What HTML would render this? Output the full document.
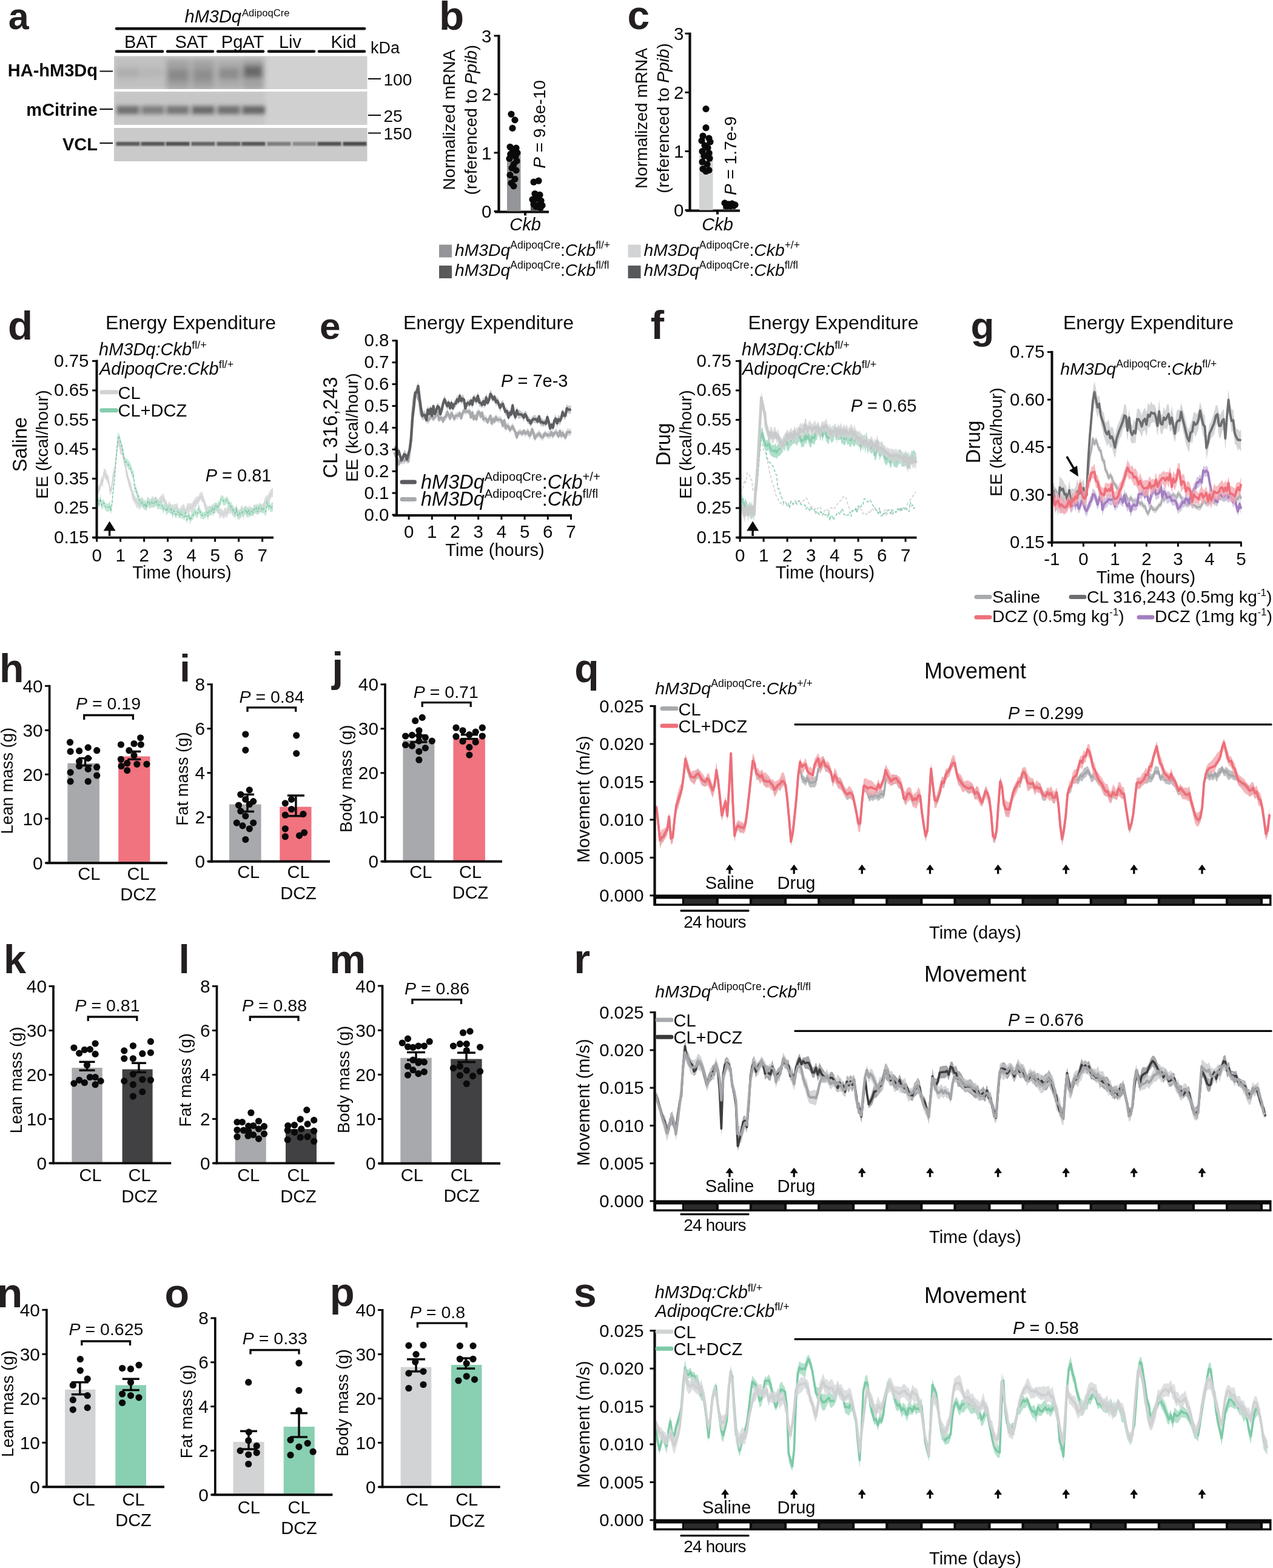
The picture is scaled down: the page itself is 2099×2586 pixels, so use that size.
<!DOCTYPE html>
<html><head><meta charset="utf-8"><title>Figure</title>
<style>html,body{margin:0;padding:0;background:#fff;overflow:hidden;}svg{display:block;}</style>
</head><body>
<svg width="2099" height="2586" viewBox="0 0 2099 2586" font-family="'Liberation Sans', Arial, Helvetica, sans-serif" fill="#0a0a0a"><text x="13.7" y="47.5" font-size="61" font-weight="bold" fill="#231f20">a</text>
<text x="304.5" y="37" font-size="29"><tspan font-style="italic">hM3Dq</tspan><tspan font-size="16.6" dx="1" dy="-10">AdipoqCre</tspan></text>
<line x1="192" y1="47.3" x2="601" y2="47.3" stroke="#0a0a0a" stroke-width="4.5" stroke-linecap="round" />
<text x="232" y="79" font-size="29" text-anchor="middle">BAT</text>
<text x="315.5" y="79" font-size="29" text-anchor="middle">SAT</text>
<text x="400" y="79" font-size="29" text-anchor="middle">PgAT</text>
<text x="478.5" y="79" font-size="29" text-anchor="middle">Liv</text>
<text x="566.5" y="79" font-size="29" text-anchor="middle">Kid</text>
<line x1="192" y1="84.8" x2="268" y2="84.8" stroke="#0a0a0a" stroke-width="4.5" stroke-linecap="round" />
<line x1="276" y1="84.8" x2="351" y2="84.8" stroke="#0a0a0a" stroke-width="4.5" stroke-linecap="round" />
<line x1="359" y1="84.8" x2="434" y2="84.8" stroke="#0a0a0a" stroke-width="4.5" stroke-linecap="round" />
<line x1="443" y1="84.8" x2="518" y2="84.8" stroke="#0a0a0a" stroke-width="4.5" stroke-linecap="round" />
<line x1="526" y1="84.8" x2="601" y2="84.8" stroke="#0a0a0a" stroke-width="4.5" stroke-linecap="round" />
<text x="611" y="88" font-size="27">kDa</text>
<defs><filter id="bl" x="-20%" y="-50%" width="140%" height="200%"><feGaussianBlur stdDeviation="3.2"/></filter><filter id="bl2" x="-20%" y="-50%" width="140%" height="200%"><feGaussianBlur stdDeviation="2.2"/></filter><filter id="bl3" x="-20%" y="-50%" width="140%" height="200%"><feGaussianBlur stdDeviation="1.2"/></filter><filter id="bl4" x="-20%" y="-50%" width="140%" height="200%"><feGaussianBlur stdDeviation="4.5"/></filter><filter id="bl5" x="-20%" y="-50%" width="140%" height="200%"><feGaussianBlur stdDeviation="3"/></filter><clipPath id="cb1"><rect x="188" y="92.5" width="417.5" height="54.5"/></clipPath><clipPath id="cb2"><rect x="188" y="151" width="417.5" height="55"/></clipPath><clipPath id="cb3"><rect x="188" y="211" width="417.5" height="55"/></clipPath></defs>
<rect x="188" y="92.5" width="417.5" height="54.5" fill="#d1d1d1" />
<rect x="188" y="151" width="417.5" height="55" fill="#d0d0d0" />
<rect x="188" y="211" width="417.5" height="55" fill="#cacaca" />
<g clip-path="url(#cb1)"><g filter="url(#bl4)">
<rect x="188" y="92.5" width="249" height="54.5" fill="#c0c0c0" />
<rect x="192" y="112" width="38" height="16" fill="#303030" fill-opacity="0.13"/>
<rect x="233" y="113" width="35" height="14" fill="#303030" fill-opacity="0.08"/>
<rect x="274" y="98" width="39" height="52" fill="#303030" fill-opacity="0.2"/>
<rect x="316" y="98" width="38" height="52" fill="#303030" fill-opacity="0.2"/>
<rect x="276" y="114" width="36" height="20" fill="#303030" fill-opacity="0.22"/>
<rect x="318" y="114" width="34" height="20" fill="#303030" fill-opacity="0.18"/>
<rect x="358" y="98" width="39" height="52" fill="#303030" fill-opacity="0.14"/>
<rect x="360" y="112" width="35" height="19" fill="#303030" fill-opacity="0.25"/>
<rect x="399" y="98" width="36" height="52" fill="#303030" fill-opacity="0.2"/>
<rect x="401" y="108" width="32" height="20" fill="#303030" fill-opacity="0.5"/>
</g></g>
<g clip-path="url(#cb2)"><g filter="url(#bl5)">
<rect x="188" y="151" width="249" height="55" fill="#c6c6c6" />
<rect x="192" y="174" width="38" height="15" fill="#303030" fill-opacity="0.56"/>
<rect x="233" y="174" width="38" height="15" fill="#303030" fill-opacity="0.47"/>
<rect x="274" y="174" width="38" height="15" fill="#303030" fill-opacity="0.52"/>
<rect x="316" y="174" width="38" height="15" fill="#303030" fill-opacity="0.6"/>
<rect x="358" y="174" width="38" height="15" fill="#303030" fill-opacity="0.56"/>
<rect x="399" y="174" width="38" height="15" fill="#303030" fill-opacity="0.62"/>
</g></g>
<g clip-path="url(#cb3)"><g filter="url(#bl3)">
<rect x="191.5" y="234" width="39" height="6.5" fill="#303030" fill-opacity="0.72"/>
<rect x="232.5" y="234" width="39" height="6.5" fill="#303030" fill-opacity="0.75"/>
<rect x="273.5" y="234" width="39" height="6.5" fill="#303030" fill-opacity="0.78"/>
<rect x="315.5" y="234" width="39" height="6.5" fill="#303030" fill-opacity="0.66"/>
<rect x="357.5" y="234" width="39" height="6.5" fill="#303030" fill-opacity="0.68"/>
<rect x="398.5" y="234" width="39" height="6.5" fill="#303030" fill-opacity="0.75"/>
<rect x="440.5" y="234" width="39" height="6.5" fill="#303030" fill-opacity="0.5"/>
<rect x="482.5" y="234" width="39" height="6.5" fill="#303030" fill-opacity="0.42"/>
<rect x="523.5" y="234" width="39" height="6.5" fill="#303030" fill-opacity="0.78"/>
<rect x="565.5" y="234" width="39" height="6.5" fill="#303030" fill-opacity="0.82"/>
</g></g>
<text x="161" y="126" font-size="29" text-anchor="end" font-weight="bold">HA-hM3Dq</text>
<line x1="164.5" y1="117.5" x2="186" y2="117.5" stroke="#0a0a0a" stroke-width="2" stroke-linecap="butt" />
<text x="161" y="191" font-size="29" text-anchor="end" font-weight="bold">mCitrine</text>
<line x1="164.5" y1="180" x2="186" y2="180" stroke="#0a0a0a" stroke-width="2" stroke-linecap="butt" />
<text x="161" y="247.5" font-size="29" text-anchor="end" font-weight="bold">VCL</text>
<line x1="164.5" y1="236" x2="186" y2="236" stroke="#0a0a0a" stroke-width="2" stroke-linecap="butt" />
<text x="632.5" y="141" font-size="28">100</text>
<line x1="607" y1="130" x2="628" y2="130" stroke="#0a0a0a" stroke-width="2" stroke-linecap="butt" />
<text x="632.5" y="201" font-size="28">25</text>
<line x1="607" y1="190" x2="628" y2="190" stroke="#0a0a0a" stroke-width="2" stroke-linecap="butt" />
<text x="632.5" y="230" font-size="28">150</text>
<line x1="607" y1="219.5" x2="628" y2="219.5" stroke="#0a0a0a" stroke-width="2" stroke-linecap="butt" />
<text x="723.9" y="49.1" font-size="67.4" font-weight="bold" fill="#231f20">b</text>
<line x1="822.5" y1="57.5" x2="822.5" y2="350.1" stroke="#0a0a0a" stroke-width="4.2" stroke-linecap="butt" />
<line x1="814.5" y1="348.4" x2="822.5" y2="348.4" stroke="#0a0a0a" stroke-width="3" stroke-linecap="butt" />
<text x="810.5" y="359.2" font-size="29.5" text-anchor="end">0</text>
<line x1="814.5" y1="251.9" x2="822.5" y2="251.9" stroke="#0a0a0a" stroke-width="3" stroke-linecap="butt" />
<text x="810.5" y="262.7" font-size="29.5" text-anchor="end">1</text>
<line x1="814.5" y1="155.5" x2="822.5" y2="155.5" stroke="#0a0a0a" stroke-width="3" stroke-linecap="butt" />
<text x="810.5" y="166.3" font-size="29.5" text-anchor="end">2</text>
<line x1="814.5" y1="59" x2="822.5" y2="59" stroke="#0a0a0a" stroke-width="3" stroke-linecap="butt" />
<text x="810.5" y="69.8" font-size="29.5" text-anchor="end">3</text>
<line x1="816" y1="349.4" x2="905" y2="349.4" stroke="#0a0a0a" stroke-width="4" stroke-linecap="butt" />
<line x1="866" y1="348.4" x2="866" y2="355.4" stroke="#0a0a0a" stroke-width="4" stroke-linecap="butt" />
<rect x="836" y="252.9" width="22.5" height="95.5" fill="#939598" />
<rect x="875" y="330.1" width="21" height="18.3" fill="#58595b" />
<circle cx="843" cy="188.3" r="5.6" fill="#0a0a0a"/>
<circle cx="849" cy="197.9" r="5.6" fill="#0a0a0a"/>
<circle cx="845" cy="211.4" r="5.6" fill="#0a0a0a"/>
<circle cx="841" cy="242.3" r="5.6" fill="#0a0a0a"/>
<circle cx="851" cy="244.2" r="5.6" fill="#0a0a0a"/>
<circle cx="846" cy="248.1" r="5.6" fill="#0a0a0a"/>
<circle cx="853" cy="251.9" r="5.6" fill="#0a0a0a"/>
<circle cx="842" cy="253.9" r="5.6" fill="#0a0a0a"/>
<circle cx="850" cy="257.7" r="5.6" fill="#0a0a0a"/>
<circle cx="840" cy="261.6" r="5.6" fill="#0a0a0a"/>
<circle cx="852" cy="265.4" r="5.6" fill="#0a0a0a"/>
<circle cx="847" cy="271.2" r="5.6" fill="#0a0a0a"/>
<circle cx="844" cy="277" r="5.6" fill="#0a0a0a"/>
<circle cx="851" cy="280.9" r="5.6" fill="#0a0a0a"/>
<circle cx="841" cy="288.6" r="5.6" fill="#0a0a0a"/>
<circle cx="849" cy="295.3" r="5.6" fill="#0a0a0a"/>
<circle cx="843" cy="302.1" r="5.6" fill="#0a0a0a"/>
<circle cx="847" cy="306.9" r="5.6" fill="#0a0a0a"/>
<circle cx="880" cy="300.2" r="5.6" fill="#0a0a0a"/>
<circle cx="888" cy="298.2" r="5.6" fill="#0a0a0a"/>
<circle cx="882" cy="319.5" r="5.6" fill="#0a0a0a"/>
<circle cx="890" cy="321.4" r="5.6" fill="#0a0a0a"/>
<circle cx="878" cy="329.1" r="5.6" fill="#0a0a0a"/>
<circle cx="886" cy="327.2" r="5.6" fill="#0a0a0a"/>
<circle cx="892" cy="331" r="5.6" fill="#0a0a0a"/>
<circle cx="880" cy="336.8" r="5.6" fill="#0a0a0a"/>
<circle cx="888" cy="338.8" r="5.6" fill="#0a0a0a"/>
<circle cx="894" cy="338.8" r="5.6" fill="#0a0a0a"/>
<circle cx="884" cy="340.7" r="5.6" fill="#0a0a0a"/>
<circle cx="891" cy="342.6" r="5.6" fill="#0a0a0a"/>
<text x="750" y="197.7" font-size="28" text-anchor="middle" transform="rotate(-90 750 197.7)">Normalized mRNA</text>
<text x="786" y="197.7" font-size="28" text-anchor="middle" transform="rotate(-90 786 197.7)">(referenced to <tspan font-style="italic">Ppib</tspan>)</text>
<text x="899" y="205" font-size="28" text-anchor="middle" transform="rotate(-90 899 205)"><tspan font-style="italic">P</tspan> = 9.8e-10</text>
<text x="866" y="380" font-size="29" text-anchor="middle" font-style="italic">Ckb</text>
<rect x="724" y="403.5" width="21" height="21" fill="#939598" />
<rect x="724" y="438" width="21" height="21" fill="#58595b" />
<text x="750" y="421.5" font-size="28.3"><tspan font-style="italic">hM3Dq</tspan><tspan font-size="17.5" dy="-11.3">AdipoqCre</tspan><tspan dy="11.3">:</tspan><tspan font-style="italic">Ckb</tspan><tspan font-size="17.5" dy="-11.3">fl/+</tspan></text>
<text x="750" y="454.5" font-size="28.3"><tspan font-style="italic">hM3Dq</tspan><tspan font-size="17.5" dy="-11.3">AdipoqCre</tspan><tspan dy="11.3">:</tspan><tspan font-style="italic">Ckb</tspan><tspan font-size="17.5" dy="-11.3">fl/fl</tspan></text>
<text x="1034.4" y="48" font-size="65.9" font-weight="bold" fill="#231f20">c</text>
<line x1="1137.5" y1="53.8" x2="1137.5" y2="348.4" stroke="#0a0a0a" stroke-width="4.2" stroke-linecap="butt" />
<line x1="1129.5" y1="346.6" x2="1137.5" y2="346.6" stroke="#0a0a0a" stroke-width="3" stroke-linecap="butt" />
<text x="1127.5" y="357.4" font-size="29.5" text-anchor="end">0</text>
<line x1="1129.5" y1="249.5" x2="1137.5" y2="249.5" stroke="#0a0a0a" stroke-width="3" stroke-linecap="butt" />
<text x="1127.5" y="260.3" font-size="29.5" text-anchor="end">1</text>
<line x1="1129.5" y1="152.4" x2="1137.5" y2="152.4" stroke="#0a0a0a" stroke-width="3" stroke-linecap="butt" />
<text x="1127.5" y="163.2" font-size="29.5" text-anchor="end">2</text>
<line x1="1129.5" y1="55.3" x2="1137.5" y2="55.3" stroke="#0a0a0a" stroke-width="3" stroke-linecap="butt" />
<text x="1127.5" y="66.1" font-size="29.5" text-anchor="end">3</text>
<line x1="1131" y1="347.6" x2="1220" y2="347.6" stroke="#0a0a0a" stroke-width="4" stroke-linecap="butt" />
<line x1="1183" y1="346.6" x2="1183" y2="353.6" stroke="#0a0a0a" stroke-width="4" stroke-linecap="butt" />
<rect x="1153" y="249.5" width="22.5" height="97.1" fill="#d1d3d4" />
<rect x="1192" y="336.9" width="21" height="9.7" fill="#58595b" />
<circle cx="1164" cy="179.6" r="5.6" fill="#0a0a0a"/>
<circle cx="1164" cy="210.7" r="5.6" fill="#0a0a0a"/>
<circle cx="1159" cy="224.3" r="5.6" fill="#0a0a0a"/>
<circle cx="1169" cy="228.1" r="5.6" fill="#0a0a0a"/>
<circle cx="1157" cy="232" r="5.6" fill="#0a0a0a"/>
<circle cx="1171" cy="234" r="5.6" fill="#0a0a0a"/>
<circle cx="1162" cy="239.8" r="5.6" fill="#0a0a0a"/>
<circle cx="1167" cy="243.7" r="5.6" fill="#0a0a0a"/>
<circle cx="1158" cy="249.5" r="5.6" fill="#0a0a0a"/>
<circle cx="1169" cy="252.4" r="5.6" fill="#0a0a0a"/>
<circle cx="1161" cy="257.3" r="5.6" fill="#0a0a0a"/>
<circle cx="1170" cy="261.2" r="5.6" fill="#0a0a0a"/>
<circle cx="1158" cy="267" r="5.6" fill="#0a0a0a"/>
<circle cx="1166" cy="270.9" r="5.6" fill="#0a0a0a"/>
<circle cx="1159" cy="278.6" r="5.6" fill="#0a0a0a"/>
<circle cx="1169" cy="280.6" r="5.6" fill="#0a0a0a"/>
<circle cx="1164" cy="282.5" r="5.6" fill="#0a0a0a"/>
<circle cx="1195" cy="334.9" r="5.6" fill="#0a0a0a"/>
<circle cx="1201" cy="336.9" r="5.6" fill="#0a0a0a"/>
<circle cx="1207" cy="335.9" r="5.6" fill="#0a0a0a"/>
<circle cx="1212" cy="337.9" r="5.6" fill="#0a0a0a"/>
<circle cx="1198" cy="339.8" r="5.6" fill="#0a0a0a"/>
<circle cx="1204" cy="339.8" r="5.6" fill="#0a0a0a"/>
<circle cx="1210" cy="338.8" r="5.6" fill="#0a0a0a"/>
<text x="1067" y="195" font-size="28" text-anchor="middle" transform="rotate(-90 1067 195)">Normalized mRNA</text>
<text x="1103" y="195" font-size="28" text-anchor="middle" transform="rotate(-90 1103 195)">(referenced to <tspan font-style="italic">Ppib</tspan>)</text>
<text x="1213.5" y="257" font-size="28" text-anchor="middle" transform="rotate(-90 1213.5 257)"><tspan font-style="italic">P</tspan> = 1.7e-9</text>
<text x="1183" y="380" font-size="29" text-anchor="middle" font-style="italic">Ckb</text>
<rect x="1035.5" y="403.5" width="21" height="21" fill="#d1d3d4" />
<rect x="1035.5" y="438" width="21" height="21" fill="#58595b" />
<text x="1061.5" y="421.5" font-size="28.3"><tspan font-style="italic">hM3Dq</tspan><tspan font-size="17.5" dy="-11.3">AdipoqCre</tspan><tspan dy="11.3">:</tspan><tspan font-style="italic">Ckb</tspan><tspan font-size="17.5" dy="-11.3">+/+</tspan></text>
<text x="1061.5" y="454.5" font-size="28.3"><tspan font-style="italic">hM3Dq</tspan><tspan font-size="17.5" dy="-11.3">AdipoqCre</tspan><tspan dy="11.3">:</tspan><tspan font-style="italic">Ckb</tspan><tspan font-size="17.5" dy="-11.3">fl/fl</tspan></text>
<text x="13" y="560.2" font-size="67.3" font-weight="bold" fill="#231f20">d</text>
<text x="314.5" y="543" font-size="32" text-anchor="middle">Energy Expenditure</text>
<polygon points="159.6,801.6 161.5,803.1 163.5,799.6 165.4,795.9 167.4,783.9 169.3,787.9 171.3,772.8 173.2,773.5 175.2,775.7 177.2,783.8 179.1,784.2 181.1,801.5 183,803.4 184.9,790.5 186.9,774.2 188.8,771.6 190.8,753.1 192.8,737.5 194.7,718.3 196.7,724.5 198.6,734.7 200.6,735.1 202.5,744.9 204.4,753.6 206.4,760 208.3,770.1 210.3,777.6 212.2,787 214.2,791.9 216.2,797.4 218.1,807.2 220.1,810.3 222,815.9 223.9,820.2 225.9,821.6 227.8,822.2 229.8,824.7 231.8,821.7 233.7,819.2 235.7,821.6 237.6,827.5 239.6,829 241.5,826.4 243.4,818.3 245.4,824.7 247.3,825.9 249.3,821.8 251.2,817.2 253.2,821 255.2,819.6 257.1,819.5 259.1,821.1 261,824 262.9,820.3 264.9,818.1 266.9,816.3 268.8,813.6 270.8,818.1 272.7,823.8 274.6,825.3 276.6,833 278.6,826.4 280.5,828.8 282.4,833 284.4,831.3 286.4,832.9 288.3,830.8 290.2,830.7 292.2,829.5 294.1,838.7 296.1,838.8 298.1,836 300,833.6 302,831.7 303.9,832.2 305.9,839.8 307.8,833 309.8,829.6 311.7,830.2 313.6,830.1 315.6,830.4 317.5,828.2 319.5,824.7 321.5,822.2 323.4,819 325.4,819 327.3,818.6 329.2,813.3 331.2,812.2 333.1,810.8 335.1,817 337,822.5 339,828.1 341,833.6 342.9,835.7 344.9,833.4 346.8,835.2 348.8,832.8 350.7,833.4 352.6,828.9 354.6,831.4 356.6,829.1 358.5,832.9 360.5,834.5 362.4,838.9 364.4,838.8 366.3,839.2 368.2,843 370.2,837.4 372.1,837 374.1,838.8 376.1,832.1 378,830 380,834.7 381.9,828.3 383.9,835.4 385.8,834.7 387.8,839.2 389.7,833.1 391.6,837.8 393.6,841.3 395.6,841.5 397.5,834.6 399.5,833.5 401.4,844 403.4,834.7 405.3,833.4 407.2,835.5 409.2,840.3 411.1,833 413.1,836.4 415.1,837.2 417,839 419,831 420.9,832.6 422.9,834.7 424.8,830.9 426.8,836.6 428.7,828.1 430.6,832.1 432.6,830.8 434.6,829.1 436.5,821.4 438.5,818.2 440.4,816.4 442.4,815.7 444.3,811 446.2,807.4 448.2,806.1 450.1,803.4 450.1,820 448.2,819.8 446.2,822.4 444.3,828 442.4,828.9 440.4,832.1 438.5,835 436.5,837.2 434.6,841.3 432.6,846.1 430.6,844.4 428.7,845 426.8,848.7 424.8,845.8 422.9,849.6 420.9,844.4 419,848.4 417,851.7 415.1,850.9 413.1,850.2 411.1,848.5 409.2,854.2 407.2,850.9 405.3,846.5 403.4,848.4 401.4,858.2 399.5,847.3 397.5,851.2 395.6,857.3 393.6,854.1 391.6,851.8 389.7,849.1 387.8,855.7 385.8,847.8 383.9,851.3 381.9,845.4 380,848.6 378,845.7 376.1,849.1 374.1,854.7 372.1,850.7 370.2,854.5 368.2,855.4 366.3,851.7 364.4,852.2 362.4,856.2 360.5,847.5 358.5,847 356.6,842.8 354.6,847 352.6,844.5 350.7,849.2 348.8,847.6 346.8,849.1 344.9,850 342.9,847.4 341,847.5 339,843.4 337,837.7 335.1,829.1 333.1,827.7 331.2,824.1 329.2,826.3 327.3,832 325.4,831.8 323.4,836.3 321.5,836.7 319.5,840.3 317.5,843.9 315.6,846.6 313.6,842.3 311.7,846.2 309.8,844.3 307.8,848.5 305.9,852.6 303.9,847.6 302,845.8 300,849 298.1,851.5 296.1,855.1 294.1,854 292.2,841.4 290.2,843 288.3,844.3 286.4,848.2 284.4,845.6 282.4,847.4 280.5,846 278.6,843.1 276.6,847.2 274.6,838 272.7,835.8 270.8,830.5 268.8,828.2 266.9,828.6 264.9,833.1 262.9,833.3 261,835.9 259.1,835.8 257.1,835.1 255.2,834.1 253.2,836.7 251.2,829.8 249.3,837.4 247.3,839.1 245.4,837.2 243.4,835.1 241.5,842.1 239.6,841.3 237.6,839.7 235.7,838.6 233.7,834 231.8,838.2 229.8,841.4 227.8,835.9 225.9,838.7 223.9,833.9 222,829.9 220.1,826.6 218.1,824.1 216.2,812.2 214.2,807.8 212.2,802.1 210.3,792.2 208.3,787.5 206.4,772.8 204.4,766 202.5,756.8 200.6,749.7 198.6,750.3 196.7,737.7 194.7,734.2 192.8,752.6 190.8,765.2 188.8,784.5 186.9,791.5 184.9,806.7 183,816.1 181.1,815.2 179.1,799 177.2,796.5 175.2,791.5 173.2,790.3 171.3,786.2 169.3,804.3 167.4,799.5 165.4,808.5 163.5,811.4 161.5,818.1 159.6,816.2" fill="#dcdddf" fill-opacity="1"/>
<polyline points="159.6,808.9 161.5,810.6 163.5,805.5 165.4,802.2 167.4,791.7 169.3,796.1 171.3,779.5 173.2,781.9 175.2,783.6 177.2,790.1 179.1,791.6 181.1,808.3 183,809.7 184.9,798.6 186.9,782.9 188.8,778.1 190.8,759.2 192.8,745.1 194.7,726.2 196.7,731.1 198.6,742.5 200.6,742.4 202.5,750.9 204.4,759.8 206.4,766.4 208.3,778.8 210.3,784.9 212.2,794.5 214.2,799.9 216.2,804.8 218.1,815.7 220.1,818.4 222,822.9 223.9,827 225.9,830.2 227.8,829 229.8,833.1 231.8,829.9 233.7,826.6 235.7,830.1 237.6,833.6 239.6,835.1 241.5,834.3 243.4,826.7 245.4,831 247.3,832.5 249.3,829.6 251.2,823.5 253.2,828.8 255.2,826.9 257.1,827.3 259.1,828.4 261,829.9 262.9,826.8 264.9,825.6 266.9,822.5 268.8,820.9 270.8,824.3 272.7,829.8 274.6,831.7 276.6,840.1 278.6,834.7 280.5,837.4 282.4,840.2 284.4,838.4 286.4,840.5 288.3,837.5 290.2,836.9 292.2,835.4 294.1,846.3 296.1,847 298.1,843.7 300,841.3 302,838.7 303.9,839.9 305.9,846.2 307.8,840.7 309.8,836.9 311.7,838.2 313.6,836.2 315.6,838.5 317.5,836.1 319.5,832.5 321.5,829.4 323.4,827.6 325.4,825.4 327.3,825.3 329.2,819.8 331.2,818.1 333.1,819.3 335.1,823.1 337,830.1 339,835.8 341,840.6 342.9,841.5 344.9,841.7 346.8,842.1 348.8,840.2 350.7,841.3 352.6,836.7 354.6,839.2 356.6,836 358.5,840 360.5,841 362.4,847.6 364.4,845.5 366.3,845.4 368.2,849.2 370.2,845.9 372.1,843.9 374.1,846.7 376.1,840.6 378,837.9 380,841.6 381.9,836.9 383.9,843.3 385.8,841.2 387.8,847.5 389.7,841.1 391.6,844.8 393.6,847.7 395.6,849.4 397.5,842.9 399.5,840.4 401.4,851.1 403.4,841.6 405.3,840 407.2,843.2 409.2,847.2 411.1,840.7 413.1,843.3 415.1,844 417,845.4 419,839.7 420.9,838.5 422.9,842.1 424.8,838.3 426.8,842.7 428.7,836.5 430.6,838.2 432.6,838.4 434.6,835.2 436.5,829.3 438.5,826.6 440.4,824.2 442.4,822.3 444.3,819.5 446.2,814.9 448.2,813 450.1,811.7" fill="none" stroke="#d0d1d3" stroke-width="1.5" stroke-linejoin="round" />
<polygon points="159.6,817.6 161.5,817.6 163.5,825.9 165.4,814.9 167.4,826.5 169.3,824.4 171.3,823.4 173.2,829.3 175.2,829.8 177.2,831.5 179.1,829.7 181.1,825.9 183,836.8 184.9,821.9 186.9,798.1 188.8,784.9 190.8,758.5 192.8,731.4 194.7,713.1 196.7,715.8 198.6,722.1 200.6,729.9 202.5,735.6 204.4,747.4 206.4,755.3 208.3,756.3 210.3,757.7 212.2,759.7 214.2,762.6 216.2,767.3 218.1,775.4 220.1,775.1 222,797.4 223.9,800.2 225.9,807.1 227.8,812.7 229.8,817.6 231.8,824.2 233.7,822.3 235.7,823.1 237.6,826.2 239.6,822.8 241.5,831.8 243.4,819.3 245.4,820.6 247.3,824.6 249.3,822.3 251.2,821.6 253.2,825.5 255.2,820.9 257.1,818.4 259.1,823.7 261,824.6 262.9,827.7 264.9,826.9 266.9,824.9 268.8,832.6 270.8,830.2 272.7,831 274.6,836 276.6,832.1 278.6,833.3 280.5,832 282.4,833.5 284.4,840.5 286.4,836.5 288.3,838.6 290.2,842.5 292.2,837.8 294.1,839.1 296.1,843.2 298.1,839 300,843.3 302,842.6 303.9,846.1 305.9,840 307.8,852.3 309.8,845.6 311.7,842 313.6,850.7 315.6,847.3 317.5,844.3 319.5,839.4 321.5,837.8 323.4,840.7 325.4,842 327.3,830.8 329.2,834.9 331.2,841.2 333.1,843.2 335.1,845.3 337,843.8 339,843.3 341,837.1 342.9,844.5 344.9,836 346.8,835.3 348.8,835.4 350.7,830.9 352.6,840.4 354.6,828.9 356.6,828.1 358.5,830.8 360.5,825 362.4,826 364.4,816.7 366.3,817 368.2,817.8 370.2,822.5 372.1,819.6 374.1,818.8 376.1,821.1 378,826.5 380,826.8 381.9,830.7 383.9,833.1 385.8,837.7 387.8,839.4 389.7,830.7 391.6,845.3 393.6,843.2 395.6,838.6 397.5,840.9 399.5,838.5 401.4,836.5 403.4,836 405.3,835 407.2,839.2 409.2,834.7 411.1,842.1 413.1,835.4 415.1,838.2 417,838 419,833.4 420.9,835 422.9,829.6 424.8,838.7 426.8,829.9 428.7,829.9 430.6,831.9 432.6,836.4 434.6,831.6 436.5,835.1 438.5,836.9 440.4,820.7 442.4,827.7 444.3,825.1 446.2,833.6 448.2,828 450.1,828.5 450.1,843.2 448.2,843.8 446.2,844.7 444.3,840.3 442.4,842.4 440.4,836 438.5,851 436.5,849.7 434.6,845.7 432.6,847.7 430.6,844.1 428.7,844.9 426.8,843.9 424.8,849.7 422.9,845.1 420.9,847.7 419,845.7 417,851.7 415.1,849.2 413.1,850.7 411.1,854.6 409.2,846.3 407.2,855 405.3,850.1 403.4,847 401.4,850.2 399.5,851.4 397.5,854.2 395.6,853.1 393.6,857.9 391.6,856.1 389.7,844.8 387.8,853.9 385.8,851.9 383.9,849 381.9,843.5 380,842.7 378,838.4 376.1,835.3 374.1,829.8 372.1,832.9 370.2,833.3 368.2,833.7 366.3,828.7 364.4,827.9 362.4,838.6 360.5,838.6 358.5,845.1 356.6,842.2 354.6,840.1 352.6,852 350.7,843.9 348.8,850.4 346.8,849.9 344.9,848.3 342.9,858.9 341,850.9 339,854.6 337,854.9 335.1,857.4 333.1,854.8 331.2,856.7 329.2,848.4 327.3,846.7 325.4,854.8 323.4,853.6 321.5,850.1 319.5,854.2 317.5,857.8 315.6,858.7 313.6,865 311.7,856.9 309.8,857 307.8,864.2 305.9,850.8 303.9,859.4 302,855.2 300,856.1 298.1,852.3 296.1,855.8 294.1,849.9 292.2,850.4 290.2,855.2 288.3,852.8 286.4,848.8 284.4,855 282.4,846.3 280.5,847.9 278.6,845.2 276.6,846.1 274.6,850.6 272.7,843.6 270.8,842.6 268.8,846.9 266.9,840.3 264.9,840 262.9,838.8 261,840.4 259.1,838.2 257.1,832.2 255.2,836 253.2,837.6 251.2,837.5 249.3,834.5 247.3,838.6 245.4,833.1 243.4,833.8 241.5,843.2 239.6,837.8 237.6,841.7 235.7,835.9 233.7,836 231.8,835.2 229.8,830.1 227.8,826.1 225.9,820.5 223.9,811.9 222,812.6 220.1,790.7 218.1,788.8 216.2,780.1 214.2,776 212.2,775.1 210.3,771.4 208.3,768.1 206.4,767.3 204.4,762 202.5,749.5 200.6,740.7 198.6,735.7 196.7,727.1 194.7,724.5 192.8,743.5 190.8,771.9 188.8,797.4 186.9,813.1 184.9,834.5 183,848.5 181.1,841.4 179.1,842.9 177.2,844.8 175.2,842.4 173.2,841.6 171.3,834.9 169.3,839.4 167.4,840.3 165.4,829.5 163.5,838.1 161.5,831.9 159.6,831.5" fill="#b5e1cd" fill-opacity="0.8"/>
<polyline points="159.6,824.6 161.5,824.7 163.5,832 165.4,822.2 167.4,833.4 169.3,831.9 171.3,829.2 173.2,835.5 175.2,836.1 177.2,838.1 179.1,836.3 181.1,833.7 183,842.6 184.9,828.2 186.9,805.6 188.8,791.1 190.8,765.2 192.8,737.5 194.7,718.8 196.7,721.5 198.6,728.9 200.6,735.3 202.5,742.6 204.4,754.7 206.4,761.3 208.3,762.2 210.3,764.6 212.2,767.4 214.2,769.3 216.2,773.7 218.1,782.1 220.1,782.9 222,805 223.9,806 225.9,813.8 227.8,819.4 229.8,823.8 231.8,829.7 233.7,829.2 235.7,829.5 237.6,834 239.6,830.3 241.5,837.5 243.4,826.6 245.4,826.8 247.3,831.6 249.3,828.4 251.2,829.5 253.2,831.6 255.2,828.4 257.1,825.3 259.1,830.9 261,832.5 262.9,833.3 264.9,833.4 266.9,832.6 268.8,839.7 270.8,836.4 272.7,837.3 274.6,843.3 276.6,839.1 278.6,839.3 280.5,840 282.4,839.9 284.4,847.7 286.4,842.6 288.3,845.7 290.2,848.9 292.2,844.1 294.1,844.5 296.1,849.5 298.1,845.6 300,849.7 302,848.9 303.9,852.7 305.9,845.4 307.8,858.2 309.8,851.3 311.7,849.5 313.6,857.9 315.6,853 317.5,851.1 319.5,846.8 321.5,844 323.4,847.2 325.4,848.4 327.3,838.8 329.2,841.6 331.2,848.9 333.1,849 335.1,851.3 337,849.3 339,848.9 341,844 342.9,851.7 344.9,842.1 346.8,842.6 348.8,842.9 350.7,837.4 352.6,846.2 354.6,834.5 356.6,835.2 358.5,838 360.5,831.8 362.4,832.3 364.4,822.3 366.3,822.9 368.2,825.7 370.2,827.9 372.1,826.3 374.1,824.3 376.1,828.2 378,832.4 380,834.8 381.9,837.1 383.9,841 385.8,844.8 387.8,846.7 389.7,837.8 391.6,850.7 393.6,850.6 395.6,845.9 397.5,847.6 399.5,844.9 401.4,843.3 403.4,841.5 405.3,842.5 407.2,847.1 409.2,840.5 411.1,848.4 413.1,843.1 415.1,843.7 417,844.9 419,839.6 420.9,841.3 422.9,837.4 424.8,844.2 426.8,836.9 428.7,837.4 430.6,838 432.6,842 434.6,838.6 436.5,842.4 438.5,844 440.4,828.4 442.4,835.1 444.3,832.7 446.2,839.1 448.2,835.9 450.1,835.9" fill="none" stroke="#6fc19c" stroke-width="1.3" stroke-linejoin="round" stroke-dasharray="4,3"/>
<line x1="159.5" y1="593.4" x2="159.5" y2="888.4" stroke="#0a0a0a" stroke-width="4" stroke-linecap="butt" />
<line x1="152" y1="886.4" x2="159.5" y2="886.4" stroke="#0a0a0a" stroke-width="3" stroke-linecap="butt" />
<text x="146.5" y="895.9" font-size="29.5" text-anchor="end">0.15</text>
<line x1="152" y1="837.9" x2="159.5" y2="837.9" stroke="#0a0a0a" stroke-width="3" stroke-linecap="butt" />
<text x="146.5" y="847.4" font-size="29.5" text-anchor="end">0.25</text>
<line x1="152" y1="789.4" x2="159.5" y2="789.4" stroke="#0a0a0a" stroke-width="3" stroke-linecap="butt" />
<text x="146.5" y="798.9" font-size="29.5" text-anchor="end">0.35</text>
<line x1="152" y1="740.9" x2="159.5" y2="740.9" stroke="#0a0a0a" stroke-width="3" stroke-linecap="butt" />
<text x="146.5" y="750.4" font-size="29.5" text-anchor="end">0.45</text>
<line x1="152" y1="692.4" x2="159.5" y2="692.4" stroke="#0a0a0a" stroke-width="3" stroke-linecap="butt" />
<text x="146.5" y="701.9" font-size="29.5" text-anchor="end">0.55</text>
<line x1="152" y1="643.9" x2="159.5" y2="643.9" stroke="#0a0a0a" stroke-width="3" stroke-linecap="butt" />
<text x="146.5" y="653.4" font-size="29.5" text-anchor="end">0.65</text>
<line x1="152" y1="595.4" x2="159.5" y2="595.4" stroke="#0a0a0a" stroke-width="3" stroke-linecap="butt" />
<text x="146.5" y="604.9" font-size="29.5" text-anchor="end">0.75</text>
<line x1="153.5" y1="886.6" x2="451" y2="886.6" stroke="#0a0a0a" stroke-width="3.8" stroke-linecap="butt" />
<line x1="159.6" y1="886.6" x2="159.6" y2="893.6" stroke="#0a0a0a" stroke-width="3" stroke-linecap="butt" />
<text x="159.6" y="925.5" font-size="29.5" text-anchor="middle">0</text>
<line x1="198.6" y1="886.6" x2="198.6" y2="893.6" stroke="#0a0a0a" stroke-width="3" stroke-linecap="butt" />
<text x="198.6" y="925.5" font-size="29.5" text-anchor="middle">1</text>
<line x1="237.6" y1="886.6" x2="237.6" y2="893.6" stroke="#0a0a0a" stroke-width="3" stroke-linecap="butt" />
<text x="237.6" y="925.5" font-size="29.5" text-anchor="middle">2</text>
<line x1="276.6" y1="886.6" x2="276.6" y2="893.6" stroke="#0a0a0a" stroke-width="3" stroke-linecap="butt" />
<text x="276.6" y="925.5" font-size="29.5" text-anchor="middle">3</text>
<line x1="315.6" y1="886.6" x2="315.6" y2="893.6" stroke="#0a0a0a" stroke-width="3" stroke-linecap="butt" />
<text x="315.6" y="925.5" font-size="29.5" text-anchor="middle">4</text>
<line x1="354.6" y1="886.6" x2="354.6" y2="893.6" stroke="#0a0a0a" stroke-width="3" stroke-linecap="butt" />
<text x="354.6" y="925.5" font-size="29.5" text-anchor="middle">5</text>
<line x1="393.6" y1="886.6" x2="393.6" y2="893.6" stroke="#0a0a0a" stroke-width="3" stroke-linecap="butt" />
<text x="393.6" y="925.5" font-size="29.5" text-anchor="middle">6</text>
<line x1="432.6" y1="886.6" x2="432.6" y2="893.6" stroke="#0a0a0a" stroke-width="3" stroke-linecap="butt" />
<text x="432.6" y="925.5" font-size="29.5" text-anchor="middle">7</text>
<text x="300" y="954" font-size="29" text-anchor="middle">Time (hours)</text>
<text x="43.5" y="733" font-size="32.5" text-anchor="middle" transform="rotate(-90 43.5 733)">Saline</text>
<text x="79" y="733" font-size="28.3" text-anchor="middle" transform="rotate(-90 79 733)">EE (kcal/hour)</text>
<text x="163" y="585.5" font-size="29" font-style="italic">hM3Dq:Ckb<tspan font-size="18" dy="-11" font-style="normal">fl/+</tspan></text>
<text x="164" y="617.5" font-size="29" font-style="italic">AdipoqCre:Ckb<tspan font-size="18" dy="-11" font-style="normal">fl/+</tspan></text>
<line x1="167.7" y1="646.8" x2="191.7" y2="646.8" stroke="#d1d2d4" stroke-width="7" stroke-linecap="round" />
<text x="194.5" y="657.5" font-size="29">CL</text>
<line x1="167.7" y1="676.7" x2="191.7" y2="676.7" stroke="#83cdac" stroke-width="7" stroke-linecap="round" />
<text x="194.5" y="686.5" font-size="29">CL+DCZ</text>
<text x="447.5" y="794" font-size="29" text-anchor="end"><tspan font-style="italic">P</tspan> = 0.81</text>
<polygon points="180.6,859.5 170.6,875.5 190.6,875.5" fill="#0a0a0a"/>
<line x1="180.6" y1="874.5" x2="180.6" y2="884" stroke="#0a0a0a" stroke-width="3.5" stroke-linecap="butt" />
<text x="527" y="559.3" font-size="62" font-weight="bold" fill="#231f20">e</text>
<text x="805.5" y="543" font-size="32" text-anchor="middle">Energy Expenditure</text>
<polygon points="650.4,740.6 652.7,748.2 655,751.3 657.3,759.4 659.6,754.6 661.9,754.6 664.2,752.2 666.5,753.9 668.8,752.1 671,753.5 673.3,755.9 675.6,735.8 677.9,721.3 680.2,677.2 682.5,652.1 684.8,642.4 687.1,642.2 689.4,652.6 691.7,657.4 694,676.3 696.3,681.2 698.5,681.9 700.8,680.1 703.1,683.8 705.4,687.8 707.7,686.1 710,681.2 712.3,682.9 714.6,684.9 716.9,683.8 719.2,679.4 721.5,675.2 723.8,686.8 726.1,684.5 728.3,684.1 730.6,689.6 732.9,683.4 735.2,681.9 737.5,673.9 739.8,680 742.1,684.3 744.4,676.8 746.7,679.4 749,685.2 751.3,680.4 753.6,679.1 755.8,680.1 758.1,676.9 760.4,683.7 762.7,676.1 765,672.2 767.3,673.3 769.6,673.5 771.9,674.3 774.2,672.7 776.5,683.2 778.8,674.4 781.1,686.6 783.4,680.2 785.6,686.7 787.9,674.2 790.2,675 792.5,681.2 794.8,676.3 797.1,686.8 799.4,683.7 801.7,686 804,691.7 806.3,686.9 808.6,681.6 810.9,692.2 813.1,684.7 815.4,690.4 817.7,681.3 820,688.3 822.3,687 824.6,686.3 826.9,688 829.2,696.4 831.5,687.9 833.8,700.2 836.1,696.9 838.4,696.8 840.7,704.1 842.9,701.5 845.2,696.8 847.5,703.7 849.8,708.2 852.1,715.2 854.4,708.5 856.7,708.1 859,707.5 861.3,710.5 863.6,706.2 865.9,708.7 868.2,709.1 870.4,705.3 872.7,712 875,710.9 877.3,703.2 879.6,709.3 881.9,716.9 884.2,713.5 886.5,712.5 888.8,708.5 891.1,713 893.4,714.2 895.7,716 898,709.6 900.2,711 902.5,713.6 904.8,710.6 907.1,711.5 909.4,707.2 911.7,713.3 914,709.3 916.3,707.3 918.6,707.8 920.9,714.5 923.2,705.3 925.5,712.5 927.7,707.7 930,713.6 932.3,715.7 934.6,706.9 936.9,706.6 939.2,708 941.5,705.6 941.5,717.4 939.2,718.9 936.9,718.5 934.6,719.7 932.3,727.5 930,722.9 927.7,720.5 925.5,725.2 923.2,716.4 920.9,724.4 918.6,720.7 916.3,718.4 914,719.2 911.7,724.5 909.4,719.4 907.1,724.1 904.8,723.2 902.5,723.2 900.2,720.3 898,720.2 895.7,725.7 893.4,727 891.1,723.9 888.8,720.9 886.5,721.6 884.2,724.2 881.9,729.1 879.6,718.1 877.3,712.6 875,722.9 872.7,724.7 870.4,717.8 868.2,718.8 865.9,721.5 863.6,715.2 861.3,720.5 859,718.8 856.7,717.8 854.4,719.3 852.1,726.9 849.8,716.8 847.5,713 845.2,709.1 842.9,711 840.7,714.7 838.4,709.2 836.1,707.7 833.8,712.8 831.5,699 829.2,708.2 826.9,699.3 824.6,697.9 822.3,696.9 820,697.1 817.7,694 815.4,700.1 813.1,697.5 810.9,704.6 808.6,690.4 806.3,695.6 804,701.2 801.7,695.8 799.4,696.2 797.1,696.7 794.8,685.1 792.5,692.8 790.2,684.1 787.9,685.2 785.6,696.1 783.4,692.3 781.1,695.8 778.8,686.6 776.5,693.4 774.2,683.3 771.9,683.6 769.6,683.1 767.3,683.9 765,682.3 762.7,687 760.4,695.5 758.1,685.8 755.8,691.1 753.6,691.4 751.3,691.6 749,696.3 746.7,691.1 744.4,685.8 742.1,696.2 739.8,688.7 737.5,684.9 735.2,693.9 732.9,693.1 730.6,700.1 728.3,694.2 726.1,693.9 723.8,697.9 721.5,684.1 719.2,689.7 716.9,692.9 714.6,696.1 712.3,693.3 710,690.2 707.7,697.3 705.4,699.5 703.1,695 700.8,690.3 698.5,693.2 696.3,693 694,688.7 691.7,668.1 689.4,662.7 687.1,652.3 684.8,651 682.5,663.6 680.2,688.5 677.9,732.8 675.6,748.5 673.3,766.2 671,763 668.8,762.1 666.5,766 664.2,764.4 661.9,765.2 659.6,765.7 657.3,771.6 655,760.7 652.7,757.6 650.4,751.1" fill="#dadbdd" fill-opacity="1"/>
<polyline points="650.4,745.9 652.7,752.9 655,756 657.3,765.5 659.6,760.2 661.9,759.9 664.2,758.3 666.5,759.9 668.8,757.1 671,758.3 673.3,761 675.6,742.1 677.9,727 680.2,682.9 682.5,657.8 684.8,646.7 687.1,647.2 689.4,657.7 691.7,662.7 694,682.5 696.3,687.1 698.5,687.5 700.8,685.2 703.1,689.4 705.4,693.6 707.7,691.7 710,685.7 712.3,688.1 714.6,690.5 716.9,688.4 719.2,684.5 721.5,679.6 723.8,692.4 726.1,689.2 728.3,689.2 730.6,694.8 732.9,688.2 735.2,687.9 737.5,679.4 739.8,684.4 742.1,690.3 744.4,681.3 746.7,685.3 749,690.7 751.3,686 753.6,685.2 755.8,685.6 758.1,681.3 760.4,689.6 762.7,681.6 765,677.2 767.3,678.6 769.6,678.3 771.9,679 774.2,678 776.5,688.3 778.8,680.5 781.1,691.2 783.4,686.2 785.6,691.4 787.9,679.7 790.2,679.6 792.5,687 794.8,680.7 797.1,691.8 799.4,690 801.7,690.9 804,696.4 806.3,691.2 808.6,686 810.9,698.4 813.1,691.1 815.4,695.2 817.7,687.6 820,692.7 822.3,692 824.6,692.1 826.9,693.6 829.2,702.3 831.5,693.4 833.8,706.5 836.1,702.3 838.4,703 840.7,709.4 842.9,706.3 845.2,702.9 847.5,708.4 849.8,712.5 852.1,721 854.4,713.9 856.7,712.9 859,713.2 861.3,715.5 863.6,710.7 865.9,715.1 868.2,714 870.4,711.6 872.7,718.4 875,716.9 877.3,707.9 879.6,713.7 881.9,723 884.2,718.9 886.5,717.1 888.8,714.7 891.1,718.5 893.4,720.6 895.7,720.8 898,714.9 900.2,715.7 902.5,718.4 904.8,716.9 907.1,717.8 909.4,713.3 911.7,718.9 914,714.2 916.3,712.8 918.6,714.2 920.9,719.5 923.2,710.9 925.5,718.8 927.7,714.1 930,718.2 932.3,721.6 934.6,713.3 936.9,712.5 939.2,713.4 941.5,711.5" fill="none" stroke="#a9aaad" stroke-width="4.2" stroke-linejoin="round" />
<polygon points="650.4,733.5 652.7,733.9 655,742.8 657.3,737.8 659.6,745.8 661.9,752.3 664.2,749.3 666.5,741.5 668.8,744.2 671,751.2 673.3,742.4 675.6,735.9 677.9,715.4 680.2,682.3 682.5,664.2 684.8,642 687.1,641.3 689.4,629.2 691.7,650.4 694,665.2 696.3,680.6 698.5,677.6 700.8,678.1 703.1,686.1 705.4,668.6 707.7,675.2 710,667.8 712.3,680.2 714.6,664.3 716.9,677.2 719.2,670.7 721.5,664.6 723.8,666.6 726.1,677.7 728.3,670.5 730.6,660.4 732.9,652.1 735.2,657.6 737.5,662.4 739.8,658.2 742.1,666.7 744.4,657.8 746.7,667.6 749,661 751.3,659.1 753.6,651.8 755.8,656.6 758.1,647.1 760.4,655.4 762.7,650.4 765,653 767.3,668.5 769.6,660.4 771.9,658.3 774.2,661.1 776.5,655.5 778.8,660.7 781.1,650.6 783.4,652 785.6,655.6 787.9,646 790.2,656.6 792.5,658.2 794.8,661.7 797.1,654.5 799.4,661.1 801.7,648.1 804,659.3 806.3,653.8 808.6,642.2 810.9,646.5 813.1,653.4 815.4,649 817.7,656.9 820,653.7 822.3,660.1 824.6,665.5 826.9,661.6 829.2,659.6 831.5,667.2 833.8,672.2 836.1,672.2 838.4,683.3 840.7,674.8 842.9,678 845.2,662.9 847.5,677.3 849.8,681 852.1,671.3 854.4,675.8 856.7,676 859,678.3 861.3,679 863.6,681.4 865.9,677.3 868.2,679.3 870.4,687.9 872.7,686.4 875,692.7 877.3,686.4 879.6,685.3 881.9,684.1 884.2,685.9 886.5,689.9 888.8,681.6 891.1,689.9 893.4,688.8 895.7,692.3 898,691.1 900.2,693.3 902.5,681.8 904.8,690.3 907.1,700.1 909.4,695.3 911.7,700.1 914,687.1 916.3,683.9 918.6,690.8 920.9,683.8 923.2,686.6 925.5,683 927.7,673.8 930,679.7 932.3,679.5 934.6,666.6 936.9,668.9 939.2,669 941.5,668 941.5,682.2 939.2,682.6 936.9,682.1 934.6,680.3 932.3,692 930,691.6 927.7,685.1 925.5,696 923.2,701.5 920.9,698.8 918.6,705.4 916.3,696.8 914,700.4 911.7,710.6 909.4,705.5 907.1,713.3 904.8,701.9 902.5,693.8 900.2,704.1 898,702 895.7,703.9 893.4,702.7 891.1,702.9 888.8,692.2 886.5,700.6 884.2,697.2 881.9,698.6 879.6,696.5 877.3,700 875,704.2 872.7,699.8 870.4,698.7 868.2,694.2 865.9,688.9 863.6,695.9 861.3,690.2 859,689 856.7,690.5 854.4,690.8 852.1,682.7 849.8,695 847.5,687.4 845.2,674.4 842.9,689.1 840.7,686.1 838.4,693.9 836.1,683.6 833.8,686.4 831.5,681 829.2,672.8 826.9,673 824.6,679.4 822.3,672.2 820,667.6 817.7,669.8 815.4,660 813.1,663.8 810.9,659.8 808.6,657.1 806.3,665.4 804,669.4 801.7,662.8 799.4,673.7 797.1,669.1 794.8,673.6 792.5,670.6 790.2,670.7 787.9,659.5 785.6,667.5 783.4,664.7 781.1,661.3 778.8,674.3 776.5,665.9 774.2,672.8 771.9,670.2 769.6,671 767.3,678.9 765,665.2 762.7,664.4 760.4,666.9 758.1,658.3 755.8,668.2 753.6,666.2 751.3,672.6 749,671.5 746.7,679.2 744.4,671.2 742.1,679.8 739.8,669.6 737.5,677.1 735.2,670.7 732.9,665.4 730.6,670.7 728.3,681.6 726.1,688.3 723.8,676.7 721.5,675.2 719.2,683.4 716.9,688.4 714.6,675.5 712.3,691.6 710,680 707.7,690 705.4,682.5 703.1,699.5 700.8,691.6 698.5,691 696.3,691.3 694,679.1 691.7,661.3 689.4,644 687.1,653.5 684.8,653.3 682.5,676.4 680.2,696.5 677.9,727.1 675.6,746.1 673.3,755.5 671,764.5 668.8,756.6 666.5,756.6 664.2,761.4 661.9,766.3 659.6,756.8 657.3,749.3 655,757 652.7,745.1 650.4,744.3" fill="#b9babd" fill-opacity="0.8"/>
<polyline points="650.4,738.9 652.7,739.5 655,749.9 657.3,743.6 659.6,751.3 661.9,759.3 664.2,755.3 666.5,749.1 668.8,750.4 671,757.8 673.3,749 675.6,741 677.9,721.2 680.2,689.4 682.5,670.3 684.8,647.6 687.1,647.4 689.4,636.6 691.7,655.8 694,672.1 696.3,685.9 698.5,684.3 700.8,684.9 703.1,692.8 705.4,675.6 707.7,682.6 710,673.9 712.3,685.9 714.6,669.9 716.9,682.8 719.2,677.1 721.5,669.9 723.8,671.7 726.1,683 728.3,676 730.6,665.5 732.9,658.7 735.2,664.2 737.5,669.7 739.8,663.9 742.1,673.2 744.4,664.5 746.7,673.4 749,666.2 751.3,665.8 753.6,659 755.8,662.4 758.1,652.7 760.4,661.2 762.7,657.4 765,659.1 767.3,673.7 769.6,665.7 771.9,664.3 774.2,667 776.5,660.7 778.8,667.5 781.1,655.9 783.4,658.3 785.6,661.5 787.9,652.7 790.2,663.7 792.5,664.4 794.8,667.7 797.1,661.8 799.4,667.4 801.7,655.4 804,664.4 806.3,659.6 808.6,649.7 810.9,653.1 813.1,658.6 815.4,654.5 817.7,663.3 820,660.7 822.3,666.2 824.6,672.4 826.9,667.3 829.2,666.2 831.5,674.1 833.8,679.3 836.1,677.9 838.4,688.6 840.7,680.5 842.9,683.5 845.2,668.7 847.5,682.4 849.8,688 852.1,677 854.4,683.3 856.7,683.3 859,683.6 861.3,684.6 863.6,688.6 865.9,683.1 868.2,686.7 870.4,693.3 872.7,693.1 875,698.4 877.3,693.2 879.6,690.9 881.9,691.4 884.2,691.5 886.5,695.3 888.8,686.9 891.1,696.4 893.4,695.7 895.7,698.1 898,696.6 900.2,698.7 902.5,687.8 904.8,696.1 907.1,706.7 909.4,700.4 911.7,705.3 914,693.8 916.3,690.4 918.6,698.1 920.9,691.3 923.2,694 925.5,689.5 927.7,679.5 930,685.6 932.3,685.7 934.6,673.4 936.9,675.5 939.2,675.8 941.5,675.1" fill="none" stroke="#5d5e61" stroke-width="4.2" stroke-linejoin="round" />
<line x1="654" y1="560.4" x2="654" y2="851.8" stroke="#0a0a0a" stroke-width="4" stroke-linecap="butt" />
<line x1="646.5" y1="849" x2="654" y2="849" stroke="#0a0a0a" stroke-width="3" stroke-linecap="butt" />
<text x="641.5" y="858.5" font-size="29.5" text-anchor="end">0.0</text>
<line x1="646.5" y1="813.1" x2="654" y2="813.1" stroke="#0a0a0a" stroke-width="3" stroke-linecap="butt" />
<text x="641.5" y="822.6" font-size="29.5" text-anchor="end">0.1</text>
<line x1="646.5" y1="777.2" x2="654" y2="777.2" stroke="#0a0a0a" stroke-width="3" stroke-linecap="butt" />
<text x="641.5" y="786.7" font-size="29.5" text-anchor="end">0.2</text>
<line x1="646.5" y1="741.3" x2="654" y2="741.3" stroke="#0a0a0a" stroke-width="3" stroke-linecap="butt" />
<text x="641.5" y="750.8" font-size="29.5" text-anchor="end">0.3</text>
<line x1="646.5" y1="705.4" x2="654" y2="705.4" stroke="#0a0a0a" stroke-width="3" stroke-linecap="butt" />
<text x="641.5" y="714.9" font-size="29.5" text-anchor="end">0.4</text>
<line x1="646.5" y1="669.5" x2="654" y2="669.5" stroke="#0a0a0a" stroke-width="3" stroke-linecap="butt" />
<text x="641.5" y="679" font-size="29.5" text-anchor="end">0.5</text>
<line x1="646.5" y1="633.6" x2="654" y2="633.6" stroke="#0a0a0a" stroke-width="3" stroke-linecap="butt" />
<text x="641.5" y="643.1" font-size="29.5" text-anchor="end">0.6</text>
<line x1="646.5" y1="597.7" x2="654" y2="597.7" stroke="#0a0a0a" stroke-width="3" stroke-linecap="butt" />
<text x="641.5" y="607.2" font-size="29.5" text-anchor="end">0.7</text>
<line x1="646.5" y1="561.8" x2="654" y2="561.8" stroke="#0a0a0a" stroke-width="3" stroke-linecap="butt" />
<text x="641.5" y="571.3" font-size="29.5" text-anchor="end">0.8</text>
<line x1="648" y1="850" x2="943" y2="850" stroke="#0a0a0a" stroke-width="3.8" stroke-linecap="butt" />
<line x1="674.1" y1="850" x2="674.1" y2="857" stroke="#0a0a0a" stroke-width="3" stroke-linecap="butt" />
<text x="674.1" y="886.5" font-size="29.5" text-anchor="middle">0</text>
<line x1="712.3" y1="850" x2="712.3" y2="857" stroke="#0a0a0a" stroke-width="3" stroke-linecap="butt" />
<text x="712.3" y="886.5" font-size="29.5" text-anchor="middle">1</text>
<line x1="750.5" y1="850" x2="750.5" y2="857" stroke="#0a0a0a" stroke-width="3" stroke-linecap="butt" />
<text x="750.5" y="886.5" font-size="29.5" text-anchor="middle">2</text>
<line x1="788.7" y1="850" x2="788.7" y2="857" stroke="#0a0a0a" stroke-width="3" stroke-linecap="butt" />
<text x="788.7" y="886.5" font-size="29.5" text-anchor="middle">3</text>
<line x1="826.9" y1="850" x2="826.9" y2="857" stroke="#0a0a0a" stroke-width="3" stroke-linecap="butt" />
<text x="826.9" y="886.5" font-size="29.5" text-anchor="middle">4</text>
<line x1="865.1" y1="850" x2="865.1" y2="857" stroke="#0a0a0a" stroke-width="3" stroke-linecap="butt" />
<text x="865.1" y="886.5" font-size="29.5" text-anchor="middle">5</text>
<line x1="903.3" y1="850" x2="903.3" y2="857" stroke="#0a0a0a" stroke-width="3" stroke-linecap="butt" />
<text x="903.3" y="886.5" font-size="29.5" text-anchor="middle">6</text>
<line x1="941.5" y1="850" x2="941.5" y2="857" stroke="#0a0a0a" stroke-width="3" stroke-linecap="butt" />
<text x="941.5" y="886.5" font-size="29.5" text-anchor="middle">7</text>
<text x="816" y="917" font-size="29" text-anchor="middle">Time (hours)</text>
<text x="555.5" y="705" font-size="32.5" text-anchor="middle" transform="rotate(-90 555.5 705)">CL 316,243</text>
<text x="589.5" y="705" font-size="28.3" text-anchor="middle" transform="rotate(-90 589.5 705)">EE (kcal/hour)</text>
<text x="936.5" y="637.5" font-size="29" text-anchor="end"><tspan font-style="italic">P</tspan> = 7e-3</text>
<line x1="663" y1="795" x2="683.5" y2="795" stroke="#5a5b5e" stroke-width="7" stroke-linecap="round" />
<line x1="663" y1="823.5" x2="683.5" y2="823.5" stroke="#a7a9ac" stroke-width="7" stroke-linecap="round" />
<text x="694" y="805.5" font-size="32.5"><tspan font-style="italic">hM3Dq</tspan><tspan font-size="20.1" dy="-13">AdipoqCre</tspan><tspan dy="13">:</tspan><tspan font-style="italic">Ckb</tspan><tspan font-size="20.1" dy="-13">+/+</tspan></text>
<text x="694" y="834" font-size="32.5"><tspan font-style="italic">hM3Dq</tspan><tspan font-size="20.1" dy="-13">AdipoqCre</tspan><tspan dy="13">:</tspan><tspan font-style="italic">Ckb</tspan><tspan font-size="20.1" dy="-13">fl/fl</tspan></text>
<text x="1072.7" y="559.1" font-size="67" font-weight="bold" fill="#231f20">f</text>
<text x="1374" y="543" font-size="32" text-anchor="middle">Energy Expenditure</text>
<polyline points="1220.1,808.9 1222,810.6 1224,805.5 1225.9,802.2 1227.9,791.7 1229.8,796.1 1231.8,779.5 1233.8,781.9 1235.7,783.6 1237.6,790.1 1239.6,791.6 1241.5,808.3 1243.5,809.7 1245.4,798.6 1247.4,782.9 1249.3,778.1 1251.3,759.2 1253.2,745.1 1255.2,726.2 1257.1,731.1 1259.1,742.5 1261,742.4 1263,750.9 1264.9,759.8 1266.9,766.4 1268.8,778.8 1270.8,784.9 1272.8,794.5 1274.7,799.9 1276.6,804.8 1278.6,815.7 1280.5,818.4 1282.5,822.9 1284.4,827 1286.4,830.2 1288.3,829 1290.3,833.1 1292.2,829.9 1294.2,826.6 1296.1,830.1 1298.1,833.6 1300,835.1 1302,834.3 1303.9,826.7 1305.9,831 1307.8,832.5 1309.8,829.6 1311.8,823.5 1313.7,828.8 1315.6,826.9 1317.6,827.3 1319.5,828.4 1321.5,829.9 1323.4,826.8 1325.4,825.6 1327.3,822.5 1329.3,820.9 1331.2,824.3 1333.2,829.8 1335.1,831.7 1337.1,840.1 1339,834.7 1341,837.4 1342.9,840.2 1344.9,838.4 1346.8,840.5 1348.8,837.5 1350.8,836.9 1352.7,835.4 1354.6,846.3 1356.6,847 1358.5,843.7 1360.5,841.3 1362.4,838.7 1364.4,839.9 1366.3,846.2 1368.3,840.7 1370.2,836.9 1372.2,838.2 1374.1,836.2 1376.1,838.5 1378,836.1 1380,832.5 1381.9,829.4 1383.9,827.6 1385.8,825.4 1387.8,825.3 1389.8,819.8 1391.7,818.1 1393.6,819.3 1395.6,823.1 1397.5,830.1 1399.5,835.8 1401.4,840.6 1403.4,841.5 1405.3,841.7 1407.3,842.1 1409.2,840.2 1411.2,841.3 1413.1,836.7 1415.1,839.2 1417,836 1419,840 1420.9,841 1422.9,847.6 1424.8,845.5 1426.8,845.4 1428.8,849.2 1430.7,845.9 1432.6,843.9 1434.6,846.7 1436.5,840.6 1438.5,837.9 1440.4,841.6 1442.4,836.9 1444.3,843.3 1446.3,841.2 1448.2,847.5 1450.2,841.1 1452.1,844.8 1454.1,847.7 1456,849.4 1458,842.9 1459.9,840.4 1461.9,851.1 1463.8,841.6 1465.8,840 1467.8,843.2 1469.7,847.2 1471.6,840.7 1473.6,843.3 1475.5,844 1477.5,845.4 1479.4,839.7 1481.4,838.5 1483.3,842.1 1485.3,838.3 1487.2,842.7 1489.2,836.5 1491.1,838.2 1493.1,838.4 1495,835.2 1497,829.3 1498.9,826.6 1500.9,824.2 1502.8,822.3 1504.8,819.5 1506.8,814.9 1508.7,813 1510.6,811.7" fill="none" stroke="#cfd0d2" stroke-width="1.6" stroke-linejoin="round" stroke-dasharray="5,3"/>
<polyline points="1220.1,824.6 1222,824.7 1224,832 1225.9,822.2 1227.9,833.4 1229.8,831.9 1231.8,829.2 1233.8,835.5 1235.7,836.1 1237.6,838.1 1239.6,836.3 1241.5,833.7 1243.5,842.6 1245.4,828.2 1247.4,805.6 1249.3,791.1 1251.3,765.2 1253.2,737.5 1255.2,718.8 1257.1,721.5 1259.1,728.9 1261,735.3 1263,742.6 1264.9,754.7 1266.9,761.3 1268.8,762.2 1270.8,764.6 1272.8,767.4 1274.7,769.3 1276.6,773.7 1278.6,782.1 1280.5,782.9 1282.5,805 1284.4,806 1286.4,813.8 1288.3,819.4 1290.3,823.8 1292.2,829.7 1294.2,829.2 1296.1,829.5 1298.1,834 1300,830.3 1302,837.5 1303.9,826.6 1305.9,826.8 1307.8,831.6 1309.8,828.4 1311.8,829.5 1313.7,831.6 1315.6,828.4 1317.6,825.3 1319.5,830.9 1321.5,832.5 1323.4,833.3 1325.4,833.4 1327.3,832.6 1329.3,839.7 1331.2,836.4 1333.2,837.3 1335.1,843.3 1337.1,839.1 1339,839.3 1341,840 1342.9,839.9 1344.9,847.7 1346.8,842.6 1348.8,845.7 1350.8,848.9 1352.7,844.1 1354.6,844.5 1356.6,849.5 1358.5,845.6 1360.5,849.7 1362.4,848.9 1364.4,852.7 1366.3,845.4 1368.3,858.2 1370.2,851.3 1372.2,849.5 1374.1,857.9 1376.1,853 1378,851.1 1380,846.8 1381.9,844 1383.9,847.2 1385.8,848.4 1387.8,838.8 1389.8,841.6 1391.7,848.9 1393.6,849 1395.6,851.3 1397.5,849.3 1399.5,848.9 1401.4,844 1403.4,851.7 1405.3,842.1 1407.3,842.6 1409.2,842.9 1411.2,837.4 1413.1,846.2 1415.1,834.5 1417,835.2 1419,838 1420.9,831.8 1422.9,832.3 1424.8,822.3 1426.8,822.9 1428.8,825.7 1430.7,827.9 1432.6,826.3 1434.6,824.3 1436.5,828.2 1438.5,832.4 1440.4,834.8 1442.4,837.1 1444.3,841 1446.3,844.8 1448.2,846.7 1450.2,837.8 1452.1,850.7 1454.1,850.6 1456,845.9 1458,847.6 1459.9,844.9 1461.9,843.3 1463.8,841.5 1465.8,842.5 1467.8,847.1 1469.7,840.5 1471.6,848.4 1473.6,843.1 1475.5,843.7 1477.5,844.9 1479.4,839.6 1481.4,841.3 1483.3,837.4 1485.3,844.2 1487.2,836.9 1489.2,837.4 1491.1,838 1493.1,842 1495,838.6 1497,842.4 1498.9,844 1500.9,828.4 1502.8,835.1 1504.8,832.7 1506.8,839.1 1508.7,835.9 1510.6,835.9" fill="none" stroke="#86cdae" stroke-width="1.6" stroke-linejoin="round" stroke-dasharray="5,3"/>
<polygon points="1220.1,822.5 1222,825.7 1224,812.3 1225.9,827.9 1227.9,825.4 1229.8,821.7 1231.8,832.4 1233.8,833 1235.7,828.6 1237.6,829.9 1239.6,835.7 1241.5,833.6 1243.5,834.7 1245.4,808.9 1247.4,794.3 1249.3,767.5 1251.3,737.2 1253.2,713.6 1255.2,707.6 1257.1,704.1 1259.1,715.3 1261,721.1 1263,726.1 1264.9,726.8 1266.9,722.1 1268.8,723.4 1270.8,730.1 1272.8,734.5 1274.7,733.7 1276.6,734.3 1278.6,730.8 1280.5,736.7 1282.5,731.9 1284.4,730.7 1286.4,728 1288.3,725.1 1290.3,724.2 1292.2,718.7 1294.2,723.5 1296.1,716.6 1298.1,721.5 1300,720.3 1302,718.4 1303.9,717.7 1305.9,717.5 1307.8,710.1 1309.8,708.8 1311.8,713.4 1313.7,713.9 1315.6,714.3 1317.6,703.2 1319.5,712.4 1321.5,718.2 1323.4,715.1 1325.4,714.5 1327.3,708.7 1329.3,715.5 1331.2,705.8 1333.2,713.9 1335.1,714 1337.1,717.8 1339,708.1 1341,713 1342.9,711.9 1344.9,701.8 1346.8,702.8 1348.8,696.1 1350.8,699.7 1352.7,711.1 1354.6,694.3 1356.6,711.4 1358.5,698.9 1360.5,699.5 1362.4,708.7 1364.4,713.1 1366.3,711.9 1368.3,703.2 1370.2,705.2 1372.2,709.2 1374.1,707.7 1376.1,698 1378,705.5 1380,703.9 1381.9,704.5 1383.9,702 1385.8,704.2 1387.8,713.2 1389.8,710.2 1391.7,713.5 1393.6,714.6 1395.6,706 1397.5,714 1399.5,713.6 1401.4,713.9 1403.4,715.8 1405.3,709.5 1407.3,716.2 1409.2,718 1411.2,714.7 1413.1,712.4 1415.1,712.2 1417,715.8 1419,725.2 1420.9,715.1 1422.9,719 1424.8,718 1426.8,724 1428.8,710 1430.7,729.1 1432.6,723.2 1434.6,726 1436.5,729.5 1438.5,723 1440.4,730.9 1442.4,740.8 1444.3,733.9 1446.3,730.1 1448.2,724.1 1450.2,741.1 1452.1,735.4 1454.1,728.2 1456,734.2 1458,737.5 1459.9,744.1 1461.9,746.9 1463.8,744.5 1465.8,744.1 1467.8,752.8 1469.7,751.9 1471.6,744.1 1473.6,745.3 1475.5,749 1477.5,747.7 1479.4,752 1481.4,745 1483.3,741 1485.3,741.5 1487.2,747.9 1489.2,750.3 1491.1,746.3 1493.1,746.5 1495,746.3 1497,747.5 1498.9,753.4 1500.9,754.4 1502.8,742.8 1504.8,744.4 1506.8,741.3 1508.7,745.3 1510.6,747.1 1510.6,765.5 1508.7,763.7 1506.8,764 1504.8,764.9 1502.8,761.7 1500.9,775.3 1498.9,771.5 1497,765 1495,767.6 1493.1,768.6 1491.1,769.3 1489.2,769.6 1487.2,770.3 1485.3,762.9 1483.3,765.3 1481.4,765.6 1479.4,771.8 1477.5,770.6 1475.5,770.4 1473.6,769.2 1471.6,762.2 1469.7,769.9 1467.8,771.9 1465.8,762.2 1463.8,763.3 1461.9,767.9 1459.9,765.7 1458,761.2 1456,754 1454.1,750.6 1452.1,754.3 1450.2,759.5 1448.2,742 1446.3,749.7 1444.3,758.1 1442.4,759.4 1440.4,749.5 1438.5,745.8 1436.5,748.8 1434.6,745.7 1432.6,740.6 1430.7,749.9 1428.8,734.3 1426.8,747.8 1424.8,735.5 1422.9,737.2 1420.9,737.9 1419,746.7 1417,737.3 1415.1,733.6 1413.1,735 1411.2,731.7 1409.2,736 1407.3,736.6 1405.3,731.5 1403.4,736.2 1401.4,738.1 1399.5,732 1397.5,734.3 1395.6,727 1393.6,733.7 1391.7,734.2 1389.8,731.8 1387.8,732.1 1385.8,724.7 1383.9,726.3 1381.9,724.9 1380,724.9 1378,725.8 1376.1,717.1 1374.1,727.8 1372.2,729.4 1370.2,729.8 1368.3,722.5 1366.3,733.6 1364.4,730.4 1362.4,728.3 1360.5,717.9 1358.5,716.2 1356.6,728.6 1354.6,717.5 1352.7,727.8 1350.8,719.7 1348.8,717.1 1346.8,725.5 1344.9,726.5 1342.9,733.5 1341,732.1 1339,731.2 1337.1,738.7 1335.1,736.7 1333.2,731.2 1331.2,724.3 1329.3,734.3 1327.3,729.1 1325.4,737.4 1323.4,736.8 1321.5,738.2 1319.5,729.7 1317.6,727.5 1315.6,731.5 1313.7,735.9 1311.8,731.1 1309.8,732.1 1307.8,731.3 1305.9,734.8 1303.9,735.7 1302,739.3 1300,744.3 1298.1,743.6 1296.1,734.6 1294.2,744.5 1292.2,739.4 1290.3,746.2 1288.3,748 1286.4,751 1284.4,752 1282.5,753.2 1280.5,757.1 1278.6,753.8 1276.6,755.7 1274.7,752.9 1272.8,752.9 1270.8,751.1 1268.8,747.3 1266.9,741.3 1264.9,744.2 1263,743.9 1261,739 1259.1,736.2 1257.1,723.6 1255.2,729.2 1253.2,735.8 1251.3,760.4 1249.3,788.3 1247.4,815.2 1245.4,826 1243.5,854 1241.5,852.1 1239.6,857 1237.6,853.7 1235.7,848.8 1233.8,849.5 1231.8,851.3 1229.8,838.7 1227.9,846.3 1225.9,845.3 1224,835.8 1222,844.9 1220.1,839.7" fill="#a6dbc4" fill-opacity="0.9"/>
<polyline points="1220.1,831.1 1222,835.3 1224,824.1 1225.9,836.6 1227.9,835.8 1229.8,830.2 1231.8,841.9 1233.8,841.3 1235.7,838.7 1237.6,841.8 1239.6,846.3 1241.5,842.8 1243.5,844.3 1245.4,817.5 1247.4,804.8 1249.3,777.9 1251.3,748.8 1253.2,724.7 1255.2,718.4 1257.1,713.8 1259.1,725.8 1261,730.1 1263,735 1264.9,735.5 1266.9,731.7 1268.8,735.4 1270.8,740.6 1272.8,743.7 1274.7,743.3 1276.6,745 1278.6,742.3 1280.5,746.9 1282.5,742.5 1284.4,741.3 1286.4,739.5 1288.3,736.6 1290.3,735.2 1292.2,729 1294.2,734 1296.1,725.6 1298.1,732.5 1300,732.3 1302,728.8 1303.9,726.7 1305.9,726.1 1307.8,720.7 1309.8,720.4 1311.8,722.3 1313.7,724.9 1315.6,722.9 1317.6,715.3 1319.5,721 1321.5,728.2 1323.4,726 1325.4,726 1327.3,718.9 1329.3,724.9 1331.2,715 1333.2,722.5 1335.1,725.3 1337.1,728.3 1339,719.7 1341,722.6 1342.9,722.7 1344.9,714.2 1346.8,714.2 1348.8,706.6 1350.8,709.7 1352.7,719.4 1354.6,705.9 1356.6,720 1358.5,707.5 1360.5,708.7 1362.4,718.5 1364.4,721.7 1366.3,722.7 1368.3,712.8 1370.2,717.5 1372.2,719.3 1374.1,717.7 1376.1,707.5 1378,715.6 1380,714.4 1381.9,714.7 1383.9,714.1 1385.8,714.4 1387.8,722.7 1389.8,721 1391.7,723.9 1393.6,724.1 1395.6,716.5 1397.5,724.2 1399.5,722.8 1401.4,726 1403.4,726 1405.3,720.5 1407.3,726.4 1409.2,727 1411.2,723.2 1413.1,723.7 1415.1,722.9 1417,726.6 1419,735.9 1420.9,726.5 1422.9,728.1 1424.8,726.8 1426.8,735.9 1428.8,722.1 1430.7,739.5 1432.6,731.9 1434.6,735.8 1436.5,739.1 1438.5,734.4 1440.4,740.2 1442.4,750.1 1444.3,746 1446.3,739.9 1448.2,733.1 1450.2,750.3 1452.1,744.9 1454.1,739.4 1456,744.1 1458,749.3 1459.9,754.9 1461.9,757.4 1463.8,753.9 1465.8,753.2 1467.8,762.4 1469.7,760.9 1471.6,753.2 1473.6,757.2 1475.5,759.7 1477.5,759.2 1479.4,761.9 1481.4,755.3 1483.3,753.1 1485.3,752.2 1487.2,759.1 1489.2,759.9 1491.1,757.8 1493.1,757.6 1495,756.9 1497,756.2 1498.9,762.5 1500.9,764.9 1502.8,752.2 1504.8,754.6 1506.8,752.7 1508.7,754.5 1510.6,756.3" fill="none" stroke="#86cdae" stroke-width="3" stroke-linejoin="round" />
<polygon points="1220.1,830.8 1222,823.7 1224,828.6 1225.9,833.1 1227.9,839 1229.8,827.1 1231.8,826.1 1233.8,837.7 1235.7,826.2 1237.6,835.1 1239.6,826.1 1241.5,835.3 1243.5,837.4 1245.4,803.4 1247.4,783.8 1249.3,755.8 1251.3,720.3 1253.2,686.2 1255.2,645.6 1257.1,653.6 1259.1,666.2 1261,671.4 1263,692.5 1264.9,698.2 1266.9,703.6 1268.8,712.1 1270.8,701.9 1272.8,705.2 1274.7,711.5 1276.6,703 1278.6,705 1280.5,713 1282.5,708.1 1284.4,712.9 1286.4,722.1 1288.3,720.3 1290.3,727.1 1292.2,718 1294.2,714.5 1296.1,712 1298.1,707.7 1300,711.7 1302,711 1303.9,705.5 1305.9,707.7 1307.8,713 1309.8,701.2 1311.8,707.6 1313.7,705.2 1315.6,705.1 1317.6,702 1319.5,696.3 1321.5,700.4 1323.4,696.7 1325.4,701.3 1327.3,688.9 1329.3,691.1 1331.2,702.2 1333.2,695.8 1335.1,693.3 1337.1,696.1 1339,699.3 1341,698.5 1342.9,693.1 1344.9,696.1 1346.8,700.3 1348.8,694.7 1350.8,701 1352.7,704.7 1354.6,697 1356.6,694.3 1358.5,695.9 1360.5,693.6 1362.4,690.3 1364.4,698 1366.3,702.9 1368.3,698.6 1370.2,704.9 1372.2,701.8 1374.1,702.7 1376.1,702.3 1378,698.2 1380,707.9 1381.9,697.3 1383.9,705.5 1385.8,696.5 1387.8,702.2 1389.8,704.3 1391.7,699.1 1393.6,704.6 1395.6,699.2 1397.5,703.4 1399.5,706.6 1401.4,702.6 1403.4,698.6 1405.3,702.7 1407.3,706.2 1409.2,700.2 1411.2,709.5 1413.1,709.4 1415.1,713.4 1417,709.5 1419,713 1420.9,717.1 1422.9,721.6 1424.8,715.7 1426.8,717 1428.8,721.4 1430.7,723.2 1432.6,724.4 1434.6,723.7 1436.5,718.4 1438.5,723.4 1440.4,728.2 1442.4,723.3 1444.3,726.3 1446.3,716.8 1448.2,727.9 1450.2,727.8 1452.1,729.6 1454.1,727.6 1456,732.2 1458,733.9 1459.9,736.1 1461.9,738.4 1463.8,737.7 1465.8,739.4 1467.8,740.7 1469.7,740.3 1471.6,740.2 1473.6,741.3 1475.5,742.2 1477.5,738.9 1479.4,744.3 1481.4,740.4 1483.3,742.2 1485.3,745.1 1487.2,744.6 1489.2,744.7 1491.1,752.4 1493.1,741.4 1495,746 1497,762 1498.9,742.9 1500.9,751.2 1502.8,745.5 1504.8,753.7 1506.8,749.2 1508.7,746.3 1510.6,751.1 1510.6,775.7 1508.7,769.1 1506.8,771.8 1504.8,772.1 1502.8,764.6 1500.9,773.9 1498.9,767.5 1497,779.9 1495,769.8 1493.1,764.4 1491.1,770.8 1489.2,761.5 1487.2,764.5 1485.3,764.4 1483.3,761.7 1481.4,763.9 1479.4,762.2 1477.5,760.7 1475.5,761.1 1473.6,763.3 1471.6,762.4 1469.7,762.1 1467.8,758.8 1465.8,763.3 1463.8,756.7 1461.9,755.5 1459.9,753.3 1458,751.4 1456,751.1 1454.1,752 1452.1,748.8 1450.2,750.6 1448.2,750.5 1446.3,739.1 1444.3,749.3 1442.4,741.9 1440.4,752.7 1438.5,741.7 1436.5,735.4 1434.6,742.4 1432.6,744.4 1430.7,742.7 1428.8,738.2 1426.8,736.7 1424.8,738.1 1422.9,744.1 1420.9,737 1419,732.9 1417,734.1 1415.1,737.1 1413.1,733.9 1411.2,729.4 1409.2,724 1407.3,729.1 1405.3,725.2 1403.4,718 1401.4,725.9 1399.5,724.6 1397.5,726.7 1395.6,720.3 1393.6,724.7 1391.7,717.7 1389.8,727.4 1387.8,720 1385.8,721 1383.9,722.3 1381.9,720.4 1380,732.2 1378,716.9 1376.1,719.9 1374.1,720.6 1372.2,720.2 1370.2,727.1 1368.3,721.5 1366.3,720.8 1364.4,717 1362.4,712.9 1360.5,710.8 1358.5,715.6 1356.6,712.2 1354.6,715.5 1352.7,725.8 1350.8,720.8 1348.8,715.7 1346.8,720.3 1344.9,714.3 1342.9,715.2 1341,716.7 1339,720.5 1337.1,714.5 1335.1,714.2 1333.2,716 1331.2,719.2 1329.3,715 1327.3,711.7 1325.4,722.1 1323.4,720.9 1321.5,724.2 1319.5,718 1317.6,718.8 1315.6,728.4 1313.7,726.6 1311.8,728.4 1309.8,720.7 1307.8,731 1305.9,728.5 1303.9,724.3 1302,734.2 1300,733.4 1298.1,724.5 1296.1,732.4 1294.2,738.6 1292.2,741.2 1290.3,745.3 1288.3,739 1286.4,739.4 1284.4,732.5 1282.5,728.2 1280.5,731.8 1278.6,723.2 1276.6,726.2 1274.7,733 1272.8,729.9 1270.8,724.1 1268.8,732.8 1266.9,723.3 1264.9,719.3 1263,712.5 1261,689.6 1259.1,686.7 1257.1,676.4 1255.2,666.3 1253.2,703 1251.3,738.3 1249.3,773.5 1247.4,800.6 1245.4,827.3 1243.5,860.4 1241.5,853.6 1239.6,845.5 1237.6,858.6 1235.7,849.8 1233.8,861.2 1231.8,850.6 1229.8,849.7 1227.9,862.5 1225.9,854.6 1224,848.8 1222,848.1 1220.1,847.4" fill="#d4d5d7" fill-opacity="0.8"/>
<polyline points="1220.1,839.1 1222,835.9 1224,838.7 1225.9,843.8 1227.9,850.8 1229.8,838.4 1231.8,838.4 1233.8,849.4 1235.7,838 1237.6,846.8 1239.6,835.8 1241.5,844.5 1243.5,848.9 1245.4,815.3 1247.4,792.2 1249.3,764.6 1251.3,729.3 1253.2,694.6 1255.2,656 1257.1,665 1259.1,676.5 1261,680.5 1263,702.5 1264.9,708.7 1266.9,713.5 1268.8,722.4 1270.8,713 1272.8,717.5 1274.7,722.2 1276.6,714.6 1278.6,714.1 1280.5,722.4 1282.5,718.2 1284.4,722.7 1286.4,730.8 1288.3,729.7 1290.3,736.2 1292.2,729.6 1294.2,726.5 1296.1,722.2 1298.1,716.1 1300,722.5 1302,722.6 1303.9,714.9 1305.9,718.1 1307.8,722 1309.8,711 1311.8,718 1313.7,715.9 1315.6,716.8 1317.6,710.4 1319.5,707.1 1321.5,712.3 1323.4,708.8 1325.4,711.7 1327.3,700.3 1329.3,703.1 1331.2,710.7 1333.2,705.9 1335.1,703.8 1337.1,705.3 1339,709.9 1341,707.6 1342.9,704.1 1344.9,705.2 1346.8,710.3 1348.8,705.2 1350.8,710.9 1352.7,715.2 1354.6,706.3 1356.6,703.3 1358.5,705.7 1360.5,702.2 1362.4,701.6 1364.4,707.5 1366.3,711.9 1368.3,710 1370.2,716 1372.2,711 1374.1,711.7 1376.1,711.1 1378,707.6 1380,720.1 1381.9,708.9 1383.9,713.9 1385.8,708.7 1387.8,711.1 1389.8,715.8 1391.7,708.4 1393.6,714.7 1395.6,709.8 1397.5,715.1 1399.5,715.6 1401.4,714.3 1403.4,708.3 1405.3,714 1407.3,717.7 1409.2,712.1 1411.2,719.4 1413.1,721.7 1415.1,725.3 1417,721.8 1419,723 1420.9,727.1 1422.9,732.8 1424.8,726.9 1426.8,726.9 1428.8,729.8 1430.7,733 1432.6,734.4 1434.6,733.1 1436.5,726.9 1438.5,732.5 1440.4,740.4 1442.4,732.6 1444.3,737.8 1446.3,727.9 1448.2,739.2 1450.2,739.2 1452.1,739.2 1454.1,739.8 1456,741.7 1458,742.6 1459.9,744.7 1461.9,746.9 1463.8,747.2 1465.8,751.3 1467.8,749.7 1469.7,751.2 1471.6,751.3 1473.6,752.3 1475.5,751.6 1477.5,749.8 1479.4,753.3 1481.4,752.2 1483.3,752 1485.3,754.7 1487.2,754.6 1489.2,753.1 1491.1,761.6 1493.1,752.9 1495,757.9 1497,771 1498.9,755.2 1500.9,762.5 1502.8,755 1504.8,762.9 1506.8,760.5 1508.7,757.7 1510.6,763.4" fill="none" stroke="#c9cacc" stroke-width="4.5" stroke-linejoin="round" />
<line x1="1220.5" y1="593.4" x2="1220.5" y2="888.4" stroke="#0a0a0a" stroke-width="4" stroke-linecap="butt" />
<line x1="1213" y1="886.4" x2="1220.5" y2="886.4" stroke="#0a0a0a" stroke-width="3" stroke-linecap="butt" />
<text x="1206" y="895.9" font-size="29.5" text-anchor="end">0.15</text>
<line x1="1213" y1="837.9" x2="1220.5" y2="837.9" stroke="#0a0a0a" stroke-width="3" stroke-linecap="butt" />
<text x="1206" y="847.4" font-size="29.5" text-anchor="end">0.25</text>
<line x1="1213" y1="789.4" x2="1220.5" y2="789.4" stroke="#0a0a0a" stroke-width="3" stroke-linecap="butt" />
<text x="1206" y="798.9" font-size="29.5" text-anchor="end">0.35</text>
<line x1="1213" y1="740.9" x2="1220.5" y2="740.9" stroke="#0a0a0a" stroke-width="3" stroke-linecap="butt" />
<text x="1206" y="750.4" font-size="29.5" text-anchor="end">0.45</text>
<line x1="1213" y1="692.4" x2="1220.5" y2="692.4" stroke="#0a0a0a" stroke-width="3" stroke-linecap="butt" />
<text x="1206" y="701.9" font-size="29.5" text-anchor="end">0.55</text>
<line x1="1213" y1="643.9" x2="1220.5" y2="643.9" stroke="#0a0a0a" stroke-width="3" stroke-linecap="butt" />
<text x="1206" y="653.4" font-size="29.5" text-anchor="end">0.65</text>
<line x1="1213" y1="595.4" x2="1220.5" y2="595.4" stroke="#0a0a0a" stroke-width="3" stroke-linecap="butt" />
<text x="1206" y="604.9" font-size="29.5" text-anchor="end">0.75</text>
<line x1="1214.5" y1="886.6" x2="1511.5" y2="886.6" stroke="#0a0a0a" stroke-width="3.8" stroke-linecap="butt" />
<line x1="1220.1" y1="886.6" x2="1220.1" y2="893.6" stroke="#0a0a0a" stroke-width="3" stroke-linecap="butt" />
<text x="1220.1" y="925.5" font-size="29.5" text-anchor="middle">0</text>
<line x1="1259.1" y1="886.6" x2="1259.1" y2="893.6" stroke="#0a0a0a" stroke-width="3" stroke-linecap="butt" />
<text x="1259.1" y="925.5" font-size="29.5" text-anchor="middle">1</text>
<line x1="1298.1" y1="886.6" x2="1298.1" y2="893.6" stroke="#0a0a0a" stroke-width="3" stroke-linecap="butt" />
<text x="1298.1" y="925.5" font-size="29.5" text-anchor="middle">2</text>
<line x1="1337.1" y1="886.6" x2="1337.1" y2="893.6" stroke="#0a0a0a" stroke-width="3" stroke-linecap="butt" />
<text x="1337.1" y="925.5" font-size="29.5" text-anchor="middle">3</text>
<line x1="1376.1" y1="886.6" x2="1376.1" y2="893.6" stroke="#0a0a0a" stroke-width="3" stroke-linecap="butt" />
<text x="1376.1" y="925.5" font-size="29.5" text-anchor="middle">4</text>
<line x1="1415.1" y1="886.6" x2="1415.1" y2="893.6" stroke="#0a0a0a" stroke-width="3" stroke-linecap="butt" />
<text x="1415.1" y="925.5" font-size="29.5" text-anchor="middle">5</text>
<line x1="1454.1" y1="886.6" x2="1454.1" y2="893.6" stroke="#0a0a0a" stroke-width="3" stroke-linecap="butt" />
<text x="1454.1" y="925.5" font-size="29.5" text-anchor="middle">6</text>
<line x1="1493.1" y1="886.6" x2="1493.1" y2="893.6" stroke="#0a0a0a" stroke-width="3" stroke-linecap="butt" />
<text x="1493.1" y="925.5" font-size="29.5" text-anchor="middle">7</text>
<text x="1360.5" y="954" font-size="29" text-anchor="middle">Time (hours)</text>
<text x="1105" y="733" font-size="32.5" text-anchor="middle" transform="rotate(-90 1105 733)">Drug</text>
<text x="1139.5" y="733" font-size="28.3" text-anchor="middle" transform="rotate(-90 1139.5 733)">EE (kcal/hour)</text>
<text x="1223" y="585.5" font-size="29" font-style="italic">hM3Dq:Ckb<tspan font-size="18" dy="-11" font-style="normal">fl/+</tspan></text>
<text x="1224" y="617.5" font-size="29" font-style="italic">AdipoqCre:Ckb<tspan font-size="18" dy="-11" font-style="normal">fl/+</tspan></text>
<text x="1511.5" y="679" font-size="29" text-anchor="end"><tspan font-style="italic">P</tspan> = 0.65</text>
<polygon points="1241.1,859.5 1231.1,875.5 1251.1,875.5" fill="#0a0a0a"/>
<line x1="1241.1" y1="874.5" x2="1241.1" y2="884" stroke="#0a0a0a" stroke-width="3.5" stroke-linecap="butt" />
<text x="1600.4" y="558.9" font-size="63.7" font-weight="bold" fill="#231f20">g</text>
<text x="1893.5" y="543" font-size="32" text-anchor="middle">Energy Expenditure</text>
<polygon points="1734.4,790.6 1737,800 1739.6,802.8 1742.2,806.2 1744.8,813.7 1747.4,812.9 1750,813.8 1752.6,821.3 1755.2,813.4 1757.8,814 1760.4,817.1 1763,816.2 1765.6,814.1 1768.2,817.6 1770.8,816.9 1773.4,818.7 1776,808.5 1778.6,807.2 1781.2,805.5 1783.8,810.8 1786.4,803.9 1789,809 1791.6,813 1794.2,773.2 1796.8,748.5 1799.4,737 1802,718 1804.6,727.9 1807.2,719.3 1809.8,728.7 1812.4,736.6 1815,736.9 1817.6,752.4 1820.2,753.3 1822.8,770.2 1825.4,772.9 1828,783.2 1830.6,778.6 1833.2,781.3 1835.8,791.3 1838.4,792.9 1841,798.8 1843.6,799.5 1846.2,809 1848.8,814.4 1851.4,817.9 1854,815.4 1856.6,809.5 1859.2,818.2 1861.8,820.8 1864.4,815.1 1867,820.2 1869.6,821.9 1872.2,820.1 1874.8,822.1 1877.4,823.1 1880,826 1882.6,823.1 1885.2,829.4 1887.8,829.9 1890.4,838.5 1893,842.4 1895.6,836.3 1898.2,829.4 1900.8,835.7 1903.4,835.5 1906,835.3 1908.6,833.2 1911.2,827.8 1913.8,828.6 1916.4,816.6 1919,819 1921.6,816.3 1924.2,810 1926.8,811.1 1929.4,814.4 1932,813.5 1934.6,810.9 1937.2,813.2 1939.8,816.5 1942.4,808.3 1945,809.8 1947.6,815.5 1950.2,822.5 1952.8,822.3 1955.4,825.3 1958,827.8 1960.6,823.3 1963.2,822.5 1965.8,826.2 1968.4,828.8 1971,829.2 1973.6,832.6 1976.2,830.5 1978.8,830.7 1981.4,827.9 1984,819.8 1986.6,822.9 1989.2,825.1 1991.8,823.7 1994.4,825 1997,819.7 1999.6,820.1 2002.2,823.6 2004.8,817 2007.4,821.3 2010,813.9 2012.6,817.9 2015.2,811.6 2017.8,818.1 2020.4,817.3 2023,814.7 2025.6,812.1 2028.2,813.5 2030.8,819.8 2033.4,815.9 2036,816.4 2038.6,816.6 2041.2,817.5 2043.8,811.5 2046.4,816.4 2046.4,828.7 2043.8,820.2 2041.2,829.3 2038.6,828.8 2036,826.1 2033.4,825.6 2030.8,830.6 2028.2,825.6 2025.6,824 2023,826.1 2020.4,827.2 2017.8,828.5 2015.2,822.4 2012.6,826.9 2010,824 2007.4,830.2 2004.8,828.9 2002.2,835.4 1999.6,828.5 1997,830 1994.4,833.6 1991.8,835.1 1989.2,835.4 1986.6,832.7 1984,829.6 1981.4,838.7 1978.8,842.3 1976.2,841.5 1973.6,841.6 1971,838.8 1968.4,838.3 1965.8,838.5 1963.2,835 1960.6,833.9 1958,837.7 1955.4,836.8 1952.8,832.1 1950.2,831.2 1947.6,824.6 1945,822 1942.4,819.8 1939.8,828.2 1937.2,822.8 1934.6,820.6 1932,821.9 1929.4,825.7 1926.8,819.6 1924.2,822.4 1921.6,825.7 1919,830.7 1916.4,827.1 1913.8,837.2 1911.2,837.7 1908.6,842.3 1906,846.3 1903.4,845.9 1900.8,844.3 1898.2,839.3 1895.6,845.4 1893,852.4 1890.4,848.4 1887.8,839.3 1885.2,840 1882.6,834.8 1880,836.2 1877.4,832 1874.8,831.9 1872.2,831.5 1869.6,830.6 1867,831.4 1864.4,826 1861.8,833.1 1859.2,828 1856.6,821.7 1854,824.9 1851.4,829.2 1848.8,825.1 1846.2,817.5 1843.6,811.7 1841,810.1 1838.4,802.6 1835.8,803.8 1833.2,792.7 1830.6,789.5 1828,793.8 1825.4,785 1822.8,780.8 1820.2,765.7 1817.6,764.6 1815,749.1 1812.4,746.8 1809.8,738.7 1807.2,731.9 1804.6,737.3 1802,728.4 1799.4,747.4 1796.8,758.4 1794.2,783.5 1791.6,821.7 1789,819.6 1786.4,812.7 1783.8,823.1 1781.2,814.5 1778.6,819 1776,820.2 1773.4,827.9 1770.8,827.3 1768.2,826.8 1765.6,825.4 1763,827.5 1760.4,829.5 1757.8,824.9 1755.2,822.8 1752.6,829.8 1750,823.6 1747.4,821.9 1744.8,823.5 1742.2,815.6 1739.6,813.5 1737,811.6 1734.4,799.6" fill="#d8d9db" fill-opacity="1"/>
<polyline points="1734.4,795.1 1737,805.8 1739.6,808.2 1742.2,810.9 1744.8,818.6 1747.4,817.4 1750,818.7 1752.6,825.5 1755.2,818.1 1757.8,819.5 1760.4,823.3 1763,821.9 1765.6,819.8 1768.2,822.2 1770.8,822.1 1773.4,823.3 1776,814.4 1778.6,813.1 1781.2,810 1783.8,817 1786.4,808.3 1789,814.3 1791.6,817.3 1794.2,778.3 1796.8,753.5 1799.4,742.2 1802,723.2 1804.6,732.6 1807.2,725.6 1809.8,733.7 1812.4,741.7 1815,743 1817.6,758.5 1820.2,759.5 1822.8,775.5 1825.4,778.9 1828,788.5 1830.6,784 1833.2,787 1835.8,797.5 1838.4,797.8 1841,804.5 1843.6,805.6 1846.2,813.2 1848.8,819.7 1851.4,823.5 1854,820.1 1856.6,815.6 1859.2,823.1 1861.8,826.9 1864.4,820.6 1867,825.8 1869.6,826.3 1872.2,825.8 1874.8,827 1877.4,827.5 1880,831.1 1882.6,828.9 1885.2,834.7 1887.8,834.6 1890.4,843.4 1893,847.4 1895.6,840.8 1898.2,834.3 1900.8,840 1903.4,840.7 1906,840.8 1908.6,837.7 1911.2,832.7 1913.8,832.9 1916.4,821.9 1919,824.8 1921.6,821 1924.2,816.2 1926.8,815.3 1929.4,820 1932,817.7 1934.6,815.8 1937.2,818 1939.8,822.3 1942.4,814 1945,815.9 1947.6,820 1950.2,826.9 1952.8,827.2 1955.4,831 1958,832.7 1960.6,828.6 1963.2,828.7 1965.8,832.3 1968.4,833.6 1971,834 1973.6,837.1 1976.2,836 1978.8,836.5 1981.4,833.3 1984,824.7 1986.6,827.8 1989.2,830.3 1991.8,829.4 1994.4,829.3 1997,824.9 1999.6,824.3 2002.2,829.5 2004.8,823 2007.4,825.7 2010,819 2012.6,822.4 2015.2,817 2017.8,823.3 2020.4,822.2 2023,820.4 2025.6,818 2028.2,819.6 2030.8,825.2 2033.4,820.8 2036,821.3 2038.6,822.7 2041.2,823.4 2043.8,815.9 2046.4,822.6" fill="none" stroke="#aeafb2" stroke-width="3.5" stroke-linejoin="round" />
<polygon points="1734.4,800.3 1737,795.9 1739.6,811.8 1742.2,811.9 1744.8,814.3 1747.4,785.3 1750,788.8 1752.6,791.5 1755.2,797.7 1757.8,800.7 1760.4,813 1763,791.7 1765.6,806.9 1768.2,805.6 1770.8,806.4 1773.4,803.6 1776,790.3 1778.6,800 1781.2,793.3 1783.8,794.8 1786.4,789.5 1789,804.3 1791.6,799.1 1794.2,746.5 1796.8,703.8 1799.4,676 1802,643.1 1804.6,628.5 1807.2,641.4 1809.8,654.9 1812.4,652.1 1815,671.5 1817.6,677.4 1820.2,681.3 1822.8,696.2 1825.4,696.2 1828,691.5 1830.6,705.9 1833.2,703.2 1835.8,707.1 1838.4,720.3 1841,706.2 1843.6,698.7 1846.2,693.4 1848.8,685 1851.4,680.6 1854,666 1856.6,667.9 1859.2,691.6 1861.8,674.9 1864.4,697.4 1867,702.7 1869.6,691.6 1872.2,698.1 1874.8,675.2 1877.4,672.9 1880,677.6 1882.6,685.3 1885.2,676.3 1887.8,672.1 1890.4,680.4 1893,663.7 1895.6,669 1898.2,662.2 1900.8,667.4 1903.4,666.4 1906,674 1908.6,685.8 1911.2,659.5 1913.8,682.4 1916.4,684.3 1919,671 1921.6,678.4 1924.2,667.5 1926.8,666.3 1929.4,685 1932,669.3 1934.6,684.5 1937.2,700.9 1939.8,679.8 1942.4,674.5 1945,676.9 1947.6,664.4 1950.2,674.5 1952.8,683.1 1955.4,693.7 1958,705.3 1960.6,708.8 1963.2,699.3 1965.8,691.7 1968.4,679.4 1971,680.6 1973.6,683.3 1976.2,677.4 1978.8,662.8 1981.4,672.6 1984,681 1986.6,685.9 1989.2,720.3 1991.8,715.5 1994.4,699.2 1997,695.4 1999.6,686.7 2002.2,678.5 2004.8,668.4 2007.4,668.4 2010,682.3 2012.6,684 2015.2,676.9 2017.8,674.6 2020.4,703.8 2023,671.2 2025.6,641.2 2028.2,667.3 2030.8,675.2 2033.4,675.5 2036,697.7 2038.6,707.6 2041.2,707.5 2043.8,711.4 2046.4,707.9 2046.4,745 2043.8,739.5 2041.2,743.5 2038.6,734.8 2036,732.1 2033.4,710.8 2030.8,713.1 2028.2,695.6 2025.6,677.4 2023,704.8 2020.4,742.2 2017.8,707.7 2015.2,711.7 2012.6,721.2 2010,722.1 2007.4,697.7 2004.8,703 2002.2,715.4 1999.6,719.7 1997,723.6 1994.4,730.4 1991.8,744.6 1989.2,757.4 1986.6,721.5 1984,719.9 1981.4,707.1 1978.8,691.5 1976.2,706.5 1973.6,714.8 1971,720.7 1968.4,712.9 1965.8,732.3 1963.2,727.1 1960.6,746.6 1958,740 1955.4,732.4 1952.8,719.8 1950.2,709.1 1947.6,693.8 1945,710.8 1942.4,712.5 1939.8,715.7 1937.2,729.7 1934.6,720.8 1932,708.3 1929.4,713.1 1926.8,698.8 1924.2,708.2 1921.6,706.5 1919,706.4 1916.4,716.2 1913.8,714.4 1911.2,697.4 1908.6,718.9 1906,702.9 1903.4,695.9 1900.8,696.6 1898.2,698.3 1895.6,705.3 1893,704.2 1890.4,720.4 1887.8,709.2 1885.2,711.1 1882.6,721.6 1880,713.6 1877.4,709.9 1874.8,707.3 1872.2,731.2 1869.6,729.7 1867,732 1864.4,728 1861.8,702.3 1859.2,728.8 1856.6,705.8 1854,704.1 1851.4,709.2 1848.8,718.9 1846.2,723.3 1843.6,732.9 1841,741.7 1838.4,756.2 1835.8,747 1833.2,736.4 1830.6,739.4 1828,730.7 1825.4,736.1 1822.8,727.5 1820.2,721 1817.6,708.4 1815,699.2 1812.4,679.4 1809.8,689.2 1807.2,678.3 1804.6,664.6 1802,678.9 1799.4,705.9 1796.8,739.8 1794.2,775.7 1791.6,835.3 1789,832.9 1786.4,820.6 1783.8,832.1 1781.2,829.3 1778.6,829.9 1776,831.1 1773.4,840.3 1770.8,834.1 1768.2,840.2 1765.6,846.4 1763,825.1 1760.4,844.6 1757.8,828.6 1755.2,832.9 1752.6,820.4 1750,827.9 1747.4,821.8 1744.8,850.9 1742.2,840.9 1739.6,846.9 1737,823.6 1734.4,830.7" fill="#c9cacc" fill-opacity="0.8"/>
<polyline points="1734.4,815.5 1737,809.8 1739.6,829.4 1742.2,826.4 1744.8,832.6 1747.4,803.6 1750,808.4 1752.6,805.9 1755.2,815.3 1757.8,814.7 1760.4,828.8 1763,808.4 1765.6,826.6 1768.2,822.9 1770.8,820.2 1773.4,821.9 1776,810.7 1778.6,814.9 1781.2,811.3 1783.8,813.5 1786.4,805 1789,818.6 1791.6,817.2 1794.2,761.1 1796.8,721.8 1799.4,690.9 1802,661 1804.6,646.6 1807.2,659.8 1809.8,672.1 1812.4,665.8 1815,685.4 1817.6,692.9 1820.2,701.1 1822.8,711.8 1825.4,716.2 1828,711.1 1830.6,722.7 1833.2,719.8 1835.8,727.1 1838.4,738.2 1841,724 1843.6,715.8 1846.2,708.4 1848.8,702 1851.4,694.9 1854,685.1 1856.6,686.8 1859.2,710.2 1861.8,688.6 1864.4,712.7 1867,717.4 1869.6,710.6 1872.2,714.7 1874.8,691.2 1877.4,691.4 1880,695.6 1882.6,703.4 1885.2,693.7 1887.8,690.7 1890.4,700.4 1893,684 1895.6,687.2 1898.2,680.3 1900.8,682 1903.4,681.2 1906,688.4 1908.6,702.4 1911.2,678.5 1913.8,698.4 1916.4,700.3 1919,688.7 1921.6,692.4 1924.2,687.9 1926.8,682.6 1929.4,699.1 1932,688.8 1934.6,702.6 1937.2,715.3 1939.8,697.8 1942.4,693.5 1945,693.9 1947.6,679.1 1950.2,691.8 1952.8,701.5 1955.4,713 1958,722.7 1960.6,727.7 1963.2,713.2 1965.8,712 1968.4,696.1 1971,700.6 1973.6,699 1976.2,691.9 1978.8,677.1 1981.4,689.8 1984,700.4 1986.6,703.7 1989.2,738.8 1991.8,730.1 1994.4,714.8 1997,709.5 1999.6,703.2 2002.2,696.9 2004.8,685.7 2007.4,683 2010,702.2 2012.6,702.6 2015.2,694.3 2017.8,691.2 2020.4,723 2023,688 2025.6,659.3 2028.2,681.4 2030.8,694.1 2033.4,693.2 2036,714.9 2038.6,721.2 2041.2,725.5 2043.8,725.4 2046.4,726.5" fill="none" stroke="#6d6e71" stroke-width="3.8" stroke-linejoin="round" />
<polygon points="1734.4,812.4 1737,815.9 1739.6,821.1 1742.2,818.7 1744.8,820.2 1747.4,822.5 1750,830.7 1752.6,824.8 1755.2,828 1757.8,830.6 1760.4,826.7 1763,820.1 1765.6,825.3 1768.2,823.4 1770.8,819.2 1773.4,824 1776,819.4 1778.6,830.4 1781.2,825.9 1783.8,819 1786.4,818.2 1789,831.6 1791.6,833 1794.2,830.8 1796.8,820.3 1799.4,817 1802,805.3 1804.6,808.3 1807.2,812.2 1809.8,823 1812.4,813.6 1815,802.2 1817.6,830.7 1820.2,822.7 1822.8,820.5 1825.4,817.7 1828,815.7 1830.6,815 1833.2,814.3 1835.8,815.8 1838.4,827.2 1841,819.9 1843.6,821.9 1846.2,812.7 1848.8,813.4 1851.4,821 1854,806.4 1856.6,822.9 1859.2,825.9 1861.8,820.1 1864.4,834.3 1867,828.2 1869.6,821.8 1872.2,825.7 1874.8,826.2 1877.4,807 1880,805.7 1882.6,808.8 1885.2,801.6 1887.8,812.5 1890.4,799.1 1893,815.6 1895.6,820.2 1898.2,806.8 1900.8,803.8 1903.4,795 1906,805.6 1908.6,806.6 1911.2,803.2 1913.8,791.4 1916.4,810.8 1919,801.5 1921.6,806.2 1924.2,811.6 1926.8,809.7 1929.4,811.2 1932,818.9 1934.6,816.1 1937.2,818.4 1939.8,819.5 1942.4,830.8 1945,829.6 1947.6,823.7 1950.2,817.7 1952.8,821.7 1955.4,812.1 1958,815.5 1960.6,823.1 1963.2,804.8 1965.8,809.6 1968.4,797.6 1971,795.1 1973.6,786.2 1976.2,787.1 1978.8,781.7 1981.4,787.4 1984,767.4 1986.6,770.7 1989.2,767.2 1991.8,771.6 1994.4,786.8 1997,798.6 1999.6,810.8 2002.2,812 2004.8,819.5 2007.4,820.7 2010,809.4 2012.6,808.8 2015.2,810.5 2017.8,812.1 2020.4,808.9 2023,806.2 2025.6,812.2 2028.2,811 2030.8,813 2033.4,818.9 2036,812.9 2038.6,825.8 2041.2,836.7 2043.8,823.3 2046.4,830.4 2046.4,847.9 2043.8,838.4 2041.2,850.5 2038.6,843.2 2036,831.7 2033.4,838 2030.8,827.4 2028.2,826.4 2025.6,829.5 2023,826.1 2020.4,823.6 2017.8,827.4 2015.2,826.5 2012.6,822.8 2010,823.6 2007.4,835.3 2004.8,834.4 2002.2,830 1999.6,826.9 1997,818 1994.4,802.9 1991.8,787 1989.2,785.4 1986.6,786.2 1984,784.2 1981.4,804.6 1978.8,800.2 1976.2,804.5 1973.6,804.9 1971,814.6 1968.4,815.1 1965.8,824.2 1963.2,820.2 1960.6,837.9 1958,832.4 1955.4,831.9 1952.8,836.7 1950.2,837.1 1947.6,843 1945,843.9 1942.4,848.1 1939.8,838.9 1937.2,833 1934.6,834.4 1932,832.7 1929.4,826.9 1926.8,830 1924.2,830.7 1921.6,822.8 1919,820.2 1916.4,829.9 1913.8,806.1 1911.2,822.4 1908.6,822.2 1906,825.5 1903.4,814.6 1900.8,820.1 1898.2,824.6 1895.6,839.2 1893,833.3 1890.4,815.4 1887.8,826.5 1885.2,817.3 1882.6,822.5 1880,823 1877.4,824.1 1874.8,840.8 1872.2,842.8 1869.6,842.1 1867,842.4 1864.4,852.4 1861.8,840.1 1859.2,844.4 1856.6,837.1 1854,826.7 1851.4,836.6 1848.8,833.2 1846.2,830.6 1843.6,836.5 1841,839.1 1838.4,843.3 1835.8,832 1833.2,833.1 1830.6,833.7 1828,830.8 1825.4,836.5 1822.8,837.7 1820.2,841.3 1817.6,850.4 1815,821.7 1812.4,833.4 1809.8,841.6 1807.2,832.2 1804.6,824 1802,824.7 1799.4,834.7 1796.8,837.9 1794.2,844.5 1791.6,852.4 1789,847.3 1786.4,838.3 1783.8,832.8 1781.2,842.6 1778.6,847.8 1776,835 1773.4,843.8 1770.8,835.8 1768.2,843.3 1765.6,845.7 1763,835.8 1760.4,840.7 1757.8,847.1 1755.2,842.3 1752.6,845 1750,846.7 1747.4,840.9 1744.8,839 1742.2,833.6 1739.6,839.5 1737,832.9 1734.4,830.2" fill="#cdb9de" fill-opacity="0.8"/>
<polyline points="1734.4,821.3 1737,824.4 1739.6,830.3 1742.2,826.1 1744.8,829.6 1747.4,831.7 1750,838.7 1752.6,834.9 1755.2,835.2 1757.8,838.9 1760.4,833.7 1763,827.9 1765.6,835.5 1768.2,833.3 1770.8,827.5 1773.4,833.9 1776,827.2 1778.6,839.1 1781.2,834.3 1783.8,825.9 1786.4,828.3 1789,839.5 1791.6,842.7 1794.2,837.7 1796.8,829.1 1799.4,825.8 1802,815 1804.6,816.1 1807.2,822.2 1809.8,832.3 1812.4,823.5 1815,812 1817.6,840.6 1820.2,832 1822.8,829.1 1825.4,827.1 1828,823.3 1830.6,824.4 1833.2,823.7 1835.8,823.9 1838.4,835.2 1841,829.5 1843.6,829.2 1846.2,821.7 1848.8,823.3 1851.4,828.8 1854,816.5 1856.6,830 1859.2,835.1 1861.8,830.1 1864.4,843.4 1867,835.3 1869.6,832 1872.2,834.3 1874.8,833.5 1877.4,815.5 1880,814.3 1882.6,815.6 1885.2,809.5 1887.8,819.5 1890.4,807.2 1893,824.5 1895.6,829.7 1898.2,815.7 1900.8,811.9 1903.4,804.8 1906,815.5 1908.6,814.4 1911.2,812.8 1913.8,798.7 1916.4,820.3 1919,810.8 1921.6,814.5 1924.2,821.1 1926.8,819.9 1929.4,819 1932,825.8 1934.6,825.3 1937.2,825.7 1939.8,829.2 1942.4,839.5 1945,836.7 1947.6,833.4 1950.2,827.4 1952.8,829.2 1955.4,822 1958,823.9 1960.6,830.5 1963.2,812.5 1965.8,816.9 1968.4,806.3 1971,804.8 1973.6,795.6 1976.2,795.8 1978.8,790.9 1981.4,796 1984,775.8 1986.6,778.5 1989.2,776.3 1991.8,779.3 1994.4,794.9 1997,808.3 1999.6,818.8 2002.2,821 2004.8,826.9 2007.4,828 2010,816.5 2012.6,815.8 2015.2,818.5 2017.8,819.7 2020.4,816.3 2023,816.2 2025.6,820.9 2028.2,818.7 2030.8,820.2 2033.4,828.5 2036,822.3 2038.6,834.5 2041.2,843.6 2043.8,830.9 2046.4,839.1" fill="none" stroke="#a27fc0" stroke-width="3.8" stroke-linejoin="round" />
<polygon points="1734.4,804.4 1737,807 1739.6,822.2 1742.2,815 1744.8,813.3 1747.4,822.3 1750,817.8 1752.6,822.1 1755.2,825.2 1757.8,826.4 1760.4,820 1763,814.7 1765.6,825.1 1768.2,813.5 1770.8,814 1773.4,807.3 1776,812.5 1778.6,798.1 1781.2,788.1 1783.8,802.6 1786.4,810.3 1789,809.6 1791.6,802.5 1794.2,783.1 1796.8,780.9 1799.4,770.3 1802,769.1 1804.6,764.8 1807.2,781.4 1809.8,784 1812.4,792.3 1815,800.9 1817.6,804.2 1820.2,804.4 1822.8,795.5 1825.4,797.1 1828,797.4 1830.6,796.9 1833.2,788.7 1835.8,809.3 1838.4,811.8 1841,809.1 1843.6,805.3 1846.2,795.9 1848.8,794.2 1851.4,785.5 1854,776.1 1856.6,768.9 1859.2,758.1 1861.8,763.7 1864.4,770.2 1867,766.9 1869.6,773.9 1872.2,772.2 1874.8,777.3 1877.4,788.6 1880,779.5 1882.6,788.5 1885.2,793.2 1887.8,791.9 1890.4,791.2 1893,792.5 1895.6,784.5 1898.2,791.3 1900.8,789.5 1903.4,791.7 1906,779 1908.6,792.4 1911.2,781.8 1913.8,781.8 1916.4,778.5 1919,776.4 1921.6,779.4 1924.2,777.7 1926.8,779.1 1929.4,769.6 1932,793.4 1934.6,776.6 1937.2,781.7 1939.8,782.1 1942.4,763.8 1945,764.1 1947.6,786.6 1950.2,780.7 1952.8,783.9 1955.4,799.5 1958,792.9 1960.6,794.5 1963.2,800.9 1965.8,813.9 1968.4,803.4 1971,808.9 1973.6,810.5 1976.2,813.5 1978.8,806.1 1981.4,800.6 1984,807.7 1986.6,807.7 1989.2,801.8 1991.8,816.4 1994.4,802.3 1997,811.2 1999.6,807.6 2002.2,797.3 2004.8,802.2 2007.4,801.1 2010,797.9 2012.6,794.8 2015.2,791.3 2017.8,797.9 2020.4,792.5 2023,796.9 2025.6,786.1 2028.2,802.2 2030.8,801.6 2033.4,803.7 2036,805.6 2038.6,797.5 2041.2,794.4 2043.8,796.1 2046.4,786.4 2046.4,809.9 2043.8,821.6 2041.2,814 2038.6,822.8 2036,831.2 2033.4,828.7 2030.8,826.9 2028.2,827.3 2025.6,807 2023,822.8 2020.4,815.7 2017.8,823.7 2015.2,816.7 2012.6,813.9 2010,824.9 2007.4,824.8 2004.8,823.1 2002.2,823.7 1999.6,830.1 1997,838.9 1994.4,828.7 1991.8,837.3 1989.2,823.8 1986.6,826.7 1984,833.8 1981.4,827.2 1978.8,824.9 1976.2,833.9 1973.6,830.7 1971,830.1 1968.4,827.7 1965.8,840.9 1963.2,822 1960.6,817.9 1958,815.4 1955.4,821.8 1952.8,807.2 1950.2,806.7 1947.6,812.7 1945,792.3 1942.4,784.8 1939.8,800.9 1937.2,809.1 1934.6,802.1 1932,812.7 1929.4,793.2 1926.8,804.5 1924.2,797 1921.6,806.2 1919,800.4 1916.4,798.1 1913.8,802.8 1911.2,808.9 1908.6,812.8 1906,803.8 1903.4,811.2 1900.8,812.2 1898.2,818.1 1895.6,807.1 1893,817.5 1890.4,817.3 1887.8,819.3 1885.2,816.7 1882.6,811.9 1880,806.7 1877.4,810.1 1874.8,804.2 1872.2,800.3 1869.6,801.1 1867,794.2 1864.4,789 1861.8,791.5 1859.2,784.4 1856.6,789.4 1854,802.1 1851.4,804.5 1848.8,815.1 1846.2,823.1 1843.6,831.6 1841,834.6 1838.4,834.4 1835.8,830.5 1833.2,809.4 1830.6,821.4 1828,816.6 1825.4,822.6 1822.8,816 1820.2,829.3 1817.6,826.6 1815,824.8 1812.4,818.3 1809.8,805.2 1807.2,804.8 1804.6,791.7 1802,788.8 1799.4,789.4 1796.8,802.9 1794.2,805.9 1791.6,827 1789,835.7 1786.4,832.1 1783.8,825.2 1781.2,807.7 1778.6,822.2 1776,831.6 1773.4,830.7 1770.8,836.7 1768.2,832.4 1765.6,845.2 1763,836.3 1760.4,842.5 1757.8,846 1755.2,848.8 1752.6,846.9 1750,845.6 1747.4,847.6 1744.8,838.6 1742.2,839.6 1739.6,844.5 1737,832.1 1734.4,824.3" fill="#f5a9b0" fill-opacity="0.8"/>
<polyline points="1734.4,814.4 1737,819.6 1739.6,833.3 1742.2,827.3 1744.8,825.9 1747.4,834.9 1750,831.7 1752.6,834.5 1755.2,837 1757.8,836.2 1760.4,831.3 1763,825.5 1765.6,835.1 1768.2,822.9 1770.8,825.4 1773.4,819 1776,822.1 1778.6,810.2 1781.2,797.9 1783.8,813.9 1786.4,821.2 1789,822.6 1791.6,814.7 1794.2,794.5 1796.8,791.9 1799.4,779.9 1802,779 1804.6,778.3 1807.2,793.1 1809.8,794.6 1812.4,805.3 1815,812.9 1817.6,815.4 1820.2,816.9 1822.8,805.8 1825.4,809.9 1828,807 1830.6,809.2 1833.2,799.1 1835.8,819.9 1838.4,823.1 1841,821.9 1843.6,818.4 1846.2,809.5 1848.8,804.6 1851.4,795 1854,789.1 1856.6,779.1 1859.2,771.3 1861.8,777.6 1864.4,779.6 1867,780.6 1869.6,787.5 1872.2,786.2 1874.8,790.8 1877.4,799.3 1880,793.1 1882.6,800.2 1885.2,804.9 1887.8,805.6 1890.4,804.2 1893,805 1895.6,795.8 1898.2,804.7 1900.8,800.8 1903.4,801.4 1906,791.4 1908.6,802.6 1911.2,795.3 1913.8,792.3 1916.4,788.3 1919,788.4 1921.6,792.8 1924.2,787.4 1926.8,791.8 1929.4,781.4 1932,803.1 1934.6,789.3 1937.2,795.4 1939.8,791.5 1942.4,774.3 1945,778.2 1947.6,799.7 1950.2,793.7 1952.8,795.5 1955.4,810.7 1958,804.2 1960.6,806.2 1963.2,811.5 1965.8,827.4 1968.4,815.5 1971,819.5 1973.6,820.6 1976.2,823.7 1978.8,815.5 1981.4,813.9 1984,820.7 1986.6,817.2 1989.2,812.8 1991.8,826.9 1994.4,815.5 1997,825 1999.6,818.8 2002.2,810.5 2004.8,812.7 2007.4,813 2010,811.4 2012.6,804.3 2015.2,804 2017.8,810.8 2020.4,804.1 2023,809.8 2025.6,796.5 2028.2,814.7 2030.8,814.3 2033.4,816.2 2036,818.4 2038.6,810.1 2041.2,804.2 2043.8,808.9 2046.4,798.2" fill="none" stroke="#ee6f7b" stroke-width="3.8" stroke-linejoin="round" />
<line x1="1734.5" y1="578.8" x2="1734.5" y2="896.4" stroke="#0a0a0a" stroke-width="4" stroke-linecap="butt" />
<line x1="1727" y1="894.6" x2="1734.5" y2="894.6" stroke="#0a0a0a" stroke-width="3" stroke-linecap="butt" />
<text x="1722.5" y="904.1" font-size="29.5" text-anchor="end">0.15</text>
<line x1="1727" y1="816.1" x2="1734.5" y2="816.1" stroke="#0a0a0a" stroke-width="3" stroke-linecap="butt" />
<text x="1722.5" y="825.6" font-size="29.5" text-anchor="end">0.30</text>
<line x1="1727" y1="737.6" x2="1734.5" y2="737.6" stroke="#0a0a0a" stroke-width="3" stroke-linecap="butt" />
<text x="1722.5" y="747.1" font-size="29.5" text-anchor="end">0.45</text>
<line x1="1727" y1="659.1" x2="1734.5" y2="659.1" stroke="#0a0a0a" stroke-width="3" stroke-linecap="butt" />
<text x="1722.5" y="668.6" font-size="29.5" text-anchor="end">0.60</text>
<line x1="1727" y1="580.6" x2="1734.5" y2="580.6" stroke="#0a0a0a" stroke-width="3" stroke-linecap="butt" />
<text x="1722.5" y="590.1" font-size="29.5" text-anchor="end">0.75</text>
<line x1="1728.5" y1="894.6" x2="2047.5" y2="894.6" stroke="#0a0a0a" stroke-width="3.8" stroke-linecap="butt" />
<line x1="1734.4" y1="894.6" x2="1734.4" y2="901.6" stroke="#0a0a0a" stroke-width="3" stroke-linecap="butt" />
<text x="1734.4" y="931.5" font-size="29.5" text-anchor="middle">-1</text>
<line x1="1786.4" y1="894.6" x2="1786.4" y2="901.6" stroke="#0a0a0a" stroke-width="3" stroke-linecap="butt" />
<text x="1786.4" y="931.5" font-size="29.5" text-anchor="middle">0</text>
<line x1="1838.4" y1="894.6" x2="1838.4" y2="901.6" stroke="#0a0a0a" stroke-width="3" stroke-linecap="butt" />
<text x="1838.4" y="931.5" font-size="29.5" text-anchor="middle">1</text>
<line x1="1890.4" y1="894.6" x2="1890.4" y2="901.6" stroke="#0a0a0a" stroke-width="3" stroke-linecap="butt" />
<text x="1890.4" y="931.5" font-size="29.5" text-anchor="middle">2</text>
<line x1="1942.4" y1="894.6" x2="1942.4" y2="901.6" stroke="#0a0a0a" stroke-width="3" stroke-linecap="butt" />
<text x="1942.4" y="931.5" font-size="29.5" text-anchor="middle">3</text>
<line x1="1994.4" y1="894.6" x2="1994.4" y2="901.6" stroke="#0a0a0a" stroke-width="3" stroke-linecap="butt" />
<text x="1994.4" y="931.5" font-size="29.5" text-anchor="middle">4</text>
<line x1="2046.4" y1="894.6" x2="2046.4" y2="901.6" stroke="#0a0a0a" stroke-width="3" stroke-linecap="butt" />
<text x="2046.4" y="931.5" font-size="29.5" text-anchor="middle">5</text>
<text x="1889.5" y="962" font-size="29" text-anchor="middle">Time (hours)</text>
<text x="1615.5" y="729" font-size="32.5" text-anchor="middle" transform="rotate(-90 1615.5 729)">Drug</text>
<text x="1652" y="729" font-size="28.3" text-anchor="middle" transform="rotate(-90 1652 729)">EE (kcal/hour)</text>
<text x="1748.3" y="617.5" font-size="28.5"><tspan font-style="italic">hM3Dq</tspan><tspan font-size="17.7" dy="-11.4">AdipoqCre</tspan><tspan dy="11.4">:</tspan><tspan font-style="italic">Ckb</tspan><tspan font-size="17.7" dy="-11.4">fl/+</tspan></text>
<line x1="1758.9" y1="752.9" x2="1772" y2="775" stroke="#0a0a0a" stroke-width="3.5" stroke-linecap="butt" />
<polygon points="1778,786 1763,776 1776,768" fill="#0a0a0a"/>
<line x1="1610" y1="984.5" x2="1632" y2="984.5" stroke="#a9aaad" stroke-width="7" stroke-linecap="round" />
<line x1="1766" y1="984.5" x2="1788" y2="984.5" stroke="#6d6e71" stroke-width="7" stroke-linecap="round" />
<line x1="1610" y1="1018" x2="1632" y2="1018" stroke="#ee6f7b" stroke-width="7" stroke-linecap="round" />
<line x1="1878" y1="1018" x2="1900" y2="1018" stroke="#a27fc0" stroke-width="7" stroke-linecap="round" />
<text x="1636" y="994" font-size="28.5">Saline</text>
<text x="1792" y="994" font-size="28.5">CL 316,243 (0.5mg kg<tspan font-size="17" dy="-11">-1</tspan><tspan dy="11">)</tspan></text>
<text x="1636" y="1026" font-size="28.5">DCZ (0.5mg kg<tspan font-size="17" dy="-11">-1</tspan><tspan dy="11">)</tspan></text>
<text x="1904" y="1026" font-size="28.5">DCZ (1mg kg<tspan font-size="17" dy="-11">-1</tspan><tspan dy="11">)</tspan></text>
<text x="-0.9" y="1125" font-size="66.2" font-weight="bold" fill="#231f20">h</text>
<rect x="111.3" y="1258.7" width="52.6" height="164.5" fill="#a7a9ac" />
<rect x="195.2" y="1247.4" width="52.2" height="175.8" fill="#f0737f" />
<circle cx="115.5" cy="1224.2" r="5.6" fill="#0a0a0a"/>
<circle cx="116.1" cy="1239.4" r="5.6" fill="#0a0a0a"/>
<circle cx="130.6" cy="1238.4" r="5.6" fill="#0a0a0a"/>
<circle cx="145.2" cy="1232.9" r="5.6" fill="#0a0a0a"/>
<circle cx="159.7" cy="1237.7" r="5.6" fill="#0a0a0a"/>
<circle cx="130.6" cy="1255.5" r="5.6" fill="#0a0a0a"/>
<circle cx="145.2" cy="1250.6" r="5.6" fill="#0a0a0a"/>
<circle cx="116.1" cy="1273.9" r="5.6" fill="#0a0a0a"/>
<circle cx="130.6" cy="1263.5" r="5.6" fill="#0a0a0a"/>
<circle cx="145.2" cy="1268.4" r="5.6" fill="#0a0a0a"/>
<circle cx="159.7" cy="1265.2" r="5.6" fill="#0a0a0a"/>
<circle cx="116.1" cy="1288.7" r="5.6" fill="#0a0a0a"/>
<circle cx="145.2" cy="1288.7" r="5.6" fill="#0a0a0a"/>
<circle cx="159.7" cy="1279" r="5.6" fill="#0a0a0a"/>
<circle cx="199.4" cy="1228" r="5.6" fill="#0a0a0a"/>
<circle cx="221" cy="1226.5" r="5.6" fill="#0a0a0a"/>
<circle cx="231.6" cy="1216.8" r="5.6" fill="#0a0a0a"/>
<circle cx="232.3" cy="1228" r="5.6" fill="#0a0a0a"/>
<circle cx="212.9" cy="1237.7" r="5.6" fill="#0a0a0a"/>
<circle cx="221" cy="1245.8" r="5.6" fill="#0a0a0a"/>
<circle cx="199.4" cy="1252.3" r="5.6" fill="#0a0a0a"/>
<circle cx="209.7" cy="1258.7" r="5.6" fill="#0a0a0a"/>
<circle cx="225.8" cy="1260.3" r="5.6" fill="#0a0a0a"/>
<circle cx="241.9" cy="1260.3" r="5.6" fill="#0a0a0a"/>
<circle cx="209.7" cy="1270.6" r="5.6" fill="#0a0a0a"/>
<circle cx="200" cy="1263.5" r="5.6" fill="#0a0a0a"/>
<line x1="129.5" y1="1250.6" x2="151.5" y2="1250.6" stroke="#0a0a0a" stroke-width="3.5" stroke-linecap="butt" />
<line x1="129.5" y1="1262.6" x2="151.5" y2="1262.6" stroke="#0a0a0a" stroke-width="3.5" stroke-linecap="butt" />
<line x1="140.5" y1="1250.6" x2="140.5" y2="1262.6" stroke="#0a0a0a" stroke-width="3.5" stroke-linecap="butt" />
<line x1="210.3" y1="1239.4" x2="232.3" y2="1239.4" stroke="#0a0a0a" stroke-width="3.5" stroke-linecap="butt" />
<line x1="210.3" y1="1252.3" x2="232.3" y2="1252.3" stroke="#0a0a0a" stroke-width="3.5" stroke-linecap="butt" />
<line x1="221.3" y1="1239.4" x2="221.3" y2="1252.3" stroke="#0a0a0a" stroke-width="3.5" stroke-linecap="butt" />
<line x1="81.6" y1="1129.8" x2="81.6" y2="1425" stroke="#0a0a0a" stroke-width="3.7" stroke-linecap="butt" />
<line x1="74.1" y1="1423.2" x2="81.6" y2="1423.2" stroke="#0a0a0a" stroke-width="3" stroke-linecap="butt" />
<text x="70.6" y="1433.7" font-size="29.8" text-anchor="end">0</text>
<line x1="74.1" y1="1350.2" x2="81.6" y2="1350.2" stroke="#0a0a0a" stroke-width="3" stroke-linecap="butt" />
<text x="70.6" y="1360.7" font-size="29.8" text-anchor="end">10</text>
<line x1="74.1" y1="1277.2" x2="81.6" y2="1277.2" stroke="#0a0a0a" stroke-width="3" stroke-linecap="butt" />
<text x="70.6" y="1287.8" font-size="29.8" text-anchor="end">20</text>
<line x1="74.1" y1="1204.3" x2="81.6" y2="1204.3" stroke="#0a0a0a" stroke-width="3" stroke-linecap="butt" />
<text x="70.6" y="1214.8" font-size="29.8" text-anchor="end">30</text>
<line x1="74.1" y1="1131.3" x2="81.6" y2="1131.3" stroke="#0a0a0a" stroke-width="3" stroke-linecap="butt" />
<text x="70.6" y="1141.8" font-size="29.8" text-anchor="end">40</text>
<line x1="75.6" y1="1423.2" x2="276" y2="1423.2" stroke="#0a0a0a" stroke-width="3.9" stroke-linecap="butt" />
<text x="178.5" y="1170.2" font-size="28.5" text-anchor="middle"><tspan font-style="italic">P</tspan> = 0.19</text>
<polyline points="138.7,1187 138.7,1179.5 219.4,1179.5 219.4,1187" fill="none" stroke="#0a0a0a" stroke-width="3.3"/>
<text x="146.8" y="1450.6" font-size="29" text-anchor="middle">CL</text>
<text x="228" y="1450.6" font-size="29" text-anchor="middle">CL</text>
<text x="228" y="1484.5" font-size="29" text-anchor="middle">DCZ</text>
<text x="21.3" y="1287.7" font-size="27.5" text-anchor="middle" transform="rotate(-90 21.3 1287.7)">Lean mass (g)</text>
<text x="296.3" y="1123.9" font-size="63" font-weight="bold" fill="#231f20">i</text>
<rect x="378" y="1326.5" width="52.6" height="94.2" fill="#a7a9ac" />
<rect x="461.3" y="1330.6" width="52.2" height="90.1" fill="#f0737f" />
<circle cx="404.8" cy="1211" r="5.6" fill="#0a0a0a"/>
<circle cx="404.8" cy="1237.1" r="5.6" fill="#0a0a0a"/>
<circle cx="411.3" cy="1302.9" r="5.6" fill="#0a0a0a"/>
<circle cx="396.8" cy="1310.3" r="5.6" fill="#0a0a0a"/>
<circle cx="404.8" cy="1318.4" r="5.6" fill="#0a0a0a"/>
<circle cx="417.7" cy="1321.6" r="5.6" fill="#0a0a0a"/>
<circle cx="393.5" cy="1328" r="5.6" fill="#0a0a0a"/>
<circle cx="404.8" cy="1345.8" r="5.6" fill="#0a0a0a"/>
<circle cx="390.3" cy="1357.1" r="5.6" fill="#0a0a0a"/>
<circle cx="417.7" cy="1357.1" r="5.6" fill="#0a0a0a"/>
<circle cx="400" cy="1361.9" r="5.6" fill="#0a0a0a"/>
<circle cx="411.3" cy="1366.8" r="5.6" fill="#0a0a0a"/>
<circle cx="404.8" cy="1384.5" r="5.6" fill="#0a0a0a"/>
<circle cx="411.3" cy="1326.5" r="5.6" fill="#0a0a0a"/>
<circle cx="396.8" cy="1337.7" r="5.6" fill="#0a0a0a"/>
<circle cx="488.7" cy="1212.9" r="5.6" fill="#0a0a0a"/>
<circle cx="488.7" cy="1242.6" r="5.6" fill="#0a0a0a"/>
<circle cx="470.3" cy="1324.8" r="5.6" fill="#0a0a0a"/>
<circle cx="480.6" cy="1318.4" r="5.6" fill="#0a0a0a"/>
<circle cx="480.6" cy="1334.5" r="5.6" fill="#0a0a0a"/>
<circle cx="470.3" cy="1344.2" r="5.6" fill="#0a0a0a"/>
<circle cx="500" cy="1342.6" r="5.6" fill="#0a0a0a"/>
<circle cx="470.3" cy="1366.8" r="5.6" fill="#0a0a0a"/>
<circle cx="470.3" cy="1379.7" r="5.6" fill="#0a0a0a"/>
<circle cx="493.5" cy="1378.1" r="5.6" fill="#0a0a0a"/>
<circle cx="501.6" cy="1373.2" r="5.6" fill="#0a0a0a"/>
<line x1="397" y1="1310.3" x2="419" y2="1310.3" stroke="#0a0a0a" stroke-width="3.5" stroke-linecap="butt" />
<line x1="397" y1="1338.4" x2="419" y2="1338.4" stroke="#0a0a0a" stroke-width="3.5" stroke-linecap="butt" />
<line x1="408" y1="1310.3" x2="408" y2="1338.4" stroke="#0a0a0a" stroke-width="3.5" stroke-linecap="butt" />
<line x1="473.9" y1="1312" x2="501.9" y2="1312" stroke="#0a0a0a" stroke-width="3.5" stroke-linecap="butt" />
<line x1="473.9" y1="1345.8" x2="501.9" y2="1345.8" stroke="#0a0a0a" stroke-width="3.5" stroke-linecap="butt" />
<line x1="487.9" y1="1312" x2="487.9" y2="1345.8" stroke="#0a0a0a" stroke-width="3.5" stroke-linecap="butt" />
<line x1="349" y1="1127.2" x2="349" y2="1422.5" stroke="#0a0a0a" stroke-width="3.7" stroke-linecap="butt" />
<line x1="341.5" y1="1420.7" x2="349" y2="1420.7" stroke="#0a0a0a" stroke-width="3" stroke-linecap="butt" />
<text x="338" y="1431.2" font-size="29.8" text-anchor="end">0</text>
<line x1="341.5" y1="1347.7" x2="349" y2="1347.7" stroke="#0a0a0a" stroke-width="3" stroke-linecap="butt" />
<text x="338" y="1358.2" font-size="29.8" text-anchor="end">2</text>
<line x1="341.5" y1="1274.7" x2="349" y2="1274.7" stroke="#0a0a0a" stroke-width="3" stroke-linecap="butt" />
<text x="338" y="1285.2" font-size="29.8" text-anchor="end">4</text>
<line x1="341.5" y1="1201.7" x2="349" y2="1201.7" stroke="#0a0a0a" stroke-width="3" stroke-linecap="butt" />
<text x="338" y="1212.2" font-size="29.8" text-anchor="end">6</text>
<line x1="341.5" y1="1128.7" x2="349" y2="1128.7" stroke="#0a0a0a" stroke-width="3" stroke-linecap="butt" />
<text x="338" y="1139.2" font-size="29.8" text-anchor="end">8</text>
<line x1="343" y1="1420.7" x2="544" y2="1420.7" stroke="#0a0a0a" stroke-width="3.9" stroke-linecap="butt" />
<text x="448" y="1158.7" font-size="28.5" text-anchor="middle"><tspan font-style="italic">P</tspan> = 0.84</text>
<polyline points="408,1174 408,1166.8 487.7,1166.8 487.7,1174" fill="none" stroke="#0a0a0a" stroke-width="3.3"/>
<text x="409.7" y="1448" font-size="29" text-anchor="middle">CL</text>
<text x="492" y="1448" font-size="29" text-anchor="middle">CL</text>
<text x="492" y="1483" font-size="29" text-anchor="middle">DCZ</text>
<text x="310" y="1284.5" font-size="27.5" text-anchor="middle" transform="rotate(-90 310 1284.5)">Fat mass (g)</text>
<text x="547.2" y="1124.3" font-size="68.3" font-weight="bold" fill="#231f20">j</text>
<rect x="664.4" y="1220.9" width="51.9" height="199.8" fill="#a7a9ac" />
<rect x="747.4" y="1217.5" width="52.5" height="203.2" fill="#f0737f" />
<circle cx="696.2" cy="1183.4" r="5.6" fill="#0a0a0a"/>
<circle cx="684.7" cy="1188.7" r="5.6" fill="#0a0a0a"/>
<circle cx="690.9" cy="1204.8" r="5.6" fill="#0a0a0a"/>
<circle cx="668.6" cy="1214" r="5.6" fill="#0a0a0a"/>
<circle cx="679.4" cy="1212.4" r="5.6" fill="#0a0a0a"/>
<circle cx="690.9" cy="1213.3" r="5.6" fill="#0a0a0a"/>
<circle cx="701.3" cy="1216.3" r="5.6" fill="#0a0a0a"/>
<circle cx="712.3" cy="1222.1" r="5.6" fill="#0a0a0a"/>
<circle cx="668.6" cy="1228.5" r="5.6" fill="#0a0a0a"/>
<circle cx="679.4" cy="1230.1" r="5.6" fill="#0a0a0a"/>
<circle cx="690.9" cy="1222.1" r="5.6" fill="#0a0a0a"/>
<circle cx="701.3" cy="1233.6" r="5.6" fill="#0a0a0a"/>
<circle cx="690.9" cy="1239.4" r="5.6" fill="#0a0a0a"/>
<circle cx="690.9" cy="1253.2" r="5.6" fill="#0a0a0a"/>
<circle cx="752" cy="1200.2" r="5.6" fill="#0a0a0a"/>
<circle cx="763" cy="1204.8" r="5.6" fill="#0a0a0a"/>
<circle cx="784.2" cy="1207.1" r="5.6" fill="#0a0a0a"/>
<circle cx="795.3" cy="1200.2" r="5.6" fill="#0a0a0a"/>
<circle cx="752" cy="1214.7" r="5.6" fill="#0a0a0a"/>
<circle cx="773.9" cy="1211.7" r="5.6" fill="#0a0a0a"/>
<circle cx="795.3" cy="1214" r="5.6" fill="#0a0a0a"/>
<circle cx="763" cy="1222.5" r="5.6" fill="#0a0a0a"/>
<circle cx="784.2" cy="1223.9" r="5.6" fill="#0a0a0a"/>
<circle cx="773.9" cy="1232.4" r="5.6" fill="#0a0a0a"/>
<circle cx="773.9" cy="1245.1" r="5.6" fill="#0a0a0a"/>
<line x1="676.3" y1="1212.9" x2="704.3" y2="1212.9" stroke="#0a0a0a" stroke-width="3.5" stroke-linecap="butt" />
<line x1="676.3" y1="1223.9" x2="704.3" y2="1223.9" stroke="#0a0a0a" stroke-width="3.5" stroke-linecap="butt" />
<line x1="690.3" y1="1212.9" x2="690.3" y2="1223.9" stroke="#0a0a0a" stroke-width="3.5" stroke-linecap="butt" />
<line x1="759.9" y1="1211.7" x2="787.9" y2="1211.7" stroke="#0a0a0a" stroke-width="3.5" stroke-linecap="butt" />
<line x1="759.9" y1="1218.6" x2="787.9" y2="1218.6" stroke="#0a0a0a" stroke-width="3.5" stroke-linecap="butt" />
<line x1="773.9" y1="1211.7" x2="773.9" y2="1218.6" stroke="#0a0a0a" stroke-width="3.5" stroke-linecap="butt" />
<line x1="635" y1="1127.3" x2="635" y2="1422.5" stroke="#0a0a0a" stroke-width="3.7" stroke-linecap="butt" />
<line x1="627.5" y1="1420.7" x2="635" y2="1420.7" stroke="#0a0a0a" stroke-width="3" stroke-linecap="butt" />
<text x="624" y="1431.2" font-size="29.8" text-anchor="end">0</text>
<line x1="627.5" y1="1347.7" x2="635" y2="1347.7" stroke="#0a0a0a" stroke-width="3" stroke-linecap="butt" />
<text x="624" y="1358.2" font-size="29.8" text-anchor="end">10</text>
<line x1="627.5" y1="1274.8" x2="635" y2="1274.8" stroke="#0a0a0a" stroke-width="3" stroke-linecap="butt" />
<text x="624" y="1285.2" font-size="29.8" text-anchor="end">20</text>
<line x1="627.5" y1="1201.8" x2="635" y2="1201.8" stroke="#0a0a0a" stroke-width="3" stroke-linecap="butt" />
<text x="624" y="1212.3" font-size="29.8" text-anchor="end">30</text>
<line x1="627.5" y1="1128.8" x2="635" y2="1128.8" stroke="#0a0a0a" stroke-width="3" stroke-linecap="butt" />
<text x="624" y="1139.3" font-size="29.8" text-anchor="end">40</text>
<line x1="629" y1="1420.7" x2="828" y2="1420.7" stroke="#0a0a0a" stroke-width="3.9" stroke-linecap="butt" />
<text x="735.3" y="1150.6" font-size="28.5" text-anchor="middle"><tspan font-style="italic">P</tspan> = 0.71</text>
<polyline points="696.2,1166 696.2,1158.7 776.2,1158.7 776.2,1166" fill="none" stroke="#0a0a0a" stroke-width="3.3"/>
<text x="693.9" y="1447.9" font-size="29" text-anchor="middle">CL</text>
<text x="775.5" y="1447.9" font-size="29" text-anchor="middle">CL</text>
<text x="775.5" y="1482.4" font-size="29" text-anchor="middle">DCZ</text>
<text x="580" y="1284.3" font-size="27.5" text-anchor="middle" transform="rotate(-90 580 1284.3)">Body mass (g)</text>
<text x="6.1" y="1604.9" font-size="66.7" font-weight="bold" fill="#231f20">k</text>
<rect x="118.4" y="1761" width="50.3" height="157.4" fill="#a7a9ac" />
<rect x="201.6" y="1763.5" width="50" height="154.9" fill="#414042" />
<circle cx="121.9" cy="1728" r="5.6" fill="#0a0a0a"/>
<circle cx="130.6" cy="1737.1" r="5.6" fill="#0a0a0a"/>
<circle cx="139.4" cy="1731.3" r="5.6" fill="#0a0a0a"/>
<circle cx="148.4" cy="1730.6" r="5.6" fill="#0a0a0a"/>
<circle cx="157.1" cy="1721" r="5.6" fill="#0a0a0a"/>
<circle cx="157.1" cy="1738.4" r="5.6" fill="#0a0a0a"/>
<circle cx="143.5" cy="1756.5" r="5.6" fill="#0a0a0a"/>
<circle cx="121.9" cy="1786.8" r="5.6" fill="#0a0a0a"/>
<circle cx="130.6" cy="1781.3" r="5.6" fill="#0a0a0a"/>
<circle cx="139.4" cy="1785.5" r="5.6" fill="#0a0a0a"/>
<circle cx="148.4" cy="1776.5" r="5.6" fill="#0a0a0a"/>
<circle cx="157.1" cy="1776.5" r="5.6" fill="#0a0a0a"/>
<circle cx="157.1" cy="1788.7" r="5.6" fill="#0a0a0a"/>
<circle cx="166.1" cy="1782.9" r="5.6" fill="#0a0a0a"/>
<circle cx="204.8" cy="1732.9" r="5.6" fill="#0a0a0a"/>
<circle cx="219.4" cy="1724.8" r="5.6" fill="#0a0a0a"/>
<circle cx="248.4" cy="1717.7" r="5.6" fill="#0a0a0a"/>
<circle cx="204.8" cy="1745.8" r="5.6" fill="#0a0a0a"/>
<circle cx="219.4" cy="1745.8" r="5.6" fill="#0a0a0a"/>
<circle cx="234.8" cy="1737.7" r="5.6" fill="#0a0a0a"/>
<circle cx="248.4" cy="1736.1" r="5.6" fill="#0a0a0a"/>
<circle cx="219.4" cy="1771.6" r="5.6" fill="#0a0a0a"/>
<circle cx="204.8" cy="1782.9" r="5.6" fill="#0a0a0a"/>
<circle cx="219.4" cy="1788.7" r="5.6" fill="#0a0a0a"/>
<circle cx="234.8" cy="1780.3" r="5.6" fill="#0a0a0a"/>
<circle cx="248.4" cy="1781.3" r="5.6" fill="#0a0a0a"/>
<circle cx="234.8" cy="1800.6" r="5.6" fill="#0a0a0a"/>
<circle cx="219.4" cy="1808.1" r="5.6" fill="#0a0a0a"/>
<line x1="130.5" y1="1751.3" x2="156.5" y2="1751.3" stroke="#0a0a0a" stroke-width="3.5" stroke-linecap="butt" />
<line x1="130.5" y1="1765.2" x2="156.5" y2="1765.2" stroke="#0a0a0a" stroke-width="3.5" stroke-linecap="butt" />
<line x1="143.5" y1="1751.3" x2="143.5" y2="1765.2" stroke="#0a0a0a" stroke-width="3.5" stroke-linecap="butt" />
<line x1="217" y1="1753.2" x2="241" y2="1753.2" stroke="#0a0a0a" stroke-width="3.5" stroke-linecap="butt" />
<line x1="217" y1="1768.4" x2="241" y2="1768.4" stroke="#0a0a0a" stroke-width="3.5" stroke-linecap="butt" />
<line x1="229" y1="1753.2" x2="229" y2="1768.4" stroke="#0a0a0a" stroke-width="3.5" stroke-linecap="butt" />
<line x1="88" y1="1625" x2="88" y2="1920.2" stroke="#0a0a0a" stroke-width="3.7" stroke-linecap="butt" />
<line x1="80.5" y1="1918.4" x2="88" y2="1918.4" stroke="#0a0a0a" stroke-width="3" stroke-linecap="butt" />
<text x="77" y="1928.9" font-size="29.8" text-anchor="end">0</text>
<line x1="80.5" y1="1845.4" x2="88" y2="1845.4" stroke="#0a0a0a" stroke-width="3" stroke-linecap="butt" />
<text x="77" y="1855.9" font-size="29.8" text-anchor="end">10</text>
<line x1="80.5" y1="1772.5" x2="88" y2="1772.5" stroke="#0a0a0a" stroke-width="3" stroke-linecap="butt" />
<text x="77" y="1783" font-size="29.8" text-anchor="end">20</text>
<line x1="80.5" y1="1699.5" x2="88" y2="1699.5" stroke="#0a0a0a" stroke-width="3" stroke-linecap="butt" />
<text x="77" y="1710" font-size="29.8" text-anchor="end">30</text>
<line x1="80.5" y1="1626.5" x2="88" y2="1626.5" stroke="#0a0a0a" stroke-width="3" stroke-linecap="butt" />
<text x="77" y="1637" font-size="29.8" text-anchor="end">40</text>
<line x1="82" y1="1918.4" x2="282.3" y2="1918.4" stroke="#0a0a0a" stroke-width="3.9" stroke-linecap="butt" />
<text x="177" y="1668.4" font-size="28.5" text-anchor="middle"><tspan font-style="italic">P</tspan> = 0.81</text>
<polyline points="145.2,1684 145.2,1677 225.8,1677 225.8,1684" fill="none" stroke="#0a0a0a" stroke-width="3.3"/>
<text x="149" y="1948" font-size="29" text-anchor="middle">CL</text>
<text x="230" y="1948" font-size="29" text-anchor="middle">CL</text>
<text x="230" y="1983" font-size="29" text-anchor="middle">DCZ</text>
<text x="35.8" y="1781.3" font-size="27.5" text-anchor="middle" transform="rotate(-90 35.8 1781.3)">Lean mass (g)</text>
<text x="294.6" y="1604.9" font-size="66" font-weight="bold" fill="#231f20">l</text>
<rect x="387.7" y="1860.3" width="51" height="58.1" fill="#a7a9ac" />
<rect x="471" y="1862" width="51" height="56.4" fill="#414042" />
<circle cx="413.9" cy="1835.2" r="5.6" fill="#0a0a0a"/>
<circle cx="391" cy="1850.6" r="5.6" fill="#0a0a0a"/>
<circle cx="399.4" cy="1850.6" r="5.6" fill="#0a0a0a"/>
<circle cx="426.5" cy="1849" r="5.6" fill="#0a0a0a"/>
<circle cx="409.7" cy="1857.1" r="5.6" fill="#0a0a0a"/>
<circle cx="417.7" cy="1856.5" r="5.6" fill="#0a0a0a"/>
<circle cx="435.5" cy="1857.7" r="5.6" fill="#0a0a0a"/>
<circle cx="391" cy="1863.5" r="5.6" fill="#0a0a0a"/>
<circle cx="401.6" cy="1864.2" r="5.6" fill="#0a0a0a"/>
<circle cx="409.7" cy="1865.2" r="5.6" fill="#0a0a0a"/>
<circle cx="426.5" cy="1861.9" r="5.6" fill="#0a0a0a"/>
<circle cx="391" cy="1874.8" r="5.6" fill="#0a0a0a"/>
<circle cx="409" cy="1873.2" r="5.6" fill="#0a0a0a"/>
<circle cx="426.5" cy="1878.1" r="5.6" fill="#0a0a0a"/>
<circle cx="435.5" cy="1870" r="5.6" fill="#0a0a0a"/>
<circle cx="417.7" cy="1871.6" r="5.6" fill="#0a0a0a"/>
<circle cx="505.8" cy="1830.6" r="5.6" fill="#0a0a0a"/>
<circle cx="495.2" cy="1845.8" r="5.6" fill="#0a0a0a"/>
<circle cx="517.7" cy="1847.4" r="5.6" fill="#0a0a0a"/>
<circle cx="474.8" cy="1856.5" r="5.6" fill="#0a0a0a"/>
<circle cx="485.5" cy="1855.5" r="5.6" fill="#0a0a0a"/>
<circle cx="507.1" cy="1853.9" r="5.6" fill="#0a0a0a"/>
<circle cx="474.2" cy="1864.2" r="5.6" fill="#0a0a0a"/>
<circle cx="485.5" cy="1867.4" r="5.6" fill="#0a0a0a"/>
<circle cx="496.8" cy="1861.9" r="5.6" fill="#0a0a0a"/>
<circle cx="517.7" cy="1865.2" r="5.6" fill="#0a0a0a"/>
<circle cx="474.2" cy="1879.7" r="5.6" fill="#0a0a0a"/>
<circle cx="495.2" cy="1875.8" r="5.6" fill="#0a0a0a"/>
<circle cx="507.1" cy="1874.8" r="5.6" fill="#0a0a0a"/>
<circle cx="517.7" cy="1882.3" r="5.6" fill="#0a0a0a"/>
<line x1="357.5" y1="1625" x2="357.5" y2="1920.2" stroke="#0a0a0a" stroke-width="3.7" stroke-linecap="butt" />
<line x1="350" y1="1918.4" x2="357.5" y2="1918.4" stroke="#0a0a0a" stroke-width="3" stroke-linecap="butt" />
<text x="346.5" y="1928.9" font-size="29.8" text-anchor="end">0</text>
<line x1="350" y1="1845.4" x2="357.5" y2="1845.4" stroke="#0a0a0a" stroke-width="3" stroke-linecap="butt" />
<text x="346.5" y="1855.9" font-size="29.8" text-anchor="end">2</text>
<line x1="350" y1="1772.5" x2="357.5" y2="1772.5" stroke="#0a0a0a" stroke-width="3" stroke-linecap="butt" />
<text x="346.5" y="1783" font-size="29.8" text-anchor="end">4</text>
<line x1="350" y1="1699.5" x2="357.5" y2="1699.5" stroke="#0a0a0a" stroke-width="3" stroke-linecap="butt" />
<text x="346.5" y="1710" font-size="29.8" text-anchor="end">6</text>
<line x1="350" y1="1626.5" x2="357.5" y2="1626.5" stroke="#0a0a0a" stroke-width="3" stroke-linecap="butt" />
<text x="346.5" y="1637" font-size="29.8" text-anchor="end">8</text>
<line x1="351.5" y1="1918.4" x2="551.6" y2="1918.4" stroke="#0a0a0a" stroke-width="3.9" stroke-linecap="butt" />
<text x="452.6" y="1668.4" font-size="28.5" text-anchor="middle"><tspan font-style="italic">P</tspan> = 0.88</text>
<polyline points="412.3,1684 412.3,1677 492,1677 492,1684" fill="none" stroke="#0a0a0a" stroke-width="3.3"/>
<text x="409.7" y="1948" font-size="29" text-anchor="middle">CL</text>
<text x="492" y="1948" font-size="29" text-anchor="middle">CL</text>
<text x="492" y="1983" font-size="29" text-anchor="middle">DCZ</text>
<text x="315" y="1781.3" font-size="27.5" text-anchor="middle" transform="rotate(-90 315 1781.3)">Fat mass (g)</text>
<text x="543.3" y="1604.8" font-size="67.3" font-weight="bold" fill="#231f20">m</text>
<rect x="660.3" y="1744.7" width="51.4" height="174" fill="#a7a9ac" />
<rect x="743.2" y="1746.5" width="51.4" height="172.2" fill="#414042" />
<circle cx="672.5" cy="1713.1" r="5.6" fill="#0a0a0a"/>
<circle cx="663.3" cy="1720" r="5.6" fill="#0a0a0a"/>
<circle cx="708.2" cy="1717.7" r="5.6" fill="#0a0a0a"/>
<circle cx="672.5" cy="1726.3" r="5.6" fill="#0a0a0a"/>
<circle cx="681" cy="1727.4" r="5.6" fill="#0a0a0a"/>
<circle cx="689.8" cy="1725.1" r="5.6" fill="#0a0a0a"/>
<circle cx="699.4" cy="1725.1" r="5.6" fill="#0a0a0a"/>
<circle cx="681" cy="1748.2" r="5.6" fill="#0a0a0a"/>
<circle cx="690.9" cy="1750.9" r="5.6" fill="#0a0a0a"/>
<circle cx="699.4" cy="1751.6" r="5.6" fill="#0a0a0a"/>
<circle cx="672.5" cy="1758.5" r="5.6" fill="#0a0a0a"/>
<circle cx="681" cy="1764.7" r="5.6" fill="#0a0a0a"/>
<circle cx="689.8" cy="1770.7" r="5.6" fill="#0a0a0a"/>
<circle cx="699.4" cy="1767.7" r="5.6" fill="#0a0a0a"/>
<circle cx="672.5" cy="1773" r="5.6" fill="#0a0a0a"/>
<circle cx="689.8" cy="1752.8" r="5.6" fill="#0a0a0a"/>
<circle cx="763.5" cy="1703.2" r="5.6" fill="#0a0a0a"/>
<circle cx="775" cy="1700.9" r="5.6" fill="#0a0a0a"/>
<circle cx="747.4" cy="1725.1" r="5.6" fill="#0a0a0a"/>
<circle cx="758.4" cy="1721.7" r="5.6" fill="#0a0a0a"/>
<circle cx="769.3" cy="1721.7" r="5.6" fill="#0a0a0a"/>
<circle cx="791.6" cy="1727" r="5.6" fill="#0a0a0a"/>
<circle cx="769.3" cy="1732.5" r="5.6" fill="#0a0a0a"/>
<circle cx="747.4" cy="1761.5" r="5.6" fill="#0a0a0a"/>
<circle cx="758.4" cy="1758.5" r="5.6" fill="#0a0a0a"/>
<circle cx="769.3" cy="1765.4" r="5.6" fill="#0a0a0a"/>
<circle cx="791.6" cy="1767" r="5.6" fill="#0a0a0a"/>
<circle cx="758.4" cy="1773.5" r="5.6" fill="#0a0a0a"/>
<circle cx="779.6" cy="1774.6" r="5.6" fill="#0a0a0a"/>
<circle cx="769.3" cy="1787.3" r="5.6" fill="#0a0a0a"/>
<line x1="671" y1="1735.5" x2="701" y2="1735.5" stroke="#0a0a0a" stroke-width="3.5" stroke-linecap="butt" />
<line x1="671" y1="1748.2" x2="701" y2="1748.2" stroke="#0a0a0a" stroke-width="3.5" stroke-linecap="butt" />
<line x1="686" y1="1735.5" x2="686" y2="1748.2" stroke="#0a0a0a" stroke-width="3.5" stroke-linecap="butt" />
<line x1="754" y1="1736.2" x2="784" y2="1736.2" stroke="#0a0a0a" stroke-width="3.5" stroke-linecap="butt" />
<line x1="754" y1="1751.6" x2="784" y2="1751.6" stroke="#0a0a0a" stroke-width="3.5" stroke-linecap="butt" />
<line x1="769" y1="1736.2" x2="769" y2="1751.6" stroke="#0a0a0a" stroke-width="3.5" stroke-linecap="butt" />
<line x1="630.5" y1="1624.5" x2="630.5" y2="1920.5" stroke="#0a0a0a" stroke-width="3.7" stroke-linecap="butt" />
<line x1="623" y1="1918.7" x2="630.5" y2="1918.7" stroke="#0a0a0a" stroke-width="3" stroke-linecap="butt" />
<text x="619.5" y="1929.2" font-size="29.8" text-anchor="end">0</text>
<line x1="623" y1="1845.5" x2="630.5" y2="1845.5" stroke="#0a0a0a" stroke-width="3" stroke-linecap="butt" />
<text x="619.5" y="1856" font-size="29.8" text-anchor="end">10</text>
<line x1="623" y1="1772.3" x2="630.5" y2="1772.3" stroke="#0a0a0a" stroke-width="3" stroke-linecap="butt" />
<text x="619.5" y="1782.8" font-size="29.8" text-anchor="end">20</text>
<line x1="623" y1="1699.2" x2="630.5" y2="1699.2" stroke="#0a0a0a" stroke-width="3" stroke-linecap="butt" />
<text x="619.5" y="1709.7" font-size="29.8" text-anchor="end">30</text>
<line x1="623" y1="1626" x2="630.5" y2="1626" stroke="#0a0a0a" stroke-width="3" stroke-linecap="butt" />
<text x="619.5" y="1636.5" font-size="29.8" text-anchor="end">40</text>
<line x1="624.5" y1="1918.7" x2="825" y2="1918.7" stroke="#0a0a0a" stroke-width="3.9" stroke-linecap="butt" />
<text x="720.6" y="1639.9" font-size="28.5" text-anchor="middle"><tspan font-style="italic">P</tspan> = 0.86</text>
<polyline points="679.9,1656 679.9,1648.6 760.5,1648.6 760.5,1656" fill="none" stroke="#0a0a0a" stroke-width="3.3"/>
<text x="679.4" y="1947.5" font-size="29" text-anchor="middle">CL</text>
<text x="761.2" y="1947.5" font-size="29" text-anchor="middle">CL</text>
<text x="761.2" y="1982" font-size="29" text-anchor="middle">DCZ</text>
<text x="576.5" y="1780.4" font-size="27.5" text-anchor="middle" transform="rotate(-90 576.5 1780.4)">Body mass (g)</text>
<text x="-4.9" y="2156.2" font-size="69.3" font-weight="bold" fill="#231f20">n</text>
<rect x="107.1" y="2291.7" width="50.3" height="160.6" fill="#d1d3d4" />
<rect x="190.3" y="2284.4" width="50.7" height="167.9" fill="#89cfb2" />
<circle cx="132.3" cy="2241.6" r="5.6" fill="#0a0a0a"/>
<circle cx="132.3" cy="2260.3" r="5.6" fill="#0a0a0a"/>
<circle cx="144.2" cy="2274.2" r="5.6" fill="#0a0a0a"/>
<circle cx="120.3" cy="2284.5" r="5.6" fill="#0a0a0a"/>
<circle cx="144.2" cy="2301.6" r="5.6" fill="#0a0a0a"/>
<circle cx="120.3" cy="2308.7" r="5.6" fill="#0a0a0a"/>
<circle cx="144.2" cy="2321.6" r="5.6" fill="#0a0a0a"/>
<circle cx="120.3" cy="2324.8" r="5.6" fill="#0a0a0a"/>
<circle cx="201.6" cy="2256.5" r="5.6" fill="#0a0a0a"/>
<circle cx="215.5" cy="2257.7" r="5.6" fill="#0a0a0a"/>
<circle cx="229" cy="2251.3" r="5.6" fill="#0a0a0a"/>
<circle cx="215.5" cy="2279.7" r="5.6" fill="#0a0a0a"/>
<circle cx="201.6" cy="2299" r="5.6" fill="#0a0a0a"/>
<circle cx="215.5" cy="2301.6" r="5.6" fill="#0a0a0a"/>
<circle cx="229" cy="2304.8" r="5.6" fill="#0a0a0a"/>
<circle cx="201.6" cy="2313.5" r="5.6" fill="#0a0a0a"/>
<line x1="117.8" y1="2279.7" x2="145.8" y2="2279.7" stroke="#0a0a0a" stroke-width="3.5" stroke-linecap="butt" />
<line x1="117.8" y1="2299.7" x2="145.8" y2="2299.7" stroke="#0a0a0a" stroke-width="3.5" stroke-linecap="butt" />
<line x1="131.8" y1="2279.7" x2="131.8" y2="2299.7" stroke="#0a0a0a" stroke-width="3.5" stroke-linecap="butt" />
<line x1="201.8" y1="2274.2" x2="229.8" y2="2274.2" stroke="#0a0a0a" stroke-width="3.5" stroke-linecap="butt" />
<line x1="201.8" y1="2292.6" x2="229.8" y2="2292.6" stroke="#0a0a0a" stroke-width="3.5" stroke-linecap="butt" />
<line x1="215.8" y1="2274.2" x2="215.8" y2="2292.6" stroke="#0a0a0a" stroke-width="3.5" stroke-linecap="butt" />
<line x1="76.9" y1="2158.8" x2="76.9" y2="2454.1" stroke="#0a0a0a" stroke-width="3.7" stroke-linecap="butt" />
<line x1="69.4" y1="2452.3" x2="76.9" y2="2452.3" stroke="#0a0a0a" stroke-width="3" stroke-linecap="butt" />
<text x="65.9" y="2462.8" font-size="29.8" text-anchor="end">0</text>
<line x1="69.4" y1="2379.3" x2="76.9" y2="2379.3" stroke="#0a0a0a" stroke-width="3" stroke-linecap="butt" />
<text x="65.9" y="2389.8" font-size="29.8" text-anchor="end">10</text>
<line x1="69.4" y1="2306.3" x2="76.9" y2="2306.3" stroke="#0a0a0a" stroke-width="3" stroke-linecap="butt" />
<text x="65.9" y="2316.8" font-size="29.8" text-anchor="end">20</text>
<line x1="69.4" y1="2233.3" x2="76.9" y2="2233.3" stroke="#0a0a0a" stroke-width="3" stroke-linecap="butt" />
<text x="65.9" y="2243.8" font-size="29.8" text-anchor="end">30</text>
<line x1="69.4" y1="2160.3" x2="76.9" y2="2160.3" stroke="#0a0a0a" stroke-width="3" stroke-linecap="butt" />
<text x="65.9" y="2170.8" font-size="29.8" text-anchor="end">40</text>
<line x1="70.9" y1="2452.3" x2="271" y2="2452.3" stroke="#0a0a0a" stroke-width="3.9" stroke-linecap="butt" />
<text x="175" y="2202.3" font-size="28.5" text-anchor="middle"><tspan font-style="italic">P</tspan> = 0.625</text>
<polyline points="134.8,2219 134.8,2212 214.5,2212 214.5,2219" fill="none" stroke="#0a0a0a" stroke-width="3.3"/>
<text x="138" y="2482.9" font-size="29" text-anchor="middle">CL</text>
<text x="220" y="2482.9" font-size="29" text-anchor="middle">CL</text>
<text x="220" y="2516.8" font-size="29" text-anchor="middle">DCZ</text>
<text x="22" y="2315" font-size="27.5" text-anchor="middle" transform="rotate(-90 22 2315)">Lean mass (g)</text>
<text x="271.5" y="2155.5" font-size="66.4" font-weight="bold" fill="#231f20">o</text>
<rect x="384.5" y="2378" width="51" height="87.2" fill="#d1d3d4" />
<rect x="467.7" y="2353" width="51" height="112.2" fill="#89cfb2" />
<circle cx="409.7" cy="2279.7" r="5.6" fill="#0a0a0a"/>
<circle cx="410.3" cy="2361.9" r="5.6" fill="#0a0a0a"/>
<circle cx="409.7" cy="2375.8" r="5.6" fill="#0a0a0a"/>
<circle cx="396.1" cy="2392.6" r="5.6" fill="#0a0a0a"/>
<circle cx="423.2" cy="2384.5" r="5.6" fill="#0a0a0a"/>
<circle cx="409.7" cy="2399" r="5.6" fill="#0a0a0a"/>
<circle cx="423.2" cy="2395.8" r="5.6" fill="#0a0a0a"/>
<circle cx="409.7" cy="2414.5" r="5.6" fill="#0a0a0a"/>
<circle cx="492.9" cy="2248.1" r="5.6" fill="#0a0a0a"/>
<circle cx="492.9" cy="2293.2" r="5.6" fill="#0a0a0a"/>
<circle cx="492.9" cy="2326.5" r="5.6" fill="#0a0a0a"/>
<circle cx="479" cy="2374.8" r="5.6" fill="#0a0a0a"/>
<circle cx="507.1" cy="2380.3" r="5.6" fill="#0a0a0a"/>
<circle cx="492.9" cy="2386.1" r="5.6" fill="#0a0a0a"/>
<circle cx="479" cy="2399.7" r="5.6" fill="#0a0a0a"/>
<circle cx="516.1" cy="2394.2" r="5.6" fill="#0a0a0a"/>
<line x1="396" y1="2360.3" x2="424" y2="2360.3" stroke="#0a0a0a" stroke-width="3.5" stroke-linecap="butt" />
<line x1="396" y1="2390" x2="424" y2="2390" stroke="#0a0a0a" stroke-width="3.5" stroke-linecap="butt" />
<line x1="410" y1="2360.3" x2="410" y2="2390" stroke="#0a0a0a" stroke-width="3.5" stroke-linecap="butt" />
<line x1="479" y1="2330.6" x2="507" y2="2330.6" stroke="#0a0a0a" stroke-width="3.5" stroke-linecap="butt" />
<line x1="479" y1="2370" x2="507" y2="2370" stroke="#0a0a0a" stroke-width="3.5" stroke-linecap="butt" />
<line x1="493" y1="2330.6" x2="493" y2="2370" stroke="#0a0a0a" stroke-width="3.5" stroke-linecap="butt" />
<line x1="354.8" y1="2172.4" x2="354.8" y2="2466.9" stroke="#0a0a0a" stroke-width="3.7" stroke-linecap="butt" />
<line x1="347.3" y1="2465.2" x2="354.8" y2="2465.2" stroke="#0a0a0a" stroke-width="3" stroke-linecap="butt" />
<text x="343.8" y="2475.7" font-size="29.8" text-anchor="end">0</text>
<line x1="347.3" y1="2392.4" x2="354.8" y2="2392.4" stroke="#0a0a0a" stroke-width="3" stroke-linecap="butt" />
<text x="343.8" y="2402.9" font-size="29.8" text-anchor="end">2</text>
<line x1="347.3" y1="2319.6" x2="354.8" y2="2319.6" stroke="#0a0a0a" stroke-width="3" stroke-linecap="butt" />
<text x="343.8" y="2330.1" font-size="29.8" text-anchor="end">4</text>
<line x1="347.3" y1="2246.7" x2="354.8" y2="2246.7" stroke="#0a0a0a" stroke-width="3" stroke-linecap="butt" />
<text x="343.8" y="2257.2" font-size="29.8" text-anchor="end">6</text>
<line x1="347.3" y1="2173.9" x2="354.8" y2="2173.9" stroke="#0a0a0a" stroke-width="3" stroke-linecap="butt" />
<text x="343.8" y="2184.4" font-size="29.8" text-anchor="end">8</text>
<line x1="348.8" y1="2465.2" x2="548.4" y2="2465.2" stroke="#0a0a0a" stroke-width="3.9" stroke-linecap="butt" />
<text x="453.3" y="2216.8" font-size="28.5" text-anchor="middle"><tspan font-style="italic">P</tspan> = 0.33</text>
<polyline points="413,2233.5 413,2226.5 493,2226.5 493,2233.5" fill="none" stroke="#0a0a0a" stroke-width="3.3"/>
<text x="410.3" y="2495.8" font-size="29" text-anchor="middle">CL</text>
<text x="493" y="2495.8" font-size="29" text-anchor="middle">CL</text>
<text x="493" y="2530" font-size="29" text-anchor="middle">DCZ</text>
<text x="316.5" y="2328" font-size="27.5" text-anchor="middle" transform="rotate(-90 316.5 2328)">Fat mass (g)</text>
<text x="543.7" y="2154.3" font-size="67" font-weight="bold" fill="#231f20">p</text>
<rect x="660.6" y="2254.6" width="50.7" height="197.8" fill="#d1d3d4" />
<rect x="743.9" y="2251" width="50.6" height="201.4" fill="#89cfb2" />
<circle cx="673.9" cy="2219.1" r="5.6" fill="#0a0a0a"/>
<circle cx="698" cy="2218.4" r="5.6" fill="#0a0a0a"/>
<circle cx="686" cy="2233.6" r="5.6" fill="#0a0a0a"/>
<circle cx="684.8" cy="2246.1" r="5.6" fill="#0a0a0a"/>
<circle cx="673.9" cy="2264.9" r="5.6" fill="#0a0a0a"/>
<circle cx="698" cy="2261.8" r="5.6" fill="#0a0a0a"/>
<circle cx="698" cy="2283.5" r="5.6" fill="#0a0a0a"/>
<circle cx="673.9" cy="2289.5" r="5.6" fill="#0a0a0a"/>
<circle cx="758.3" cy="2219.6" r="5.6" fill="#0a0a0a"/>
<circle cx="780" cy="2219.6" r="5.6" fill="#0a0a0a"/>
<circle cx="758.3" cy="2241.3" r="5.6" fill="#0a0a0a"/>
<circle cx="780" cy="2241.3" r="5.6" fill="#0a0a0a"/>
<circle cx="769.2" cy="2248.5" r="5.6" fill="#0a0a0a"/>
<circle cx="769.2" cy="2269.8" r="5.6" fill="#0a0a0a"/>
<circle cx="755.9" cy="2277" r="5.6" fill="#0a0a0a"/>
<circle cx="782.5" cy="2275.1" r="5.6" fill="#0a0a0a"/>
<line x1="671" y1="2241.8" x2="701" y2="2241.8" stroke="#0a0a0a" stroke-width="3.5" stroke-linecap="butt" />
<line x1="671" y1="2261.8" x2="701" y2="2261.8" stroke="#0a0a0a" stroke-width="3.5" stroke-linecap="butt" />
<line x1="686" y1="2241.8" x2="686" y2="2261.8" stroke="#0a0a0a" stroke-width="3.5" stroke-linecap="butt" />
<line x1="753.2" y1="2240.1" x2="783.2" y2="2240.1" stroke="#0a0a0a" stroke-width="3.5" stroke-linecap="butt" />
<line x1="753.2" y1="2257" x2="783.2" y2="2257" stroke="#0a0a0a" stroke-width="3.5" stroke-linecap="butt" />
<line x1="768.2" y1="2240.1" x2="768.2" y2="2257" stroke="#0a0a0a" stroke-width="3.5" stroke-linecap="butt" />
<line x1="630.6" y1="2159" x2="630.6" y2="2454.2" stroke="#0a0a0a" stroke-width="3.7" stroke-linecap="butt" />
<line x1="623.1" y1="2452.4" x2="630.6" y2="2452.4" stroke="#0a0a0a" stroke-width="3" stroke-linecap="butt" />
<text x="619.6" y="2462.9" font-size="29.8" text-anchor="end">0</text>
<line x1="623.1" y1="2379.4" x2="630.6" y2="2379.4" stroke="#0a0a0a" stroke-width="3" stroke-linecap="butt" />
<text x="619.6" y="2389.9" font-size="29.8" text-anchor="end">10</text>
<line x1="623.1" y1="2306.4" x2="630.6" y2="2306.4" stroke="#0a0a0a" stroke-width="3" stroke-linecap="butt" />
<text x="619.6" y="2316.9" font-size="29.8" text-anchor="end">20</text>
<line x1="623.1" y1="2233.5" x2="630.6" y2="2233.5" stroke="#0a0a0a" stroke-width="3" stroke-linecap="butt" />
<text x="619.6" y="2244" font-size="29.8" text-anchor="end">30</text>
<line x1="623.1" y1="2160.5" x2="630.6" y2="2160.5" stroke="#0a0a0a" stroke-width="3" stroke-linecap="butt" />
<text x="619.6" y="2171" font-size="29.8" text-anchor="end">40</text>
<line x1="624.6" y1="2452.4" x2="824.7" y2="2452.4" stroke="#0a0a0a" stroke-width="3.9" stroke-linecap="butt" />
<text x="721.5" y="2174.2" font-size="28.5" text-anchor="middle"><tspan font-style="italic">P</tspan> = 0.8</text>
<polyline points="688.4,2189.5 688.4,2182.2 769.2,2182.2 769.2,2189.5" fill="none" stroke="#0a0a0a" stroke-width="3.3"/>
<text x="687.6" y="2482.5" font-size="29" text-anchor="middle">CL</text>
<text x="769.7" y="2482.5" font-size="29" text-anchor="middle">CL</text>
<text x="769.7" y="2517.5" font-size="29" text-anchor="middle">DCZ</text>
<text x="574.1" y="2313.7" font-size="27.5" text-anchor="middle" transform="rotate(-90 574.1 2313.7)">Body mass (g)</text>
<text x="947.2" y="1124.7" font-size="66.1" font-weight="bold" fill="#231f20">q</text>
<polygon points="1082.2,1325.5 1085.2,1348.3 1088.2,1379.2 1091.2,1374.6 1094.2,1373.5 1097.2,1366.9 1100.2,1363 1103.2,1342.5 1106.2,1377.6 1109.2,1375.4 1112.2,1345.8 1115.2,1322 1118.2,1313.7 1121.2,1306 1124.2,1297.2 1127.2,1274.4 1130.2,1246.6 1133.2,1259.2 1136.2,1267.9 1139.2,1273.9 1142.2,1276.1 1145.2,1277 1148.2,1269.5 1151.2,1267.1 1154.2,1274.1 1157.2,1281.7 1160.2,1284.3 1163.2,1284.8 1166.2,1279.6 1169.2,1281.9 1172.2,1289.8 1175.2,1298.6 1178.2,1291.7 1181.2,1265.4 1184.2,1282.3 1187.2,1308.7 1190.2,1336.2 1193.2,1325.9 1196.2,1315.5 1199.2,1338.2 1202.2,1291 1205.2,1236.7 1208.2,1313.1 1211.2,1370.7 1214.2,1358.3 1217.2,1355 1220.2,1358.1 1223.2,1357.9 1226.2,1360.8 1229.2,1350.8 1232.2,1328 1235.2,1302.8 1238.2,1275.2 1241.2,1248.4 1244.2,1252.1 1247.2,1269.4 1250.2,1272.3 1253.2,1275.4 1256.2,1271.1 1259.2,1279 1262.2,1278.9 1265.2,1282.1 1268.2,1283.2 1271.2,1286.9 1274.2,1288.8 1277.2,1296.8 1280.2,1295 1283.2,1290.5 1286.2,1287.4 1289.2,1279.8 1292.2,1283 1295.2,1288 1298.2,1311.5 1301.2,1347.4 1304.2,1384.4 1307.2,1366.8 1310.2,1338.9 1313.2,1309.9 1316.2,1272.8 1319.2,1258.7 1322.2,1276.7 1325.2,1279.3 1328.2,1282.6 1331.2,1275.5 1334.2,1282.3 1337.2,1282.7 1340.2,1281.2 1343.2,1281.4 1346.2,1278.4 1349.2,1259.8 1352.2,1256.2 1355.2,1250.1 1358.2,1247.2 1361.2,1258.2 1364.2,1257.9 1367.2,1262.6 1370.2,1268.6 1373.2,1283 1376.2,1270.3 1379.2,1276.7 1382.2,1284.4 1385.2,1281.9 1388.2,1287.1 1391.2,1295.6 1394.2,1300 1397.2,1305.2 1400.2,1304.6 1403.2,1302.4 1406.2,1304.6 1409.2,1319.9 1412.2,1335.6 1415.2,1352.4 1418.2,1352.1 1421.2,1317.9 1424.2,1290.6 1427.2,1293.6 1430.2,1298.9 1433.2,1308.5 1436.2,1306.5 1439.2,1309.1 1442.2,1305 1445.2,1303.5 1448.2,1305.4 1451.2,1303.9 1454.2,1302.6 1457.2,1302.9 1460.2,1279.2 1463.2,1271.6 1466.2,1279.6 1469.2,1282.4 1472.2,1276.3 1475.2,1277.9 1478.2,1277.7 1481.2,1283.6 1484.2,1286.4 1487.2,1293.7 1490.2,1311.2 1493.2,1312.1 1496.2,1302.2 1499.2,1303.2 1502.2,1307.9 1505.2,1314.3 1508.2,1310.9 1511.2,1315.2 1514.2,1305.5 1517.2,1305.5 1520.2,1333.5 1523.2,1354.4 1526.2,1373.5 1529.2,1362.3 1532.2,1307.8 1535.2,1262.9 1538.2,1290.5 1541.2,1314.4 1544.2,1315.8 1547.2,1307.1 1550.2,1299.4 1553.2,1282.6 1556.2,1282.7 1559.2,1271.4 1562.2,1268.6 1565.2,1263.5 1568.2,1254.1 1571.2,1250.4 1574.2,1252.9 1577.2,1269.9 1580.2,1277.2 1583.2,1280.4 1586.2,1285.1 1589.2,1289.5 1592.2,1292.8 1595.2,1293.4 1598.2,1293.3 1601.2,1291.5 1604.2,1293.5 1607.2,1301.9 1610.2,1297.6 1613.2,1301.2 1616.2,1310.9 1619.2,1316.8 1622.2,1306 1625.2,1296.3 1628.2,1302 1631.2,1311.8 1634.2,1334.7 1637.2,1372.8 1640.2,1377.7 1643.2,1364.3 1646.2,1320.7 1649.2,1281.1 1652.2,1289.9 1655.2,1318.5 1658.2,1329.5 1661.2,1329.6 1664.2,1329.6 1667.2,1316.7 1670.2,1302.2 1673.2,1295 1676.2,1289.7 1679.2,1283.2 1682.2,1283.5 1685.2,1269.8 1688.2,1267.3 1691.2,1273.3 1694.2,1283.8 1697.2,1286.2 1700.2,1287.9 1703.2,1285.7 1706.2,1295.6 1709.2,1292.5 1712.2,1292.9 1715.2,1291.6 1718.2,1301.5 1721.2,1306.2 1724.2,1307.8 1727.2,1301.8 1730.2,1304.5 1733.2,1301 1736.2,1308.8 1739.2,1311.1 1742.2,1301.3 1745.2,1318.2 1748.2,1353.5 1751.2,1376.9 1754.2,1364.1 1757.2,1340.9 1760.2,1302.4 1763.2,1293.2 1766.2,1292.2 1769.2,1280 1772.2,1278.6 1775.2,1276.5 1778.2,1280.9 1781.2,1274.7 1784.2,1273.4 1787.2,1266.6 1790.2,1265.4 1793.2,1262.9 1796.2,1268.4 1799.2,1277.2 1802.2,1274.9 1805.2,1271.5 1808.2,1278.1 1811.2,1282 1814.2,1285.9 1817.2,1288.4 1820.2,1295.3 1823.2,1299.3 1826.2,1298.7 1829.2,1308.2 1832.2,1309.2 1835.2,1300.8 1838.2,1304 1841.2,1305.6 1844.2,1294.4 1847.2,1295.8 1850.2,1302.2 1853.2,1302.7 1856.2,1324.5 1859.2,1344.4 1862.2,1364 1865.2,1353.8 1868.2,1338.9 1871.2,1315.2 1874.2,1285.9 1877.2,1283 1880.2,1285.6 1883.2,1282.5 1886.2,1279.8 1889.2,1281.5 1892.2,1278.6 1895.2,1272.7 1898.2,1277.1 1901.2,1274.9 1904.2,1264.1 1907.2,1263.2 1910.2,1265.1 1913.2,1278.8 1916.2,1275.1 1919.2,1273 1922.2,1279.6 1925.2,1281 1928.2,1281.6 1931.2,1279.6 1934.2,1280 1937.2,1281.7 1940.2,1290.9 1943.2,1300.9 1946.2,1295.4 1949.2,1297.2 1952.2,1301.8 1955.2,1305.8 1958.2,1305.6 1961.2,1303 1964.2,1315.4 1967.2,1323.6 1970.2,1336.9 1973.2,1341.9 1976.2,1345.4 1979.2,1341 1982.2,1324.4 1985.2,1287.2 1988.2,1270.8 1991.2,1269 1994.2,1273.7 1997.2,1271 2000.2,1276.6 2003.2,1271.4 2006.2,1275.1 2009.2,1266.6 2012.2,1266.6 2015.2,1262 2018.2,1268.9 2021.2,1264.6 2024.2,1267.1 2027.2,1269.9 2030.2,1271.2 2033.2,1272.5 2036.2,1271.6 2039.2,1276.1 2042.2,1282.5 2045.2,1282.7 2048.2,1287.4 2051.2,1287.9 2054.2,1290 2057.2,1292.6 2060.2,1296 2063.2,1296.9 2066.2,1293.2 2069.2,1302 2072.2,1301.4 2075.2,1312.6 2078.2,1314.1 2081.2,1326.6 2084.2,1348.1 2087.2,1368.4 2090.2,1363.4 2093.2,1338.9 2093.2,1351.1 2090.2,1379 2087.2,1383.1 2084.2,1360.4 2081.2,1340.8 2078.2,1326.8 2075.2,1323.8 2072.2,1313.7 2069.2,1316.2 2066.2,1308.3 2063.2,1311.9 2060.2,1311.6 2057.2,1305.1 2054.2,1301.9 2051.2,1299.7 2048.2,1298.6 2045.2,1296.4 2042.2,1294.4 2039.2,1287.7 2036.2,1287.1 2033.2,1286.3 2030.2,1283.1 2027.2,1286.2 2024.2,1285.4 2021.2,1278.7 2018.2,1280.8 2015.2,1272.9 2012.2,1279.1 2009.2,1282.4 2006.2,1289.9 2003.2,1283.2 2000.2,1287.6 1997.2,1285 1994.2,1287.9 1991.2,1284.1 1988.2,1286.1 1985.2,1301.3 1982.2,1341 1979.2,1355.9 1976.2,1358.9 1973.2,1355.6 1970.2,1351.4 1967.2,1338.6 1964.2,1330 1961.2,1316.7 1958.2,1317.5 1955.2,1316 1952.2,1313.2 1949.2,1313 1946.2,1308.9 1943.2,1312.7 1940.2,1306.4 1937.2,1299.4 1934.2,1296.5 1931.2,1292.7 1928.2,1294.4 1925.2,1293.3 1922.2,1293.3 1919.2,1289.1 1916.2,1287.1 1913.2,1288.2 1910.2,1278.1 1907.2,1278 1904.2,1277 1901.2,1286.3 1898.2,1290.9 1895.2,1289.6 1892.2,1292.3 1889.2,1292.5 1886.2,1291.9 1883.2,1294.8 1880.2,1299.9 1877.2,1299.9 1874.2,1300.4 1871.2,1326.4 1868.2,1352.5 1865.2,1368.1 1862.2,1375.1 1859.2,1356.2 1856.2,1336.9 1853.2,1317.7 1850.2,1317.4 1847.2,1312.2 1844.2,1310.9 1841.2,1318.3 1838.2,1317.9 1835.2,1315.8 1832.2,1323.4 1829.2,1321.6 1826.2,1314.3 1823.2,1313.2 1820.2,1309.3 1817.2,1301.8 1814.2,1297.4 1811.2,1294.9 1808.2,1290.8 1805.2,1285.4 1802.2,1289.1 1799.2,1290.4 1796.2,1280.7 1793.2,1277.3 1790.2,1282 1787.2,1283.8 1784.2,1289.3 1781.2,1286.7 1778.2,1294.1 1775.2,1292 1772.2,1291.7 1769.2,1292.6 1766.2,1306.7 1763.2,1309 1760.2,1317.4 1757.2,1354.8 1754.2,1378.5 1751.2,1390.3 1748.2,1368.2 1745.2,1334.1 1742.2,1314.1 1739.2,1325.3 1736.2,1324.9 1733.2,1316.5 1730.2,1317.8 1727.2,1312 1724.2,1319.5 1721.2,1321.4 1718.2,1319.1 1715.2,1307.5 1712.2,1305.6 1709.2,1303.4 1706.2,1307.7 1703.2,1299.4 1700.2,1300.1 1697.2,1301.3 1694.2,1300.7 1691.2,1287.2 1688.2,1282.6 1685.2,1287.3 1682.2,1299.9 1679.2,1296.3 1676.2,1302.7 1673.2,1309.1 1670.2,1314.4 1667.2,1327.3 1664.2,1341.9 1661.2,1343.9 1658.2,1344.8 1655.2,1334.2 1652.2,1305 1649.2,1296.9 1646.2,1336.1 1643.2,1378.9 1640.2,1391.1 1637.2,1388.3 1634.2,1351.3 1631.2,1324.9 1628.2,1314.6 1625.2,1312.5 1622.2,1321.2 1619.2,1329.9 1616.2,1324.5 1613.2,1316.8 1610.2,1316.9 1607.2,1318.2 1604.2,1307.6 1601.2,1307.3 1598.2,1309.7 1595.2,1308 1592.2,1304.4 1589.2,1301.8 1586.2,1298.9 1583.2,1295.9 1580.2,1293.7 1577.2,1283.9 1574.2,1265.2 1571.2,1264.7 1568.2,1270.1 1565.2,1278.1 1562.2,1283 1559.2,1287.9 1556.2,1300.9 1553.2,1297.4 1550.2,1312.2 1547.2,1322.9 1544.2,1328.1 1541.2,1325.7 1538.2,1301.8 1535.2,1275.6 1532.2,1322.6 1529.2,1374.2 1526.2,1385.2 1523.2,1370.1 1520.2,1348.7 1517.2,1319.4 1514.2,1320.1 1511.2,1328.7 1508.2,1326.1 1505.2,1329.4 1502.2,1321.4 1499.2,1316.8 1496.2,1318.1 1493.2,1326 1490.2,1321.7 1487.2,1307.1 1484.2,1301.5 1481.2,1299.4 1478.2,1293.2 1475.2,1292.6 1472.2,1293.9 1469.2,1296.5 1466.2,1291.5 1463.2,1286.1 1460.2,1292.3 1457.2,1317.2 1454.2,1315.9 1451.2,1318.2 1448.2,1321.6 1445.2,1317.7 1442.2,1318.7 1439.2,1321.3 1436.2,1319.2 1433.2,1322.8 1430.2,1313.2 1427.2,1306.9 1424.2,1306.4 1421.2,1332.4 1418.2,1364.3 1415.2,1364.7 1412.2,1348.8 1409.2,1335.8 1406.2,1319.1 1403.2,1315.4 1400.2,1317.2 1397.2,1320.1 1394.2,1315.9 1391.2,1309.4 1388.2,1303.7 1385.2,1299.6 1382.2,1299.3 1379.2,1290.6 1376.2,1285.9 1373.2,1298.3 1370.2,1281.5 1367.2,1275.5 1364.2,1272.8 1361.2,1273.4 1358.2,1263.7 1355.2,1268.9 1352.2,1272.4 1349.2,1274.6 1346.2,1294.6 1343.2,1299.2 1340.2,1297.9 1337.2,1299.3 1334.2,1297.4 1331.2,1289.4 1328.2,1296.3 1325.2,1292.6 1322.2,1290.7 1319.2,1270.7 1316.2,1284.1 1313.2,1322.6 1310.2,1353 1307.2,1380.3 1304.2,1394.8 1301.2,1359.3 1298.2,1329.7 1295.2,1303.3 1292.2,1294.9 1289.2,1295.8 1286.2,1301.1 1283.2,1301.8 1280.2,1308.4 1277.2,1312 1274.2,1303.4 1271.2,1298.4 1268.2,1294.3 1265.2,1297.5 1262.2,1296.6 1259.2,1295.4 1256.2,1285.3 1253.2,1287.6 1250.2,1285.8 1247.2,1286.7 1244.2,1268.7 1241.2,1263.3 1238.2,1291.4 1235.2,1317.9 1232.2,1343.3 1229.2,1364.9 1226.2,1371.6 1223.2,1372.2 1220.2,1374.1 1217.2,1368.7 1214.2,1370.7 1211.2,1384.4 1208.2,1327 1205.2,1248.5 1202.2,1305.5 1199.2,1353.4 1196.2,1328.2 1193.2,1340 1190.2,1353.5 1187.2,1326 1184.2,1296.9 1181.2,1275.6 1178.2,1302.6 1175.2,1313 1172.2,1306.9 1169.2,1298.5 1166.2,1292 1163.2,1296.9 1160.2,1297.2 1157.2,1293.4 1154.2,1288.1 1151.2,1283.5 1148.2,1285.9 1145.2,1291.8 1142.2,1289.8 1139.2,1289.2 1136.2,1283.7 1133.2,1274.3 1130.2,1258.8 1127.2,1284.2 1124.2,1309.2 1121.2,1320.8 1118.2,1329.1 1115.2,1334.7 1112.2,1358.7 1109.2,1389.4 1106.2,1390.6 1103.2,1354.7 1100.2,1375 1097.2,1379.8 1094.2,1388.1 1091.2,1390.4 1088.2,1393.7 1085.2,1363.3 1082.2,1333.3" fill="#bfc0c3" fill-opacity="1"/>
<polyline points="1082.2,1330.7 1085.2,1357.2 1088.2,1386.9 1091.2,1382.4 1094.2,1380.8 1097.2,1374.3 1100.2,1369.2 1103.2,1347.7 1106.2,1383.8 1109.2,1382.1 1112.2,1352.2 1115.2,1329 1118.2,1320.7 1121.2,1311.7 1124.2,1302.3 1127.2,1279.8 1130.2,1252.4 1133.2,1264.7 1136.2,1274.3 1139.2,1282.1 1142.2,1282.5 1145.2,1283.1 1148.2,1278.5 1151.2,1276.4 1154.2,1280.8 1157.2,1286.3 1160.2,1289.1 1163.2,1290.4 1166.2,1284.8 1169.2,1288.3 1172.2,1297.5 1175.2,1304.3 1178.2,1296.1 1181.2,1271.1 1184.2,1289.6 1187.2,1316.8 1190.2,1345.5 1193.2,1334.1 1196.2,1322.4 1199.2,1346.3 1202.2,1299 1205.2,1243.5 1208.2,1321.6 1211.2,1378.9 1214.2,1366.5 1217.2,1362.5 1220.2,1365.2 1223.2,1365.2 1226.2,1367 1229.2,1359.1 1232.2,1337.3 1235.2,1310.8 1238.2,1282.9 1241.2,1256 1244.2,1260.2 1247.2,1277.2 1250.2,1278.9 1253.2,1282.5 1256.2,1279.2 1259.2,1288.8 1262.2,1288.7 1265.2,1290.3 1268.2,1289.2 1271.2,1292.9 1274.2,1296.4 1277.2,1303 1280.2,1299.4 1283.2,1295 1286.2,1293.9 1289.2,1289.2 1292.2,1289.9 1295.2,1295.1 1298.2,1319.6 1301.2,1352.3 1304.2,1388.7 1307.2,1373.8 1310.2,1346.8 1313.2,1316.1 1316.2,1279 1319.2,1264.7 1322.2,1283.3 1325.2,1285.3 1328.2,1289.2 1331.2,1282.9 1334.2,1289.6 1337.2,1291.7 1340.2,1290.4 1343.2,1290.4 1346.2,1286.3 1349.2,1268.4 1352.2,1266.3 1355.2,1259.6 1358.2,1254.9 1361.2,1264.8 1364.2,1264.4 1367.2,1269.6 1370.2,1274.3 1373.2,1289.1 1376.2,1279.2 1379.2,1283.9 1382.2,1291.4 1385.2,1291.5 1388.2,1295.9 1391.2,1303.8 1394.2,1308.5 1397.2,1311.4 1400.2,1308.6 1403.2,1308.8 1406.2,1312.9 1409.2,1327.1 1412.2,1341.1 1415.2,1358.9 1418.2,1359.3 1421.2,1325 1424.2,1297.1 1427.2,1297.7 1430.2,1305.5 1433.2,1315.9 1436.2,1311.7 1439.2,1314.4 1442.2,1311.3 1445.2,1311.9 1448.2,1314.8 1451.2,1310.4 1454.2,1309.2 1457.2,1311.6 1460.2,1288.4 1463.2,1279.1 1466.2,1283.9 1469.2,1289.6 1472.2,1286.4 1475.2,1285 1478.2,1284.7 1481.2,1290.4 1484.2,1292.6 1487.2,1301.2 1490.2,1317.4 1493.2,1319.3 1496.2,1310.3 1499.2,1309.4 1502.2,1312.7 1505.2,1321.1 1508.2,1317.9 1511.2,1320 1514.2,1312.7 1517.2,1313.3 1520.2,1341.4 1523.2,1361.8 1526.2,1379.6 1529.2,1369.9 1532.2,1315.2 1535.2,1268.7 1538.2,1296.3 1541.2,1320.1 1544.2,1322.3 1547.2,1315 1550.2,1305.9 1553.2,1290.3 1556.2,1292.5 1559.2,1279.4 1562.2,1274.8 1565.2,1271.2 1568.2,1263.4 1571.2,1259.4 1574.2,1259.1 1577.2,1275.1 1580.2,1284.9 1583.2,1289.2 1586.2,1293.4 1589.2,1297.2 1592.2,1298.7 1595.2,1300.8 1598.2,1301.4 1601.2,1299.3 1604.2,1301.6 1607.2,1310.2 1610.2,1307.1 1613.2,1310.2 1616.2,1319.5 1619.2,1324.8 1622.2,1314.6 1625.2,1305.4 1628.2,1308.8 1631.2,1317.8 1634.2,1342.5 1637.2,1379.3 1640.2,1383.5 1643.2,1371.2 1646.2,1328.5 1649.2,1289.6 1652.2,1298.4 1655.2,1327 1658.2,1335.4 1661.2,1335.8 1664.2,1335.8 1667.2,1322.8 1670.2,1308.8 1673.2,1301.8 1676.2,1297 1679.2,1290.4 1682.2,1290.9 1685.2,1277.5 1688.2,1274.1 1691.2,1278.8 1694.2,1291.6 1697.2,1293.4 1700.2,1293.5 1703.2,1292.2 1706.2,1301.5 1709.2,1298.6 1712.2,1300.9 1715.2,1300.1 1718.2,1309.3 1721.2,1313.4 1724.2,1313.6 1727.2,1307.7 1730.2,1311.8 1733.2,1308.9 1736.2,1316.4 1739.2,1316.6 1742.2,1308.1 1745.2,1327.7 1748.2,1362.2 1751.2,1384.8 1754.2,1370.3 1757.2,1346.8 1760.2,1310.6 1763.2,1300.6 1766.2,1297.4 1769.2,1284.5 1772.2,1285.8 1775.2,1285.5 1778.2,1286.7 1781.2,1278.9 1784.2,1280.5 1787.2,1276.4 1790.2,1274.7 1793.2,1271 1796.2,1275.2 1799.2,1282.2 1802.2,1280.4 1805.2,1278 1808.2,1284.4 1811.2,1288.3 1814.2,1290.9 1817.2,1294.2 1820.2,1301.4 1823.2,1306.6 1826.2,1306 1829.2,1312.9 1832.2,1314.7 1835.2,1307.4 1838.2,1311.7 1841.2,1311.9 1844.2,1301.6 1847.2,1304.6 1850.2,1310.3 1853.2,1309.8 1856.2,1330 1859.2,1349.5 1862.2,1368.2 1865.2,1360.8 1868.2,1345.7 1871.2,1319.6 1874.2,1292.7 1877.2,1291.2 1880.2,1292.4 1883.2,1289.4 1886.2,1286.3 1889.2,1286.5 1892.2,1285.7 1895.2,1280.7 1898.2,1283.7 1901.2,1282 1904.2,1272.7 1907.2,1272.6 1910.2,1272.8 1913.2,1284 1916.2,1280.8 1919.2,1281.2 1922.2,1286.3 1925.2,1286.1 1928.2,1288.2 1931.2,1286.6 1934.2,1287.4 1937.2,1289.4 1940.2,1296.8 1943.2,1305.1 1946.2,1301 1949.2,1304.5 1952.2,1307.6 1955.2,1311.4 1958.2,1311.7 1961.2,1309.3 1964.2,1324.2 1967.2,1332.7 1970.2,1345.4 1973.2,1350.9 1976.2,1353.6 1979.2,1349.2 1982.2,1332.7 1985.2,1292.6 1988.2,1277.7 1991.2,1276.7 1994.2,1281.1 1997.2,1277.6 2000.2,1280.7 2003.2,1275.4 2006.2,1280.6 2009.2,1274.9 2012.2,1273.6 2015.2,1266.4 2018.2,1274.4 2021.2,1271.1 2024.2,1275 2027.2,1279 2030.2,1278.9 2033.2,1279.4 2036.2,1280.3 2039.2,1283.5 2042.2,1288.5 2045.2,1290 2048.2,1292.9 2051.2,1293.6 2054.2,1296.8 2057.2,1300.1 2060.2,1304.7 2063.2,1304.2 2066.2,1300.5 2069.2,1309 2072.2,1306.8 2075.2,1317.6 2078.2,1320.5 2081.2,1333.4 2084.2,1352.9 2087.2,1375.9 2090.2,1370.5 2093.2,1344.1" fill="none" stroke="#a5a7aa" stroke-width="3.4" stroke-linejoin="round" />
<polygon points="1082.2,1327.3 1085.2,1351.2 1088.2,1375.4 1091.2,1367.8 1094.2,1367.4 1097.2,1364.4 1100.2,1363.2 1103.2,1339.5 1106.2,1371.4 1109.2,1370.3 1112.2,1344.1 1115.2,1317.6 1118.2,1305.3 1121.2,1295.7 1124.2,1291 1127.2,1271.5 1130.2,1243.3 1133.2,1253.5 1136.2,1262.5 1139.2,1273.6 1142.2,1271.3 1145.2,1270.5 1148.2,1270.2 1151.2,1268.7 1154.2,1270.6 1157.2,1274.3 1160.2,1278.3 1163.2,1283.4 1166.2,1276 1169.2,1274.9 1172.2,1286.4 1175.2,1294.2 1178.2,1283 1181.2,1256.1 1184.2,1278.3 1187.2,1307.1 1190.2,1333.1 1193.2,1324.6 1196.2,1313.5 1199.2,1338.3 1202.2,1293.5 1205.2,1238.1 1208.2,1313.9 1211.2,1368.3 1214.2,1356.7 1217.2,1352.7 1220.2,1354.2 1223.2,1355.5 1226.2,1357.8 1229.2,1348.8 1232.2,1326.8 1235.2,1303 1238.2,1273.6 1241.2,1242.3 1244.2,1249 1247.2,1267.7 1250.2,1266.8 1253.2,1272.6 1256.2,1268.6 1259.2,1274.5 1262.2,1273.7 1265.2,1276.8 1268.2,1279.9 1271.2,1285.2 1274.2,1285.2 1277.2,1288.8 1280.2,1288 1283.2,1286.2 1286.2,1282.8 1289.2,1273.8 1292.2,1274 1295.2,1283.3 1298.2,1309.3 1301.2,1340.6 1304.2,1380.2 1307.2,1365 1310.2,1333.4 1313.2,1305.7 1316.2,1273.1 1319.2,1250 1322.2,1258.6 1325.2,1256.6 1328.2,1250 1331.2,1261 1334.2,1266.3 1337.2,1264.6 1340.2,1269.4 1343.2,1251.9 1346.2,1246.6 1349.2,1241.9 1352.2,1251.8 1355.2,1247.1 1358.2,1247.4 1361.2,1258.6 1364.2,1254.7 1367.2,1257.7 1370.2,1266.2 1373.2,1281.1 1376.2,1266.3 1379.2,1271.5 1382.2,1281.6 1385.2,1282.2 1388.2,1286.7 1391.2,1295.2 1394.2,1301.7 1397.2,1300.2 1400.2,1295.4 1403.2,1299.2 1406.2,1304.6 1409.2,1316.4 1412.2,1330.1 1415.2,1347.8 1418.2,1348.7 1421.2,1316.2 1424.2,1284.9 1427.2,1282.9 1430.2,1285.6 1433.2,1286.7 1436.2,1287 1439.2,1289.3 1442.2,1293.3 1445.2,1294.9 1448.2,1284.5 1451.2,1293.2 1454.2,1285.5 1457.2,1276.5 1460.2,1260.5 1463.2,1266.1 1466.2,1270.7 1469.2,1277.7 1472.2,1277.1 1475.2,1278.2 1478.2,1277.8 1481.2,1279.9 1484.2,1281.8 1487.2,1290.1 1490.2,1304 1493.2,1305.7 1496.2,1298.7 1499.2,1298.1 1502.2,1300.1 1505.2,1311.1 1508.2,1308 1511.2,1306.4 1514.2,1297.4 1517.2,1303.2 1520.2,1335.1 1523.2,1355.7 1526.2,1373.2 1529.2,1362.7 1532.2,1304.2 1535.2,1257.3 1538.2,1287.3 1541.2,1311.1 1544.2,1313.2 1547.2,1301.6 1550.2,1290.6 1553.2,1280.5 1556.2,1281.8 1559.2,1267.9 1562.2,1267.4 1565.2,1263.7 1568.2,1252.2 1571.2,1245.1 1574.2,1246.6 1577.2,1264 1580.2,1275.1 1583.2,1276.4 1586.2,1280.8 1589.2,1288.7 1592.2,1288 1595.2,1286.5 1598.2,1288.6 1601.2,1289.5 1604.2,1293.4 1607.2,1301.7 1610.2,1296.1 1613.2,1297.7 1616.2,1308.9 1619.2,1317.8 1622.2,1307.5 1625.2,1296.1 1628.2,1301.1 1631.2,1312.3 1634.2,1332 1637.2,1369 1640.2,1378 1643.2,1362.9 1646.2,1319.1 1649.2,1280.9 1652.2,1289 1655.2,1314.3 1658.2,1320.7 1661.2,1322 1664.2,1323.2 1667.2,1314.4 1670.2,1300.5 1673.2,1293.3 1676.2,1287.7 1679.2,1280.4 1682.2,1281.7 1685.2,1267.3 1688.2,1264.8 1691.2,1265.8 1694.2,1275.3 1697.2,1280.6 1700.2,1283.2 1703.2,1283.3 1706.2,1293.7 1709.2,1286.2 1712.2,1290.3 1715.2,1291.5 1718.2,1299.7 1721.2,1305.9 1724.2,1304.1 1727.2,1298.1 1730.2,1300.6 1733.2,1296.3 1736.2,1304.4 1739.2,1305.1 1742.2,1298.4 1745.2,1317.1 1748.2,1349 1751.2,1372.1 1754.2,1357 1757.2,1333.7 1760.2,1301.5 1763.2,1289.5 1766.2,1286.3 1769.2,1272.5 1772.2,1268.7 1775.2,1267.8 1778.2,1257.2 1781.2,1246.9 1784.2,1246.2 1787.2,1236.8 1790.2,1241.7 1793.2,1227.6 1796.2,1227.2 1799.2,1240.3 1802.2,1254.5 1805.2,1259.9 1808.2,1271.3 1811.2,1275.2 1814.2,1279.4 1817.2,1283.3 1820.2,1289 1823.2,1293.2 1826.2,1292.4 1829.2,1303.6 1832.2,1305.3 1835.2,1293.4 1838.2,1298.1 1841.2,1302.9 1844.2,1289.9 1847.2,1289.8 1850.2,1297.8 1853.2,1298.1 1856.2,1319.2 1859.2,1341.2 1862.2,1362 1865.2,1354.2 1868.2,1337.8 1871.2,1310.6 1874.2,1282.4 1877.2,1282 1880.2,1281.9 1883.2,1275.9 1886.2,1273.1 1889.2,1266 1892.2,1270.9 1895.2,1258.5 1898.2,1255.9 1901.2,1243.6 1904.2,1233 1907.2,1222.6 1910.2,1236.7 1913.2,1246.1 1916.2,1253.8 1919.2,1266.1 1922.2,1271 1925.2,1273.7 1928.2,1276.2 1931.2,1267.3 1934.2,1278 1937.2,1282 1940.2,1288.4 1943.2,1297.2 1946.2,1293.1 1949.2,1296.7 1952.2,1299.3 1955.2,1298.8 1958.2,1299.7 1961.2,1296.7 1964.2,1311.1 1967.2,1322.5 1970.2,1336.8 1973.2,1341.1 1976.2,1339.1 1979.2,1337.4 1982.2,1325.7 1985.2,1284.7 1988.2,1266.7 1991.2,1260.6 1994.2,1257.5 1997.2,1255.3 2000.2,1251.4 2003.2,1247.8 2006.2,1242.9 2009.2,1239.5 2012.2,1236.8 2015.2,1224.8 2018.2,1217.9 2021.2,1228.7 2024.2,1237.5 2027.2,1247 2030.2,1247.9 2033.2,1255.1 2036.2,1259.6 2039.2,1271.5 2042.2,1277.4 2045.2,1279.5 2048.2,1282.8 2051.2,1283.8 2054.2,1289.2 2057.2,1293.9 2060.2,1295.8 2063.2,1290.4 2066.2,1289.3 2069.2,1298.5 2072.2,1295.6 2075.2,1305.7 2078.2,1308.1 2081.2,1320.8 2084.2,1336.5 2087.2,1364 2090.2,1359.3 2093.2,1331.9 2093.2,1351 2090.2,1379.1 2087.2,1386.6 2084.2,1362.8 2081.2,1339.5 2078.2,1328.4 2075.2,1329.6 2072.2,1315.4 2069.2,1318.1 2066.2,1310.7 2063.2,1312.5 2060.2,1314.6 2057.2,1310.7 2054.2,1309.5 2051.2,1306.1 2048.2,1302.2 2045.2,1298.2 2042.2,1295.9 2039.2,1287.8 2036.2,1279.4 2033.2,1277.9 2030.2,1265.7 2027.2,1263.5 2024.2,1258.3 2021.2,1250.1 2018.2,1235.1 2015.2,1240.4 2012.2,1254.2 2009.2,1258.9 2006.2,1263.4 2003.2,1271.7 2000.2,1274.7 1997.2,1273.4 1994.2,1273 1991.2,1276.6 1988.2,1283.6 1985.2,1302.7 1982.2,1344.2 1979.2,1356.7 1976.2,1362.4 1973.2,1363.1 1970.2,1357.4 1967.2,1343.5 1964.2,1333.6 1961.2,1321.3 1958.2,1320.8 1955.2,1318.4 1952.2,1318.5 1949.2,1317.4 1946.2,1311.3 1943.2,1310 1940.2,1302.1 1937.2,1298.3 1934.2,1294.4 1931.2,1282.1 1928.2,1291.7 1925.2,1288 1922.2,1285 1919.2,1285.5 1916.2,1273.8 1913.2,1265.8 1910.2,1258.8 1907.2,1240.7 1904.2,1248.1 1901.2,1262.8 1898.2,1274.1 1895.2,1272.2 1892.2,1290.4 1889.2,1289.7 1886.2,1294.3 1883.2,1296.2 1880.2,1300.8 1877.2,1300.9 1874.2,1303.6 1871.2,1328.6 1868.2,1350.9 1865.2,1365.3 1862.2,1373.4 1859.2,1355.5 1856.2,1337.9 1853.2,1316.7 1850.2,1317.9 1847.2,1315.2 1844.2,1312.7 1841.2,1320.6 1838.2,1316.5 1835.2,1314.6 1832.2,1325.1 1829.2,1323.4 1826.2,1312.9 1823.2,1312.4 1820.2,1312.2 1817.2,1304.4 1814.2,1297.7 1811.2,1293.9 1808.2,1288.7 1805.2,1283.6 1802.2,1279.1 1799.2,1261.5 1796.2,1251.2 1793.2,1245.2 1790.2,1256.8 1787.2,1259 1784.2,1269 1781.2,1265.6 1778.2,1273.8 1775.2,1289.1 1772.2,1293.7 1769.2,1291.5 1766.2,1302.2 1763.2,1307.3 1760.2,1321.2 1757.2,1358.7 1754.2,1381.8 1751.2,1394.5 1748.2,1372.2 1745.2,1338.9 1742.2,1317.2 1739.2,1324.5 1736.2,1324.6 1733.2,1319.3 1730.2,1321.4 1727.2,1315.5 1724.2,1321 1721.2,1318.9 1718.2,1314 1715.2,1308 1712.2,1308.1 1709.2,1306.1 1706.2,1312.1 1703.2,1300.7 1700.2,1300.5 1697.2,1304 1694.2,1304.9 1691.2,1287.4 1688.2,1282.2 1685.2,1285.3 1682.2,1296.2 1679.2,1300 1676.2,1307.9 1673.2,1313.6 1670.2,1320.5 1667.2,1334.2 1664.2,1347.9 1661.2,1347.7 1658.2,1346.9 1655.2,1333.4 1652.2,1303.1 1649.2,1297.6 1646.2,1339.8 1643.2,1380.9 1640.2,1389.4 1637.2,1384.2 1634.2,1351.1 1631.2,1330.9 1628.2,1319.9 1625.2,1314.6 1622.2,1323 1619.2,1330.6 1616.2,1328.3 1613.2,1321.4 1610.2,1318.3 1607.2,1318.9 1604.2,1309.1 1601.2,1307.8 1598.2,1308.3 1595.2,1305.8 1592.2,1303.2 1589.2,1306.8 1586.2,1305.4 1583.2,1298.1 1580.2,1295.1 1577.2,1284 1574.2,1263.9 1571.2,1264.2 1568.2,1271.5 1565.2,1281 1562.2,1283.1 1559.2,1288.4 1556.2,1300.6 1553.2,1295.9 1550.2,1310.5 1547.2,1319.3 1544.2,1331.3 1541.2,1333.2 1538.2,1307.4 1535.2,1279.4 1532.2,1326.2 1529.2,1377.5 1526.2,1388.2 1523.2,1370.6 1520.2,1347.4 1517.2,1321.5 1514.2,1324.7 1511.2,1333.9 1508.2,1331.9 1505.2,1330.8 1502.2,1319.7 1499.2,1320.1 1496.2,1323.5 1493.2,1329.1 1490.2,1321.9 1487.2,1305.1 1484.2,1299.4 1481.2,1298.5 1478.2,1292.1 1475.2,1293.3 1472.2,1294.4 1469.2,1296.4 1466.2,1293.6 1463.2,1292 1460.2,1281.3 1457.2,1292.9 1454.2,1300.3 1451.2,1309.7 1448.2,1303.7 1445.2,1312.9 1442.2,1310 1439.2,1309.1 1436.2,1310.8 1433.2,1314 1430.2,1310.3 1427.2,1304.9 1424.2,1306.8 1421.2,1336.1 1418.2,1372.9 1415.2,1371.2 1412.2,1351.8 1409.2,1335.2 1406.2,1320.7 1403.2,1318.8 1400.2,1315.6 1397.2,1315.4 1394.2,1313.5 1391.2,1310.1 1388.2,1303.8 1385.2,1301.7 1382.2,1300.8 1379.2,1294.7 1376.2,1289.9 1373.2,1295 1370.2,1277.9 1367.2,1275.4 1364.2,1273.6 1361.2,1271.9 1358.2,1261.2 1355.2,1269.8 1352.2,1277.3 1349.2,1263.1 1346.2,1264.8 1343.2,1268.8 1340.2,1288.5 1337.2,1286.4 1334.2,1283.3 1331.2,1276.8 1328.2,1267.4 1325.2,1273 1322.2,1278.7 1319.2,1268 1316.2,1284.6 1313.2,1320.2 1310.2,1354.1 1307.2,1381.2 1304.2,1395.2 1301.2,1363 1298.2,1331.6 1295.2,1303.4 1292.2,1295.7 1289.2,1299.4 1286.2,1305.3 1283.2,1302.3 1280.2,1309.5 1277.2,1315.3 1274.2,1304.5 1271.2,1302.7 1268.2,1298.4 1265.2,1299.6 1262.2,1298.6 1259.2,1294.2 1256.2,1288.3 1253.2,1293.5 1250.2,1285.3 1247.2,1282.3 1244.2,1269.5 1241.2,1268.7 1238.2,1293.8 1235.2,1322.1 1232.2,1351.2 1229.2,1370.6 1226.2,1375.3 1223.2,1373.6 1220.2,1372.7 1217.2,1368.1 1214.2,1374 1211.2,1389.1 1208.2,1333 1205.2,1254.6 1202.2,1308.7 1199.2,1353.6 1196.2,1329.2 1193.2,1344.8 1190.2,1354 1187.2,1321.2 1184.2,1297 1181.2,1278.5 1178.2,1304.1 1175.2,1316.4 1172.2,1308 1169.2,1299 1166.2,1295 1163.2,1298.1 1160.2,1295.6 1157.2,1295.7 1154.2,1289.5 1151.2,1280.3 1148.2,1286 1145.2,1294.7 1142.2,1292.1 1139.2,1288.7 1136.2,1279.7 1133.2,1273.2 1130.2,1266.1 1127.2,1292.1 1124.2,1310.7 1121.2,1321.8 1118.2,1334.1 1115.2,1337.3 1112.2,1357.8 1109.2,1391.3 1106.2,1392.8 1103.2,1354.1 1100.2,1377.4 1097.2,1382.8 1094.2,1387 1091.2,1391.6 1088.2,1399.9 1085.2,1368.8 1082.2,1334.8" fill="#f4a5ab" fill-opacity="0.8"/>
<polyline points="1082.2,1329.7 1085.2,1356.2 1088.2,1385.9 1091.2,1381.4 1094.2,1379.8 1097.2,1373.3 1100.2,1368.2 1103.2,1346.7 1106.2,1382.8 1109.2,1381.1 1112.2,1351.2 1115.2,1328 1118.2,1319.7 1121.2,1310.7 1124.2,1301.3 1127.2,1278.8 1130.2,1251.4 1133.2,1263.7 1136.2,1273.3 1139.2,1281.1 1142.2,1281.5 1145.2,1282.1 1148.2,1277.5 1151.2,1275.4 1154.2,1279.8 1157.2,1285.3 1160.2,1288.1 1163.2,1289.4 1166.2,1283.8 1169.2,1287.3 1172.2,1296.5 1175.2,1303.3 1178.2,1295.1 1181.2,1270.1 1184.2,1288.6 1187.2,1315.8 1190.2,1344.5 1193.2,1333.1 1196.2,1321.4 1199.2,1345.3 1202.2,1298 1205.2,1242.5 1208.2,1320.6 1211.2,1377.9 1214.2,1365.5 1217.2,1361.5 1220.2,1364.2 1223.2,1364.2 1226.2,1366 1229.2,1358.1 1232.2,1336.3 1235.2,1309.8 1238.2,1281.9 1241.2,1255 1244.2,1259.2 1247.2,1276.2 1250.2,1277.9 1253.2,1281.5 1256.2,1278.2 1259.2,1287.8 1262.2,1287.7 1265.2,1289.3 1268.2,1288.2 1271.2,1291.9 1274.2,1295.4 1277.2,1302 1280.2,1298.4 1283.2,1294 1286.2,1292.9 1289.2,1288.2 1292.2,1288.9 1295.2,1294.1 1298.2,1318.6 1301.2,1351.3 1304.2,1387.7 1307.2,1372.8 1310.2,1345.8 1313.2,1315.1 1316.2,1278 1319.2,1256.5 1322.2,1264.7 1325.2,1261.9 1328.2,1260.4 1331.2,1271.3 1334.2,1275.3 1337.2,1276.2 1340.2,1278.4 1343.2,1260.9 1346.2,1255.3 1349.2,1250.9 1352.2,1265.3 1355.2,1258.6 1358.2,1253.9 1361.2,1263.8 1364.2,1263.4 1367.2,1268.6 1370.2,1273.3 1373.2,1288.1 1376.2,1278.2 1379.2,1282.9 1382.2,1290.4 1385.2,1290.5 1388.2,1294.9 1391.2,1302.8 1394.2,1307.5 1397.2,1310.4 1400.2,1307.6 1403.2,1307.8 1406.2,1311.9 1409.2,1326.1 1412.2,1340.1 1415.2,1357.9 1418.2,1358.3 1421.2,1324 1424.2,1296.1 1427.2,1296.7 1430.2,1300.1 1433.2,1299.1 1436.2,1298.2 1439.2,1300 1442.2,1300.5 1445.2,1302.6 1448.2,1293.5 1451.2,1299.6 1454.2,1292.1 1457.2,1284.7 1460.2,1269.9 1463.2,1278.1 1466.2,1282.9 1469.2,1288.6 1472.2,1285.4 1475.2,1284 1478.2,1283.7 1481.2,1289.4 1484.2,1291.6 1487.2,1300.2 1490.2,1316.4 1493.2,1318.3 1496.2,1309.3 1499.2,1308.4 1502.2,1311.7 1505.2,1320.1 1508.2,1316.9 1511.2,1319 1514.2,1311.7 1517.2,1312.3 1520.2,1340.4 1523.2,1360.8 1526.2,1378.6 1529.2,1368.9 1532.2,1314.2 1535.2,1267.7 1538.2,1295.3 1541.2,1319.1 1544.2,1321.3 1547.2,1314 1550.2,1304.9 1553.2,1289.3 1556.2,1291.5 1559.2,1278.4 1562.2,1273.8 1565.2,1270.2 1568.2,1262.4 1571.2,1258.4 1574.2,1258.1 1577.2,1274.1 1580.2,1283.9 1583.2,1288.2 1586.2,1292.4 1589.2,1296.2 1592.2,1297.7 1595.2,1299.8 1598.2,1300.4 1601.2,1298.3 1604.2,1300.6 1607.2,1309.2 1610.2,1306.1 1613.2,1309.2 1616.2,1318.5 1619.2,1323.8 1622.2,1313.6 1625.2,1304.4 1628.2,1307.8 1631.2,1316.8 1634.2,1341.5 1637.2,1378.3 1640.2,1382.5 1643.2,1370.2 1646.2,1327.5 1649.2,1288.6 1652.2,1297.4 1655.2,1326 1658.2,1334.4 1661.2,1334.8 1664.2,1334.8 1667.2,1321.8 1670.2,1307.8 1673.2,1300.8 1676.2,1296 1679.2,1289.4 1682.2,1289.9 1685.2,1276.5 1688.2,1273.1 1691.2,1277.8 1694.2,1290.6 1697.2,1292.4 1700.2,1292.5 1703.2,1291.2 1706.2,1300.5 1709.2,1297.6 1712.2,1299.9 1715.2,1299.1 1718.2,1308.3 1721.2,1312.4 1724.2,1312.6 1727.2,1306.7 1730.2,1310.8 1733.2,1307.9 1736.2,1315.4 1739.2,1315.6 1742.2,1307.1 1745.2,1326.7 1748.2,1361.2 1751.2,1383.8 1754.2,1369.3 1757.2,1345.8 1760.2,1309.6 1763.2,1299.6 1766.2,1296.4 1769.2,1283.5 1772.2,1280.6 1775.2,1277.5 1778.2,1265.6 1781.2,1254.4 1784.2,1257.8 1787.2,1247.4 1790.2,1247.3 1793.2,1235.7 1796.2,1240.1 1799.2,1250 1802.2,1264.8 1805.2,1270.2 1808.2,1277.1 1811.2,1285.2 1814.2,1289.9 1817.2,1293.2 1820.2,1300.4 1823.2,1305.6 1826.2,1305 1829.2,1311.9 1832.2,1313.7 1835.2,1306.4 1838.2,1310.7 1841.2,1310.9 1844.2,1300.6 1847.2,1303.6 1850.2,1309.3 1853.2,1308.8 1856.2,1329 1859.2,1348.5 1862.2,1367.2 1865.2,1359.8 1868.2,1344.7 1871.2,1318.6 1874.2,1291.7 1877.2,1290.2 1880.2,1291.4 1883.2,1288.4 1886.2,1285.3 1889.2,1277.2 1892.2,1278.6 1895.2,1264.7 1898.2,1264 1901.2,1250.4 1904.2,1240.4 1907.2,1230.9 1910.2,1247.5 1913.2,1258.7 1916.2,1263.4 1919.2,1273.8 1922.2,1277.6 1925.2,1279.9 1928.2,1284.7 1931.2,1276.3 1934.2,1285 1937.2,1288.4 1940.2,1295.8 1943.2,1304.1 1946.2,1300 1949.2,1303.5 1952.2,1306.6 1955.2,1310.4 1958.2,1310.7 1961.2,1308.3 1964.2,1323.2 1967.2,1331.7 1970.2,1344.4 1973.2,1349.9 1976.2,1352.6 1979.2,1348.2 1982.2,1331.7 1985.2,1291.6 1988.2,1276.6 1991.2,1270.5 1994.2,1266.7 1997.2,1265.7 2000.2,1264.5 2003.2,1263.5 2006.2,1258.5 2009.2,1254 2012.2,1247.9 2015.2,1232.6 2018.2,1224.4 2021.2,1237.2 2024.2,1249.1 2027.2,1255.9 2030.2,1255 2033.2,1265.1 2036.2,1268.1 2039.2,1279.5 2042.2,1287.5 2045.2,1289 2048.2,1291.9 2051.2,1292.6 2054.2,1295.8 2057.2,1299.1 2060.2,1303.7 2063.2,1303.2 2066.2,1299.5 2069.2,1308 2072.2,1305.8 2075.2,1316.6 2078.2,1319.5 2081.2,1332.4 2084.2,1351.9 2087.2,1374.9 2090.2,1369.5 2093.2,1343.1" fill="none" stroke="#ee6e79" stroke-width="3.8" stroke-linejoin="round" />
<line x1="1079.5" y1="1163" x2="1079.5" y2="1492.9" stroke="#0a0a0a" stroke-width="4.2" stroke-linecap="butt" />
<line x1="1071.5" y1="1476.9" x2="1079.5" y2="1476.9" stroke="#0a0a0a" stroke-width="3" stroke-linecap="butt" />
<text x="1061.5" y="1487.2" font-size="29.3" text-anchor="end">0.000</text>
<line x1="1071.5" y1="1414.4" x2="1079.5" y2="1414.4" stroke="#0a0a0a" stroke-width="3" stroke-linecap="butt" />
<text x="1061.5" y="1424.7" font-size="29.3" text-anchor="end">0.005</text>
<line x1="1071.5" y1="1351.9" x2="1079.5" y2="1351.9" stroke="#0a0a0a" stroke-width="3" stroke-linecap="butt" />
<text x="1061.5" y="1362.2" font-size="29.3" text-anchor="end">0.010</text>
<line x1="1071.5" y1="1289.5" x2="1079.5" y2="1289.5" stroke="#0a0a0a" stroke-width="3" stroke-linecap="butt" />
<text x="1061.5" y="1299.8" font-size="29.3" text-anchor="end">0.015</text>
<line x1="1071.5" y1="1227" x2="1079.5" y2="1227" stroke="#0a0a0a" stroke-width="3" stroke-linecap="butt" />
<text x="1061.5" y="1237.3" font-size="29.3" text-anchor="end">0.020</text>
<line x1="1071.5" y1="1164.5" x2="1079.5" y2="1164.5" stroke="#0a0a0a" stroke-width="3" stroke-linecap="butt" />
<text x="1061.5" y="1174.8" font-size="29.3" text-anchor="end">0.025</text>
<rect x="1077.5" y="1475.4" width="1019" height="18.5" fill="#0a0a0a" />
<rect x="1082" y="1482.4" width="42.8" height="8" fill="#ffffff" />
<rect x="1127.9" y="1482.4" width="52.7" height="8" fill="#2c2b2d" />
<rect x="1184.9" y="1482.4" width="51" height="8" fill="#ffffff" />
<rect x="1240.1" y="1482.4" width="52.7" height="8" fill="#2c2b2d" />
<rect x="1297.1" y="1482.4" width="51" height="8" fill="#ffffff" />
<rect x="1352.2" y="1482.4" width="52.7" height="8" fill="#2c2b2d" />
<rect x="1409.2" y="1482.4" width="51" height="8" fill="#ffffff" />
<rect x="1464.4" y="1482.4" width="52.7" height="8" fill="#2c2b2d" />
<rect x="1521.4" y="1482.4" width="51" height="8" fill="#ffffff" />
<rect x="1576.5" y="1482.4" width="52.7" height="8" fill="#2c2b2d" />
<rect x="1633.5" y="1482.4" width="51" height="8" fill="#ffffff" />
<rect x="1688.7" y="1482.4" width="52.7" height="8" fill="#2c2b2d" />
<rect x="1745.7" y="1482.4" width="51" height="8" fill="#ffffff" />
<rect x="1800.8" y="1482.4" width="52.7" height="8" fill="#2c2b2d" />
<rect x="1857.8" y="1482.4" width="51" height="8" fill="#ffffff" />
<rect x="1913" y="1482.4" width="52.7" height="8" fill="#2c2b2d" />
<rect x="1970" y="1482.4" width="51" height="8" fill="#ffffff" />
<rect x="2025.1" y="1482.4" width="52.7" height="8" fill="#2c2b2d" />
<rect x="2082.1" y="1482.4" width="10.9" height="8" fill="#ffffff" />
<line x1="1123" y1="1502" x2="1234" y2="1502" stroke="#0a0a0a" stroke-width="3.3" stroke-linecap="round" />
<text x="1178.5" y="1529.5" font-size="28" text-anchor="middle" letter-spacing="-0.8">24 hours</text>
<text x="1608" y="1548" font-size="29" text-anchor="middle">Time (days)</text>
<text x="1608" y="1118.5" font-size="36" text-anchor="middle">Movement</text>
<line x1="1311" y1="1194.9" x2="2096" y2="1194.9" stroke="#0a0a0a" stroke-width="3.3" stroke-linecap="round" />
<text x="1724.5" y="1185.8" font-size="29" text-anchor="middle"><tspan font-style="italic">P</tspan> = 0.299</text>
<text x="972" y="1318" font-size="29" text-anchor="middle" transform="rotate(-90 972 1318)">Movement (m/s)</text>
<polygon points="1203,1425.8 1196.5,1434.8 1209.5,1434.8" fill="#0a0a0a"/>
<line x1="1203" y1="1433.8" x2="1203" y2="1441.3" stroke="#0a0a0a" stroke-width="3.3" stroke-linecap="butt" />
<polygon points="1309.2,1425.8 1302.7,1434.8 1315.7,1434.8" fill="#0a0a0a"/>
<line x1="1309.2" y1="1433.8" x2="1309.2" y2="1441.3" stroke="#0a0a0a" stroke-width="3.3" stroke-linecap="butt" />
<polygon points="1421.3,1425.8 1414.8,1434.8 1427.8,1434.8" fill="#0a0a0a"/>
<line x1="1421.3" y1="1433.8" x2="1421.3" y2="1441.3" stroke="#0a0a0a" stroke-width="3.3" stroke-linecap="butt" />
<polygon points="1533.5,1425.8 1527,1434.8 1540,1434.8" fill="#0a0a0a"/>
<line x1="1533.5" y1="1433.8" x2="1533.5" y2="1441.3" stroke="#0a0a0a" stroke-width="3.3" stroke-linecap="butt" />
<polygon points="1645.6,1425.8 1639.1,1434.8 1652.1,1434.8" fill="#0a0a0a"/>
<line x1="1645.6" y1="1433.8" x2="1645.6" y2="1441.3" stroke="#0a0a0a" stroke-width="3.3" stroke-linecap="butt" />
<polygon points="1757.7,1425.8 1751.2,1434.8 1764.2,1434.8" fill="#0a0a0a"/>
<line x1="1757.7" y1="1433.8" x2="1757.7" y2="1441.3" stroke="#0a0a0a" stroke-width="3.3" stroke-linecap="butt" />
<polygon points="1869.8,1425.8 1863.3,1434.8 1876.3,1434.8" fill="#0a0a0a"/>
<line x1="1869.8" y1="1433.8" x2="1869.8" y2="1441.3" stroke="#0a0a0a" stroke-width="3.3" stroke-linecap="butt" />
<polygon points="1982,1425.8 1975.5,1434.8 1988.5,1434.8" fill="#0a0a0a"/>
<line x1="1982" y1="1433.8" x2="1982" y2="1441.3" stroke="#0a0a0a" stroke-width="3.3" stroke-linecap="butt" />
<text x="1203" y="1466" font-size="29" text-anchor="middle">Saline</text>
<text x="1313" y="1466" font-size="29" text-anchor="middle">Drug</text>
<line x1="1092" y1="1168.6" x2="1115" y2="1168.6" stroke="#a7a9ac" stroke-width="7" stroke-linecap="round" />
<text x="1118.5" y="1179.6" font-size="29">CL</text>
<line x1="1092" y1="1197" x2="1115" y2="1197" stroke="#ee6e79" stroke-width="7" stroke-linecap="round" />
<text x="1118.5" y="1207.8" font-size="29">CL+DCZ</text>
<text x="1080.3" y="1144.5" font-size="28.5"><tspan font-style="italic">hM3Dq</tspan><tspan font-size="17.7" dy="-11.4">AdipoqCre</tspan><tspan dy="11.4">:</tspan><tspan font-style="italic">Ckb</tspan><tspan font-size="17.7" dy="-11.4">+/+</tspan></text>
<text x="946.2" y="1604.6" font-size="69.1" font-weight="bold" fill="#231f20">r</text>
<polygon points="1081.4,1799.7 1084.4,1805.8 1087.4,1817.5 1090.4,1826.9 1093.4,1836.7 1096.4,1841.3 1099.4,1854.1 1102.4,1853.8 1105.4,1836.6 1108.4,1832.8 1111.4,1844.9 1114.4,1853.9 1117.4,1832 1120.4,1810.5 1123.4,1797 1126.4,1749.2 1129.4,1713.7 1132.4,1732.3 1135.4,1737.3 1138.4,1745.8 1141.4,1749.3 1144.4,1759.6 1147.4,1756.8 1150.4,1743.7 1153.4,1746.7 1156.4,1748.8 1159.4,1755.1 1162.4,1765 1165.4,1778.2 1168.4,1770.7 1171.4,1765.8 1174.4,1757.3 1177.4,1755.6 1180.4,1748.2 1183.4,1755.2 1186.4,1785.2 1189.4,1849 1192.4,1758.9 1195.4,1746 1198.4,1742.8 1201.4,1746.8 1204.4,1755.7 1207.4,1782.1 1210.4,1795.5 1213.4,1814.9 1216.4,1882.3 1219.4,1869.1 1222.4,1855.6 1225.4,1841.3 1228.4,1839.5 1231.4,1849.4 1234.4,1813.2 1237.4,1764.3 1240.4,1747.3 1243.4,1740.9 1246.4,1758 1249.4,1752.3 1252.4,1748.9 1255.4,1744.2 1258.4,1745.9 1261.4,1760.7 1264.4,1757.1 1267.4,1758.3 1270.4,1761.8 1273.4,1748.1 1276.4,1760.8 1279.4,1767.5 1282.4,1762.2 1285.4,1759.3 1288.4,1755.1 1291.4,1740.1 1294.4,1744.2 1297.4,1748 1300.4,1748.3 1303.4,1767.2 1306.4,1763.6 1309.4,1774.1 1312.4,1751.4 1315.4,1743.6 1318.4,1737.5 1321.4,1747.7 1324.4,1743.9 1327.4,1744.3 1330.4,1742.4 1333.4,1741.7 1336.4,1750 1339.4,1759.8 1342.4,1760.4 1345.4,1751.9 1348.4,1761.8 1351.4,1752.6 1354.4,1759.3 1357.4,1763.7 1360.4,1768.3 1363.4,1769.6 1366.4,1773.4 1369.4,1768.1 1372.4,1767.6 1375.4,1772.4 1378.4,1781.1 1381.4,1786.3 1384.4,1777.1 1387.4,1784.6 1390.4,1783.3 1393.4,1791.6 1396.4,1773.5 1399.4,1777.9 1402.4,1772.9 1405.4,1777.1 1408.4,1773.4 1411.4,1792.5 1414.4,1817.4 1417.4,1818 1420.4,1831 1423.4,1801.3 1426.4,1769 1429.4,1797.8 1432.4,1814.9 1435.4,1808.5 1438.4,1798.6 1441.4,1789 1444.4,1788.7 1447.4,1787.7 1450.4,1780.7 1453.4,1778.7 1456.4,1767.5 1459.4,1754 1462.4,1756.1 1465.4,1762.7 1468.4,1772.7 1471.4,1770.5 1474.4,1772.4 1477.4,1775.2 1480.4,1779.9 1483.4,1771.4 1486.4,1780.1 1489.4,1782.6 1492.4,1786.6 1495.4,1786.5 1498.4,1794.6 1501.4,1798 1504.4,1797.9 1507.4,1786.5 1510.4,1782.8 1513.4,1777.4 1516.4,1782.6 1519.4,1801.6 1522.4,1807 1525.4,1810.8 1528.4,1821.5 1531.4,1829.3 1534.4,1798 1537.4,1762.6 1540.4,1777.2 1543.4,1779.2 1546.4,1776.6 1549.4,1759.6 1552.4,1758.4 1555.4,1757.8 1558.4,1757.5 1561.4,1757.4 1564.4,1762.8 1567.4,1750.9 1570.4,1751.1 1573.4,1759.7 1576.4,1757.6 1579.4,1766.3 1582.4,1767 1585.4,1771.6 1588.4,1776.9 1591.4,1782.7 1594.4,1782.6 1597.4,1781.2 1600.4,1779.5 1603.4,1784.1 1606.4,1787.7 1609.4,1791.2 1612.4,1789.2 1615.4,1797.5 1618.4,1795.7 1621.4,1791.5 1624.4,1797.7 1627.4,1789.2 1630.4,1803.4 1633.4,1800.5 1636.4,1816.7 1639.4,1823.4 1642.4,1837 1645.4,1797.4 1648.4,1761.5 1651.4,1753.5 1654.4,1751.7 1657.4,1753.2 1660.4,1761.1 1663.4,1758.1 1666.4,1753.9 1669.4,1757.3 1672.4,1766.4 1675.4,1755.3 1678.4,1749.6 1681.4,1757.5 1684.4,1754.9 1687.4,1759.2 1690.4,1767.1 1693.4,1772.8 1696.4,1772 1699.4,1766.3 1702.4,1767 1705.4,1767.3 1708.4,1771.4 1711.4,1769.1 1714.4,1777.1 1717.4,1772.6 1720.4,1775.3 1723.4,1771.1 1726.4,1770.4 1729.4,1764.8 1732.4,1770.1 1735.4,1778.2 1738.4,1790.7 1741.4,1796.8 1744.4,1815 1747.4,1824.6 1750.4,1825.3 1753.4,1831.6 1756.4,1790.6 1759.4,1760.8 1762.4,1774.3 1765.4,1786.2 1768.4,1781.7 1771.4,1771.5 1774.4,1772.6 1777.4,1766.9 1780.4,1756.3 1783.4,1746.3 1786.4,1752 1789.4,1748.4 1792.4,1752.2 1795.4,1749.6 1798.4,1757.9 1801.4,1763.9 1804.4,1764.1 1807.4,1771 1810.4,1766.2 1813.4,1772.3 1816.4,1772.9 1819.4,1774.7 1822.4,1776 1825.4,1775.5 1828.4,1780 1831.4,1791.6 1834.4,1793.1 1837.4,1791.3 1840.4,1790.5 1843.4,1797 1846.4,1786.7 1849.4,1786.4 1852.4,1783.3 1855.4,1798 1858.4,1810.7 1861.4,1827 1864.4,1827 1867.4,1815.6 1870.4,1785.8 1873.4,1762.5 1876.4,1763.6 1879.4,1775.9 1882.4,1762.5 1885.4,1759.3 1888.4,1760.7 1891.4,1759 1894.4,1754.1 1897.4,1745.5 1900.4,1741.1 1903.4,1741.7 1906.4,1747.3 1909.4,1754.7 1912.4,1760.9 1915.4,1760.8 1918.4,1767.3 1921.4,1761.2 1924.4,1767.4 1927.4,1774.3 1930.4,1771.4 1933.4,1769.3 1936.4,1770.1 1939.4,1784.9 1942.4,1784.8 1945.4,1789.7 1948.4,1789.6 1951.4,1798.9 1954.4,1794.3 1957.4,1793.6 1960.4,1791.3 1963.4,1805.1 1966.4,1818.9 1969.4,1827.2 1972.4,1824.8 1975.4,1821.5 1978.4,1790.2 1981.4,1756.6 1984.4,1763.5 1987.4,1768.2 1990.4,1776.6 1993.4,1778.8 1996.4,1780.5 1999.4,1767.2 2002.4,1762.5 2005.4,1770.9 2008.4,1758.4 2011.4,1756.1 2014.4,1754.3 2017.4,1741.3 2020.4,1740 2023.4,1754.1 2026.4,1751 2029.4,1765.2 2032.4,1766 2035.4,1767.2 2038.4,1766.1 2041.4,1776.7 2044.4,1778.6 2047.4,1780.8 2050.4,1781.3 2053.4,1783.1 2056.4,1795.5 2059.4,1795.9 2062.4,1800.1 2065.4,1791.7 2068.4,1791.7 2071.4,1789.1 2074.4,1794.1 2077.4,1804.7 2080.4,1813.4 2083.4,1821.5 2086.4,1837.2 2086.4,1844.8 2083.4,1833.2 2080.4,1830.2 2077.4,1823 2074.4,1811.6 2071.4,1801.8 2068.4,1804.2 2065.4,1804.4 2062.4,1816.5 2059.4,1810.9 2056.4,1815 2053.4,1800.1 2050.4,1799.4 2047.4,1794.4 2044.4,1791.2 2041.4,1792 2038.4,1782.6 2035.4,1782.5 2032.4,1781.4 2029.4,1781.5 2026.4,1772.8 2023.4,1777.5 2020.4,1761.8 2017.4,1759.2 2014.4,1767.7 2011.4,1773 2008.4,1776.6 2005.4,1787.7 2002.4,1774.4 1999.4,1778.5 1996.4,1797.3 1993.4,1801.3 1990.4,1798.3 1987.4,1786.5 1984.4,1778.4 1981.4,1775.4 1978.4,1813.5 1975.4,1845.5 1972.4,1845.7 1969.4,1842.8 1966.4,1837.4 1963.4,1822.4 1960.4,1812.3 1957.4,1808.8 1954.4,1807.6 1951.4,1811.7 1948.4,1808.9 1945.4,1810.2 1942.4,1803.5 1939.4,1797.6 1936.4,1786.9 1933.4,1789.8 1930.4,1792.2 1927.4,1791.9 1924.4,1782.8 1921.4,1780.3 1918.4,1786.3 1915.4,1776.5 1912.4,1777.1 1909.4,1773.1 1906.4,1767.9 1903.4,1763.3 1900.4,1758.6 1897.4,1763.3 1894.4,1766.5 1891.4,1776.8 1888.4,1779.6 1885.4,1783.8 1882.4,1787.1 1879.4,1799.9 1876.4,1782.8 1873.4,1781.4 1870.4,1803.2 1867.4,1833.5 1864.4,1841.6 1861.4,1843.2 1858.4,1826.6 1855.4,1816.8 1852.4,1803.8 1849.4,1808.9 1846.4,1804.3 1843.4,1815.1 1840.4,1810.7 1837.4,1813.4 1834.4,1809.2 1831.4,1806.8 1828.4,1799.3 1825.4,1801 1822.4,1796.9 1819.4,1795.6 1816.4,1792.2 1813.4,1792.2 1810.4,1783 1807.4,1783.9 1804.4,1782 1801.4,1780.4 1798.4,1779.8 1795.4,1767.6 1792.4,1772.3 1789.4,1765.5 1786.4,1770.6 1783.4,1765.9 1780.4,1777.9 1777.4,1786.1 1774.4,1788.1 1771.4,1787.9 1768.4,1803.4 1765.4,1811.2 1762.4,1797.1 1759.4,1778.2 1756.4,1809 1753.4,1848.8 1750.4,1844.4 1747.4,1841.6 1744.4,1830.4 1741.4,1814.9 1738.4,1812.1 1735.4,1804.1 1732.4,1795.8 1729.4,1791 1726.4,1797.4 1723.4,1798.3 1720.4,1798.1 1717.4,1792.1 1714.4,1795.5 1711.4,1791.1 1708.4,1793.2 1705.4,1788.6 1702.4,1784.7 1699.4,1782.5 1696.4,1786.1 1693.4,1784.5 1690.4,1783.6 1687.4,1777.9 1684.4,1776.3 1681.4,1778.6 1678.4,1770.8 1675.4,1777.2 1672.4,1785 1669.4,1777.2 1666.4,1770.6 1663.4,1776.5 1660.4,1780 1657.4,1774.3 1654.4,1773.2 1651.4,1771 1648.4,1777.6 1645.4,1810.6 1642.4,1850.5 1639.4,1842.7 1636.4,1836.8 1633.4,1821.5 1630.4,1818.8 1627.4,1807.7 1624.4,1817.4 1621.4,1814.1 1618.4,1814.1 1615.4,1815.7 1612.4,1809.8 1609.4,1811.7 1606.4,1810.5 1603.4,1806.7 1600.4,1804.5 1597.4,1802.1 1594.4,1800.6 1591.4,1802.1 1588.4,1797.9 1585.4,1795.5 1582.4,1792.3 1579.4,1792.3 1576.4,1782.2 1573.4,1779.4 1570.4,1771.2 1567.4,1767.5 1564.4,1782.3 1561.4,1774.8 1558.4,1778.2 1555.4,1778.2 1552.4,1778.4 1549.4,1778.6 1546.4,1791.5 1543.4,1797.8 1540.4,1798.9 1537.4,1787.4 1534.4,1820.5 1531.4,1850.9 1528.4,1840.8 1525.4,1828.1 1522.4,1819.7 1519.4,1817.9 1516.4,1803.3 1513.4,1803.6 1510.4,1806.8 1507.4,1809.4 1504.4,1815.9 1501.4,1814 1498.4,1807.5 1495.4,1800.5 1492.4,1803.8 1489.4,1802.5 1486.4,1799.5 1483.4,1791 1480.4,1798.3 1477.4,1798.1 1474.4,1794.5 1471.4,1789.9 1468.4,1790.9 1465.4,1784 1462.4,1782.4 1459.4,1778.2 1456.4,1789.6 1453.4,1799.4 1450.4,1802.9 1447.4,1807.3 1444.4,1810.2 1441.4,1811.9 1438.4,1821.5 1435.4,1824.8 1432.4,1827.9 1429.4,1808.7 1426.4,1786.3 1423.4,1819.5 1420.4,1852.3 1417.4,1839 1414.4,1836.3 1411.4,1813.4 1408.4,1792.1 1405.4,1801.1 1402.4,1794.5 1399.4,1802 1396.4,1794 1393.4,1809.6 1390.4,1797.3 1387.4,1798.9 1384.4,1793.8 1381.4,1802.3 1378.4,1795.9 1375.4,1790.9 1372.4,1788.1 1369.4,1786.8 1366.4,1786 1363.4,1782.7 1360.4,1784.8 1357.4,1785.3 1354.4,1782.3 1351.4,1775.3 1348.4,1783.2 1345.4,1769.9 1342.4,1777.4 1339.4,1777.3 1336.4,1768.2 1333.4,1763.9 1330.4,1762.8 1327.4,1762.8 1324.4,1756.1 1321.4,1762.4 1318.4,1753.8 1315.4,1762.8 1312.4,1769.5 1309.4,1789 1306.4,1781.3 1303.4,1782 1300.4,1767 1297.4,1762.6 1294.4,1762.7 1291.4,1755.6 1288.4,1771.8 1285.4,1778.2 1282.4,1780.9 1279.4,1789.8 1276.4,1777.1 1273.4,1770.2 1270.4,1782.6 1267.4,1781.4 1264.4,1777.1 1261.4,1780.8 1258.4,1763.8 1255.4,1759.4 1252.4,1761 1249.4,1768 1246.4,1777.4 1243.4,1764.7 1240.4,1769.7 1237.4,1786.4 1234.4,1834.3 1231.4,1868.8 1228.4,1857.2 1225.4,1859.2 1222.4,1876.2 1219.4,1889.6 1216.4,1897.9 1213.4,1829.9 1210.4,1809.8 1207.4,1797.7 1204.4,1771.9 1201.4,1763.1 1198.4,1763 1195.4,1766 1192.4,1784 1189.4,1873.9 1186.4,1808.5 1183.4,1773 1180.4,1766.3 1177.4,1774.4 1174.4,1780.7 1171.4,1783.6 1168.4,1788.7 1165.4,1796.6 1162.4,1788.1 1159.4,1774.6 1156.4,1764.5 1153.4,1757.6 1150.4,1757.3 1147.4,1771.6 1144.4,1775 1141.4,1763.5 1138.4,1761.5 1135.4,1758.9 1132.4,1753.7 1129.4,1736.7 1126.4,1767.4 1123.4,1815.5 1120.4,1828.4 1117.4,1848.1 1114.4,1874.1 1111.4,1863.5 1108.4,1855.7 1105.4,1855.9 1102.4,1872.8 1099.4,1869.2 1096.4,1860.1 1093.4,1853.1 1090.4,1844.1 1087.4,1831.1 1084.4,1820.7 1081.4,1810.3" fill="#8f9093" fill-opacity="0.8"/>
<polygon points="1081.4,1798.3 1084.4,1807.6 1087.4,1818 1090.4,1829.3 1093.4,1837.2 1096.4,1842.4 1099.4,1855.6 1102.4,1851.8 1105.4,1838.6 1108.4,1833.2 1111.4,1841.7 1114.4,1859.8 1117.4,1837.1 1120.4,1811.1 1123.4,1787.1 1126.4,1747.4 1129.4,1724.8 1132.4,1735.1 1135.4,1740.1 1138.4,1747.9 1141.4,1748.8 1144.4,1747.6 1147.4,1746.7 1150.4,1737.7 1153.4,1739.5 1156.4,1743.9 1159.4,1754 1162.4,1763.7 1165.4,1777.6 1168.4,1773.5 1171.4,1760.5 1174.4,1762.9 1177.4,1762.9 1180.4,1743.7 1183.4,1753 1186.4,1765.7 1189.4,1802.9 1192.4,1762 1195.4,1754.4 1198.4,1744.4 1201.4,1748.4 1204.4,1752.4 1207.4,1780.9 1210.4,1788.7 1213.4,1804.7 1216.4,1858 1219.4,1856.4 1222.4,1857.8 1225.4,1848.3 1228.4,1841.2 1231.4,1844.4 1234.4,1803.3 1237.4,1767.4 1240.4,1751.7 1243.4,1743.1 1246.4,1748.3 1249.4,1753.5 1252.4,1749 1255.4,1741.5 1258.4,1748.4 1261.4,1749.9 1264.4,1760.8 1267.4,1756.3 1270.4,1754 1273.4,1754.5 1276.4,1755.8 1279.4,1774.1 1282.4,1765.7 1285.4,1762.3 1288.4,1752.8 1291.4,1735.6 1294.4,1741.9 1297.4,1747.1 1300.4,1755.6 1303.4,1758.2 1306.4,1761.6 1309.4,1776.8 1312.4,1758.2 1315.4,1748.7 1318.4,1745.7 1321.4,1752.3 1324.4,1767.3 1327.4,1776.2 1330.4,1781 1333.4,1795.8 1336.4,1799.6 1339.4,1798.4 1342.4,1797 1345.4,1799 1348.4,1793.1 1351.4,1779 1354.4,1772.6 1357.4,1767.8 1360.4,1768.5 1363.4,1763.3 1366.4,1769.7 1369.4,1778 1372.4,1777.7 1375.4,1774.3 1378.4,1778.5 1381.4,1771.5 1384.4,1776.3 1387.4,1778.9 1390.4,1789.6 1393.4,1784.1 1396.4,1778.2 1399.4,1774 1402.4,1777.8 1405.4,1774.1 1408.4,1772.6 1411.4,1803.3 1414.4,1818.6 1417.4,1827.7 1420.4,1833 1423.4,1795.4 1426.4,1768.1 1429.4,1756.9 1432.4,1768.1 1435.4,1762.5 1438.4,1763.8 1441.4,1771.5 1444.4,1776.9 1447.4,1789 1450.4,1775.8 1453.4,1776.6 1456.4,1768.7 1459.4,1754.7 1462.4,1753.9 1465.4,1769 1468.4,1766.2 1471.4,1766.4 1474.4,1780.7 1477.4,1786.2 1480.4,1777.8 1483.4,1781.1 1486.4,1779.2 1489.4,1780.4 1492.4,1777.6 1495.4,1788.5 1498.4,1794 1501.4,1795.1 1504.4,1793.5 1507.4,1789.7 1510.4,1783.4 1513.4,1779.3 1516.4,1789.8 1519.4,1796.4 1522.4,1812.7 1525.4,1817.1 1528.4,1819.2 1531.4,1830 1534.4,1798.7 1537.4,1765.9 1540.4,1776 1543.4,1787.8 1546.4,1792.5 1549.4,1791.2 1552.4,1787.6 1555.4,1793.7 1558.4,1789.8 1561.4,1794.3 1564.4,1795.8 1567.4,1805.2 1570.4,1779.4 1573.4,1766.9 1576.4,1770.1 1579.4,1771.4 1582.4,1774.9 1585.4,1774.8 1588.4,1779.3 1591.4,1778.9 1594.4,1780.7 1597.4,1780.1 1600.4,1781.4 1603.4,1785.7 1606.4,1786.1 1609.4,1786 1612.4,1794.7 1615.4,1797.6 1618.4,1799.7 1621.4,1802.8 1624.4,1796.6 1627.4,1795 1630.4,1796.4 1633.4,1804.1 1636.4,1814.6 1639.4,1833.3 1642.4,1831.1 1645.4,1787.9 1648.4,1754.5 1651.4,1752.3 1654.4,1754.6 1657.4,1755.3 1660.4,1756.6 1663.4,1753.3 1666.4,1752.4 1669.4,1756 1672.4,1760 1675.4,1759.1 1678.4,1745.8 1681.4,1751.1 1684.4,1754.9 1687.4,1754.7 1690.4,1760.7 1693.4,1772.2 1696.4,1764.5 1699.4,1762 1702.4,1767.9 1705.4,1763.6 1708.4,1770.2 1711.4,1770.5 1714.4,1770 1717.4,1773.8 1720.4,1775.8 1723.4,1774.4 1726.4,1770.3 1729.4,1766.1 1732.4,1773 1735.4,1772.9 1738.4,1782.8 1741.4,1802.5 1744.4,1805.8 1747.4,1811 1750.4,1827.9 1753.4,1833.6 1756.4,1789.3 1759.4,1761.6 1762.4,1783.1 1765.4,1787.6 1768.4,1777.6 1771.4,1768.2 1774.4,1765.4 1777.4,1764.6 1780.4,1759 1783.4,1753.5 1786.4,1749.4 1789.4,1751 1792.4,1753 1795.4,1757.3 1798.4,1755.8 1801.4,1763.1 1804.4,1761.9 1807.4,1764 1810.4,1757.9 1813.4,1767.4 1816.4,1766.3 1819.4,1767.4 1822.4,1776.4 1825.4,1779.7 1828.4,1785 1831.4,1779.9 1834.4,1796.3 1837.4,1789.7 1840.4,1793.2 1843.4,1787.2 1846.4,1801.1 1849.4,1785.3 1852.4,1780 1855.4,1796.6 1858.4,1809.2 1861.4,1831.3 1864.4,1828.5 1867.4,1812.3 1870.4,1773.3 1873.4,1754.7 1876.4,1768.5 1879.4,1784.8 1882.4,1778.7 1885.4,1778.3 1888.4,1775.7 1891.4,1772.1 1894.4,1774.6 1897.4,1773.9 1900.4,1767.1 1903.4,1761.6 1906.4,1760 1909.4,1753.7 1912.4,1755.4 1915.4,1759.4 1918.4,1759 1921.4,1761.6 1924.4,1765.6 1927.4,1768.5 1930.4,1764.8 1933.4,1769.7 1936.4,1775.3 1939.4,1781.1 1942.4,1780 1945.4,1791.3 1948.4,1796 1951.4,1787.8 1954.4,1786.2 1957.4,1790.1 1960.4,1798.8 1963.4,1802.9 1966.4,1811.9 1969.4,1824.3 1972.4,1829 1975.4,1826.8 1978.4,1787.9 1981.4,1747.1 1984.4,1749.6 1987.4,1752.7 1990.4,1755 1993.4,1752.3 1996.4,1759.5 1999.4,1762.4 2002.4,1763.1 2005.4,1759.6 2008.4,1754.7 2011.4,1759.9 2014.4,1748.7 2017.4,1748.5 2020.4,1748.4 2023.4,1754.3 2026.4,1760.6 2029.4,1767.4 2032.4,1768.3 2035.4,1776 2038.4,1774.8 2041.4,1774.1 2044.4,1782.7 2047.4,1779.9 2050.4,1781.9 2053.4,1782.8 2056.4,1790.5 2059.4,1799.9 2062.4,1797.1 2065.4,1784.6 2068.4,1788.9 2071.4,1787.8 2074.4,1783.8 2077.4,1798.2 2080.4,1808.8 2083.4,1827 2086.4,1833.1 2086.4,1843.2 2083.4,1842.7 2080.4,1825.9 2077.4,1819.4 2074.4,1805.3 2071.4,1805.1 2068.4,1808.9 2065.4,1805 2062.4,1821.4 2059.4,1822.2 2056.4,1816.4 2053.4,1807.5 2050.4,1803.2 2047.4,1794.8 2044.4,1794.6 2041.4,1785.4 2038.4,1785.9 2035.4,1791.8 2032.4,1782.7 2029.4,1782.2 2026.4,1776.1 2023.4,1769.8 2020.4,1766.6 2017.4,1765 2014.4,1771 2011.4,1784.8 2008.4,1777.1 2005.4,1779.6 2002.4,1784.2 1999.4,1788.8 1996.4,1789.3 1993.4,1776.1 1990.4,1779.6 1987.4,1777.3 1984.4,1775.8 1981.4,1770.2 1978.4,1807.4 1975.4,1844.6 1972.4,1847.9 1969.4,1847.5 1966.4,1838.4 1963.4,1827.6 1960.4,1818.5 1957.4,1811.9 1954.4,1806 1951.4,1807.6 1948.4,1815.8 1945.4,1813.2 1942.4,1804.8 1939.4,1801.7 1936.4,1792.7 1933.4,1787.7 1930.4,1787.3 1927.4,1791.1 1924.4,1786.2 1921.4,1780 1918.4,1782.6 1915.4,1786 1912.4,1780.1 1909.4,1778.9 1906.4,1784.3 1903.4,1783.5 1900.4,1787 1897.4,1791 1894.4,1796.4 1891.4,1792 1888.4,1796.6 1885.4,1797.2 1882.4,1796.9 1879.4,1800.7 1876.4,1785 1873.4,1776.7 1870.4,1793.5 1867.4,1832.9 1864.4,1847.6 1861.4,1850.3 1858.4,1831.5 1855.4,1815.7 1852.4,1799.2 1849.4,1802.8 1846.4,1815.8 1843.4,1807.6 1840.4,1808.7 1837.4,1806.1 1834.4,1813.8 1831.4,1802.7 1828.4,1808.1 1825.4,1800.7 1822.4,1793.9 1819.4,1790.1 1816.4,1790.3 1813.4,1796.6 1810.4,1784.9 1807.4,1786.7 1804.4,1779.2 1801.4,1779.8 1798.4,1772.4 1795.4,1775 1792.4,1768 1789.4,1771.1 1786.4,1770.7 1783.4,1781.4 1780.4,1784.3 1777.4,1793 1774.4,1789 1771.4,1792.3 1768.4,1800.4 1765.4,1813.2 1762.4,1808.5 1759.4,1784.9 1756.4,1811.2 1753.4,1856.4 1750.4,1852.8 1747.4,1839.3 1744.4,1833.5 1741.4,1830.6 1738.4,1809 1735.4,1799.4 1732.4,1798.3 1729.4,1790.8 1726.4,1792.5 1723.4,1797.1 1720.4,1801.2 1717.4,1803.8 1714.4,1800.8 1711.4,1795.5 1708.4,1791.7 1705.4,1784.4 1702.4,1788.9 1699.4,1780.4 1696.4,1783.5 1693.4,1791.6 1690.4,1781.1 1687.4,1773.6 1684.4,1779.3 1681.4,1776.7 1678.4,1767.8 1675.4,1779.7 1672.4,1781.9 1669.4,1779.6 1666.4,1770.6 1663.4,1770.4 1660.4,1776.9 1657.4,1778.7 1654.4,1781.8 1651.4,1776.9 1648.4,1781.1 1645.4,1810.1 1642.4,1853.1 1639.4,1849.8 1636.4,1834 1633.4,1823.1 1630.4,1817.4 1627.4,1810.2 1624.4,1809.8 1621.4,1813.3 1618.4,1814.7 1615.4,1814.8 1612.4,1815.1 1609.4,1804.4 1606.4,1805.5 1603.4,1804 1600.4,1800.6 1597.4,1800.1 1594.4,1799.7 1591.4,1801.7 1588.4,1798.2 1585.4,1792.7 1582.4,1785.8 1579.4,1783.3 1576.4,1785.6 1573.4,1785.3 1570.4,1797.6 1567.4,1820.6 1564.4,1810.4 1561.4,1812.1 1558.4,1807.8 1555.4,1812.1 1552.4,1807.5 1549.4,1812.6 1546.4,1812.8 1543.4,1804.4 1540.4,1795.8 1537.4,1789.8 1534.4,1822.9 1531.4,1855.3 1528.4,1841.3 1525.4,1838 1522.4,1829.1 1519.4,1817.8 1516.4,1810.9 1513.4,1802.5 1510.4,1801.4 1507.4,1805.8 1504.4,1811.5 1501.4,1812.5 1498.4,1818 1495.4,1810 1492.4,1800.4 1489.4,1803.6 1486.4,1802.5 1483.4,1802.1 1480.4,1793.9 1477.4,1799.8 1474.4,1801.2 1471.4,1788.8 1468.4,1791.7 1465.4,1788.1 1462.4,1776.4 1459.4,1779.4 1456.4,1798.1 1453.4,1799.7 1450.4,1798.1 1447.4,1808.1 1444.4,1799.9 1441.4,1792.5 1438.4,1785.5 1435.4,1779.5 1432.4,1785.6 1429.4,1772.8 1426.4,1784.5 1423.4,1809.2 1420.4,1846.1 1417.4,1841 1414.4,1831.8 1411.4,1817.9 1408.4,1787.8 1405.4,1794.9 1402.4,1796.2 1399.4,1798.2 1396.4,1798.6 1393.4,1808.3 1390.4,1807.3 1387.4,1800.1 1384.4,1801.1 1381.4,1798.7 1378.4,1800.7 1375.4,1791.5 1372.4,1793.6 1369.4,1797.6 1366.4,1790 1363.4,1785.7 1360.4,1786.3 1357.4,1786 1354.4,1786.8 1351.4,1794 1348.4,1810.3 1345.4,1823.2 1342.4,1822 1339.4,1820.9 1336.4,1820.5 1333.4,1818.2 1330.4,1808 1327.4,1797.6 1324.4,1790.6 1321.4,1773.7 1318.4,1770.4 1315.4,1767.9 1312.4,1777.9 1309.4,1799.3 1306.4,1788.8 1303.4,1781.2 1300.4,1775.3 1297.4,1764.5 1294.4,1760.5 1291.4,1756.3 1288.4,1770.7 1285.4,1783 1282.4,1783 1279.4,1794.7 1276.4,1771.5 1273.4,1769.2 1270.4,1767.3 1267.4,1770.8 1264.4,1775.4 1261.4,1764.8 1258.4,1762.1 1255.4,1759.4 1252.4,1767.6 1249.4,1774.7 1246.4,1769.6 1243.4,1763.8 1240.4,1775.8 1237.4,1792.9 1234.4,1830.1 1231.4,1866 1228.4,1862.4 1225.4,1871.9 1222.4,1885.4 1219.4,1882.2 1216.4,1882.4 1213.4,1825.7 1210.4,1809.8 1207.4,1802 1204.4,1771.4 1201.4,1767.4 1198.4,1764 1195.4,1779.4 1192.4,1789.5 1189.4,1826.3 1186.4,1790.6 1183.4,1775.7 1180.4,1766 1177.4,1781.7 1174.4,1778.5 1171.4,1778.7 1168.4,1791.9 1165.4,1800.3 1162.4,1783.5 1159.4,1777.4 1156.4,1767.3 1153.4,1766 1150.4,1763.4 1147.4,1771.6 1144.4,1772 1141.4,1773.3 1138.4,1769.8 1135.4,1759.1 1132.4,1752.8 1129.4,1746.6 1126.4,1772.2 1123.4,1814.1 1120.4,1836.6 1117.4,1860.9 1114.4,1881.4 1111.4,1860.4 1108.4,1851.5 1105.4,1856.7 1102.4,1873.5 1099.4,1882.1 1096.4,1867.7 1093.4,1859 1090.4,1847.3 1087.4,1833.8 1084.4,1827.3 1081.4,1812.2" fill="#c3c4c6" fill-opacity="0.7"/>
<polyline points="1081.4,1805 1084.4,1813.2 1087.4,1824.3 1090.4,1835.5 1093.4,1844.9 1096.4,1850.7 1099.4,1861.7 1102.4,1863.3 1105.4,1846.3 1108.4,1844.2 1111.4,1854.2 1114.4,1864 1117.4,1840.1 1120.4,1819.5 1123.4,1806.3 1126.4,1758.3 1129.4,1725.2 1132.4,1743 1135.4,1748.1 1138.4,1753.6 1141.4,1756.4 1144.4,1767.3 1147.4,1764.2 1150.4,1750.5 1153.4,1752.2 1156.4,1756.6 1159.4,1764.8 1162.4,1776.6 1165.4,1787.4 1168.4,1779.7 1171.4,1774.7 1174.4,1769 1177.4,1765 1180.4,1757.2 1183.4,1764.1 1186.4,1796.9 1189.4,1861.4 1192.4,1771.4 1195.4,1756 1198.4,1752.9 1201.4,1754.9 1204.4,1763.8 1207.4,1789.9 1210.4,1802.7 1213.4,1822.4 1216.4,1890.1 1219.4,1879.3 1222.4,1865.9 1225.4,1850.3 1228.4,1848.3 1231.4,1859.1 1234.4,1823.7 1237.4,1775.4 1240.4,1758.5 1243.4,1752.8 1246.4,1767.7 1249.4,1760.1 1252.4,1755 1255.4,1751.8 1258.4,1754.8 1261.4,1770.7 1264.4,1767.1 1267.4,1769.8 1270.4,1772.2 1273.4,1759.2 1276.4,1769 1279.4,1778.7 1282.4,1771.6 1285.4,1768.7 1288.4,1763.4 1291.4,1747.8 1294.4,1753.5 1297.4,1755.3 1300.4,1757.6 1303.4,1774.6 1306.4,1772.5 1309.4,1781.6 1312.4,1760.5 1315.4,1753.2 1318.4,1745.7 1321.4,1755.1 1324.4,1750 1327.4,1753.6 1330.4,1752.6 1333.4,1752.8 1336.4,1759.1 1339.4,1768.6 1342.4,1768.9 1345.4,1760.9 1348.4,1772.5 1351.4,1763.9 1354.4,1770.8 1357.4,1774.5 1360.4,1776.6 1363.4,1776.1 1366.4,1779.7 1369.4,1777.4 1372.4,1777.8 1375.4,1781.7 1378.4,1788.5 1381.4,1794.3 1384.4,1785.4 1387.4,1791.8 1390.4,1790.3 1393.4,1800.6 1396.4,1783.8 1399.4,1789.9 1402.4,1783.7 1405.4,1789.1 1408.4,1782.7 1411.4,1803 1414.4,1826.8 1417.4,1828.5 1420.4,1841.7 1423.4,1810.4 1426.4,1777.6 1429.4,1803.3 1432.4,1821.4 1435.4,1816.6 1438.4,1810 1441.4,1800.5 1444.4,1799.5 1447.4,1797.5 1450.4,1791.8 1453.4,1789.1 1456.4,1778.5 1459.4,1766.1 1462.4,1769.3 1465.4,1773.3 1468.4,1781.8 1471.4,1780.2 1474.4,1783.5 1477.4,1786.7 1480.4,1789.1 1483.4,1781.2 1486.4,1789.8 1489.4,1792.6 1492.4,1795.2 1495.4,1793.5 1498.4,1801.1 1501.4,1806 1504.4,1806.9 1507.4,1798 1510.4,1794.8 1513.4,1790.5 1516.4,1792.9 1519.4,1809.7 1522.4,1813.3 1525.4,1819.4 1528.4,1831.1 1531.4,1840.1 1534.4,1809.2 1537.4,1775 1540.4,1788 1543.4,1788.5 1546.4,1784.1 1549.4,1769.1 1552.4,1768.4 1555.4,1768 1558.4,1767.9 1561.4,1766.1 1564.4,1772.6 1567.4,1759.2 1570.4,1761.2 1573.4,1769.5 1576.4,1769.9 1579.4,1779.3 1582.4,1779.6 1585.4,1783.5 1588.4,1787.4 1591.4,1792.4 1594.4,1791.6 1597.4,1791.6 1600.4,1792 1603.4,1795.4 1606.4,1799.1 1609.4,1801.5 1612.4,1799.5 1615.4,1806.6 1618.4,1804.9 1621.4,1802.8 1624.4,1807.5 1627.4,1798.4 1630.4,1811.1 1633.4,1811 1636.4,1826.8 1639.4,1833.1 1642.4,1843.7 1645.4,1804 1648.4,1769.5 1651.4,1762.3 1654.4,1762.4 1657.4,1763.8 1660.4,1770.5 1663.4,1767.3 1666.4,1762.3 1669.4,1767.3 1672.4,1775.7 1675.4,1766.2 1678.4,1760.2 1681.4,1768 1684.4,1765.6 1687.4,1768.5 1690.4,1775.3 1693.4,1778.7 1696.4,1779 1699.4,1774.4 1702.4,1775.8 1705.4,1778 1708.4,1782.3 1711.4,1780.1 1714.4,1786.3 1717.4,1782.4 1720.4,1786.7 1723.4,1784.7 1726.4,1783.9 1729.4,1777.9 1732.4,1782.9 1735.4,1791.1 1738.4,1801.4 1741.4,1805.9 1744.4,1822.7 1747.4,1833.1 1750.4,1834.9 1753.4,1840.2 1756.4,1799.8 1759.4,1769.5 1762.4,1785.7 1765.4,1798.7 1768.4,1792.5 1771.4,1779.7 1774.4,1780.4 1777.4,1776.5 1780.4,1767.1 1783.4,1756.1 1786.4,1761.3 1789.4,1756.9 1792.4,1762.3 1795.4,1758.6 1798.4,1768.9 1801.4,1772.2 1804.4,1773.1 1807.4,1777.4 1810.4,1774.6 1813.4,1782.3 1816.4,1782.5 1819.4,1785.2 1822.4,1786.4 1825.4,1788.2 1828.4,1789.7 1831.4,1799.2 1834.4,1801.2 1837.4,1802.3 1840.4,1800.6 1843.4,1806.1 1846.4,1795.5 1849.4,1797.7 1852.4,1793.5 1855.4,1807.4 1858.4,1818.7 1861.4,1835.1 1864.4,1834.3 1867.4,1824.6 1870.4,1794.5 1873.4,1772 1876.4,1773.2 1879.4,1787.9 1882.4,1774.8 1885.4,1771.6 1888.4,1770.1 1891.4,1767.9 1894.4,1760.3 1897.4,1754.4 1900.4,1749.8 1903.4,1752.5 1906.4,1757.6 1909.4,1763.9 1912.4,1769 1915.4,1768.7 1918.4,1776.8 1921.4,1770.8 1924.4,1775.1 1927.4,1783.1 1930.4,1781.8 1933.4,1779.5 1936.4,1778.5 1939.4,1791.3 1942.4,1794.2 1945.4,1800 1948.4,1799.2 1951.4,1805.3 1954.4,1800.9 1957.4,1801.2 1960.4,1801.8 1963.4,1813.8 1966.4,1828.1 1969.4,1835 1972.4,1835.2 1975.4,1833.5 1978.4,1801.9 1981.4,1766 1984.4,1771 1987.4,1777.4 1990.4,1787.4 1993.4,1790 1996.4,1788.9 1999.4,1772.9 2002.4,1768.4 2005.4,1779.3 2008.4,1767.5 2011.4,1764.6 2014.4,1761 2017.4,1750.3 2020.4,1750.9 2023.4,1765.8 2026.4,1761.9 2029.4,1773.4 2032.4,1773.7 2035.4,1774.9 2038.4,1774.3 2041.4,1784.3 2044.4,1784.9 2047.4,1787.6 2050.4,1790.4 2053.4,1791.6 2056.4,1805.3 2059.4,1803.4 2062.4,1808.3 2065.4,1798 2068.4,1798 2071.4,1795.5 2074.4,1802.8 2077.4,1813.8 2080.4,1821.8 2083.4,1827.3 2086.4,1841" fill="none" stroke="#3d3c3e" stroke-width="3.6" stroke-linejoin="round" />
<polyline points="1081.4,1805.2 1084.4,1817.4 1087.4,1825.9 1090.4,1838.3 1093.4,1848.1 1096.4,1855 1099.4,1868.9 1102.4,1862.7 1105.4,1847.7 1108.4,1842.3 1111.4,1851.1 1114.4,1870.6 1117.4,1849 1120.4,1823.9 1123.4,1800.6 1126.4,1759.8 1129.4,1735.7 1132.4,1744 1135.4,1749.6 1138.4,1758.8 1141.4,1761 1144.4,1759.8 1147.4,1759.2 1150.4,1750.5 1153.4,1752.7 1156.4,1755.6 1159.4,1765.7 1162.4,1773.6 1165.4,1788.9 1168.4,1782.7 1171.4,1769.6 1174.4,1770.7 1177.4,1772.3 1180.4,1754.8 1183.4,1764.3 1186.4,1778.2 1189.4,1814.6 1192.4,1775.7 1195.4,1766.9 1198.4,1754.2 1201.4,1757.9 1204.4,1761.9 1207.4,1791.4 1210.4,1799.3 1213.4,1815.2 1216.4,1870.2 1219.4,1869.3 1222.4,1871.6 1225.4,1860.1 1228.4,1851.8 1231.4,1855.2 1234.4,1816.7 1237.4,1780.2 1240.4,1763.7 1243.4,1753.5 1246.4,1759 1249.4,1764.1 1252.4,1758.3 1255.4,1750.5 1258.4,1755.2 1261.4,1757.4 1264.4,1768.1 1267.4,1763.5 1270.4,1760.7 1273.4,1761.8 1276.4,1763.6 1279.4,1784.4 1282.4,1774.4 1285.4,1772.7 1288.4,1761.7 1291.4,1745.9 1294.4,1751.2 1297.4,1755.8 1300.4,1765.4 1303.4,1769.7 1306.4,1775.2 1309.4,1788 1312.4,1768.1 1315.4,1758.3 1318.4,1758.1 1321.4,1763 1324.4,1779 1327.4,1786.9 1330.4,1794.5 1333.4,1807 1336.4,1810 1339.4,1809.7 1342.4,1809.5 1345.4,1811.1 1348.4,1801.7 1351.4,1786.5 1354.4,1779.7 1357.4,1776.9 1360.4,1777.4 1363.4,1774.5 1366.4,1779.9 1369.4,1787.8 1372.4,1785.7 1375.4,1782.9 1378.4,1789.6 1381.4,1785.1 1384.4,1788.7 1387.4,1789.5 1390.4,1798.5 1393.4,1796.2 1396.4,1788.4 1399.4,1786.1 1402.4,1787 1405.4,1784.5 1408.4,1780.2 1411.4,1810.6 1414.4,1825.2 1417.4,1834.3 1420.4,1839.5 1423.4,1802.3 1426.4,1776.3 1429.4,1764.8 1432.4,1776.8 1435.4,1771 1438.4,1774.6 1441.4,1782 1444.4,1788.4 1447.4,1798.5 1450.4,1787 1453.4,1788.2 1456.4,1783.4 1459.4,1767.1 1462.4,1765.2 1465.4,1778.5 1468.4,1778.9 1471.4,1777.6 1474.4,1791 1477.4,1793 1480.4,1785.9 1483.4,1791.6 1486.4,1790.8 1489.4,1792 1492.4,1789 1495.4,1799.3 1498.4,1806 1501.4,1803.8 1504.4,1802.5 1507.4,1797.8 1510.4,1792.4 1513.4,1790.9 1516.4,1800.3 1519.4,1807.1 1522.4,1820.9 1525.4,1827.6 1528.4,1830.2 1531.4,1842.6 1534.4,1810.8 1537.4,1777.8 1540.4,1785.9 1543.4,1796.1 1546.4,1802.6 1549.4,1801.9 1552.4,1797.5 1555.4,1802.9 1558.4,1798.8 1561.4,1803.2 1564.4,1803.1 1567.4,1812.9 1570.4,1788.5 1573.4,1776.1 1576.4,1777.8 1579.4,1777.4 1582.4,1780.3 1585.4,1783.7 1588.4,1788.7 1591.4,1790.3 1594.4,1790.2 1597.4,1790.1 1600.4,1791 1603.4,1794.8 1606.4,1795.8 1609.4,1795.2 1612.4,1804.9 1615.4,1806.2 1618.4,1807.2 1621.4,1808.1 1624.4,1803.2 1627.4,1802.6 1630.4,1806.9 1633.4,1813.6 1636.4,1824.3 1639.4,1841.6 1642.4,1842.1 1645.4,1799 1648.4,1767.8 1651.4,1764.6 1654.4,1768.2 1657.4,1767 1660.4,1766.8 1663.4,1761.8 1666.4,1761.5 1669.4,1767.8 1672.4,1771 1675.4,1769.4 1678.4,1756.8 1681.4,1763.9 1684.4,1767.1 1687.4,1764.1 1690.4,1770.9 1693.4,1781.9 1696.4,1774 1699.4,1771.2 1702.4,1778.4 1705.4,1774 1708.4,1781 1711.4,1783 1714.4,1785.4 1717.4,1788.8 1720.4,1788.5 1723.4,1785.8 1726.4,1781.4 1729.4,1778.5 1732.4,1785.6 1735.4,1786.1 1738.4,1795.9 1741.4,1816.5 1744.4,1819.7 1747.4,1825.1 1750.4,1840.4 1753.4,1845 1756.4,1800.2 1759.4,1773.2 1762.4,1795.8 1765.4,1800.4 1768.4,1789 1771.4,1780.2 1774.4,1777.2 1777.4,1778.8 1780.4,1771.7 1783.4,1767.4 1786.4,1760 1789.4,1761.1 1792.4,1760.5 1795.4,1766.1 1798.4,1764.1 1801.4,1771.4 1804.4,1770.5 1807.4,1775.4 1810.4,1771.4 1813.4,1782 1816.4,1778.3 1819.4,1778.7 1822.4,1785.2 1825.4,1790.2 1828.4,1796.5 1831.4,1791.3 1834.4,1805.1 1837.4,1797.9 1840.4,1800.9 1843.4,1797.4 1846.4,1808.5 1849.4,1794.1 1852.4,1789.6 1855.4,1806.1 1858.4,1820.4 1861.4,1840.8 1864.4,1838.1 1867.4,1822.6 1870.4,1783.4 1873.4,1765.7 1876.4,1776.7 1879.4,1792.7 1882.4,1787.8 1885.4,1787.7 1888.4,1786.2 1891.4,1782.1 1894.4,1785.5 1897.4,1782.4 1900.4,1777 1903.4,1772.5 1906.4,1772.1 1909.4,1766.3 1912.4,1767.7 1915.4,1772.7 1918.4,1770.8 1921.4,1770.8 1924.4,1775.9 1927.4,1779.8 1930.4,1776 1933.4,1778.7 1936.4,1784 1939.4,1791.4 1942.4,1792.4 1945.4,1802.2 1948.4,1805.9 1951.4,1797.7 1954.4,1796.1 1957.4,1801 1960.4,1808.7 1963.4,1815.2 1966.4,1825.2 1969.4,1835.9 1972.4,1838.5 1975.4,1835.7 1978.4,1797.7 1981.4,1758.7 1984.4,1762.7 1987.4,1765 1990.4,1767.3 1993.4,1764.2 1996.4,1774.4 1999.4,1775.6 2002.4,1773.7 2005.4,1769.6 2008.4,1765.9 2011.4,1772.4 2014.4,1759.9 2017.4,1756.8 2020.4,1757.5 2023.4,1762 2026.4,1768.4 2029.4,1774.8 2032.4,1775.5 2035.4,1783.9 2038.4,1780.3 2041.4,1779.8 2044.4,1788.6 2047.4,1787.4 2050.4,1792.6 2053.4,1795.1 2056.4,1803.4 2059.4,1811 2062.4,1809.3 2065.4,1794.8 2068.4,1798.9 2071.4,1796.4 2074.4,1794.6 2077.4,1808.8 2080.4,1817.3 2083.4,1834.8 2086.4,1838.1" fill="none" stroke="#a3a5a8" stroke-width="4.2" stroke-linejoin="round" />
<line x1="1079.5" y1="1668.1" x2="1079.5" y2="1996.9" stroke="#0a0a0a" stroke-width="4.2" stroke-linecap="butt" />
<line x1="1071.5" y1="1980.9" x2="1079.5" y2="1980.9" stroke="#0a0a0a" stroke-width="3" stroke-linecap="butt" />
<text x="1061.5" y="1991.2" font-size="29.3" text-anchor="end">0.000</text>
<line x1="1071.5" y1="1918.6" x2="1079.5" y2="1918.6" stroke="#0a0a0a" stroke-width="3" stroke-linecap="butt" />
<text x="1061.5" y="1928.9" font-size="29.3" text-anchor="end">0.005</text>
<line x1="1071.5" y1="1856.4" x2="1079.5" y2="1856.4" stroke="#0a0a0a" stroke-width="3" stroke-linecap="butt" />
<text x="1061.5" y="1866.7" font-size="29.3" text-anchor="end">0.010</text>
<line x1="1071.5" y1="1794.1" x2="1079.5" y2="1794.1" stroke="#0a0a0a" stroke-width="3" stroke-linecap="butt" />
<text x="1061.5" y="1804.4" font-size="29.3" text-anchor="end">0.015</text>
<line x1="1071.5" y1="1731.9" x2="1079.5" y2="1731.9" stroke="#0a0a0a" stroke-width="3" stroke-linecap="butt" />
<text x="1061.5" y="1742.2" font-size="29.3" text-anchor="end">0.020</text>
<line x1="1071.5" y1="1669.6" x2="1079.5" y2="1669.6" stroke="#0a0a0a" stroke-width="3" stroke-linecap="butt" />
<text x="1061.5" y="1679.9" font-size="29.3" text-anchor="end">0.025</text>
<rect x="1077.5" y="1979.4" width="1019" height="18.5" fill="#0a0a0a" />
<rect x="1082" y="1986.4" width="42.8" height="8" fill="#ffffff" />
<rect x="1127.9" y="1986.4" width="52.7" height="8" fill="#2c2b2d" />
<rect x="1184.9" y="1986.4" width="51" height="8" fill="#ffffff" />
<rect x="1240.1" y="1986.4" width="52.7" height="8" fill="#2c2b2d" />
<rect x="1297.1" y="1986.4" width="51" height="8" fill="#ffffff" />
<rect x="1352.2" y="1986.4" width="52.7" height="8" fill="#2c2b2d" />
<rect x="1409.2" y="1986.4" width="51" height="8" fill="#ffffff" />
<rect x="1464.4" y="1986.4" width="52.7" height="8" fill="#2c2b2d" />
<rect x="1521.4" y="1986.4" width="51" height="8" fill="#ffffff" />
<rect x="1576.5" y="1986.4" width="52.7" height="8" fill="#2c2b2d" />
<rect x="1633.5" y="1986.4" width="51" height="8" fill="#ffffff" />
<rect x="1688.7" y="1986.4" width="52.7" height="8" fill="#2c2b2d" />
<rect x="1745.7" y="1986.4" width="51" height="8" fill="#ffffff" />
<rect x="1800.8" y="1986.4" width="52.7" height="8" fill="#2c2b2d" />
<rect x="1857.8" y="1986.4" width="51" height="8" fill="#ffffff" />
<rect x="1913" y="1986.4" width="52.7" height="8" fill="#2c2b2d" />
<rect x="1970" y="1986.4" width="51" height="8" fill="#ffffff" />
<rect x="2025.1" y="1986.4" width="52.7" height="8" fill="#2c2b2d" />
<rect x="2082.1" y="1986.4" width="10.9" height="8" fill="#ffffff" />
<line x1="1123" y1="2002.7" x2="1234" y2="2002.7" stroke="#0a0a0a" stroke-width="3.3" stroke-linecap="round" />
<text x="1178.5" y="2030.2" font-size="28" text-anchor="middle" letter-spacing="-0.8">24 hours</text>
<text x="1608" y="2050" font-size="29" text-anchor="middle">Time (days)</text>
<text x="1608" y="1618.5" font-size="36" text-anchor="middle">Movement</text>
<line x1="1311" y1="1700.4" x2="2096" y2="1700.4" stroke="#0a0a0a" stroke-width="3.3" stroke-linecap="round" />
<text x="1724.5" y="1691.8" font-size="29" text-anchor="middle"><tspan font-style="italic">P</tspan> = 0.676</text>
<text x="972" y="1818" font-size="29" text-anchor="middle" transform="rotate(-90 972 1818)">Movement (m/s)</text>
<polygon points="1203,1925.8 1196.5,1934.8 1209.5,1934.8" fill="#0a0a0a"/>
<line x1="1203" y1="1933.8" x2="1203" y2="1941.3" stroke="#0a0a0a" stroke-width="3.3" stroke-linecap="butt" />
<polygon points="1309.2,1925.8 1302.7,1934.8 1315.7,1934.8" fill="#0a0a0a"/>
<line x1="1309.2" y1="1933.8" x2="1309.2" y2="1941.3" stroke="#0a0a0a" stroke-width="3.3" stroke-linecap="butt" />
<polygon points="1421.3,1925.8 1414.8,1934.8 1427.8,1934.8" fill="#0a0a0a"/>
<line x1="1421.3" y1="1933.8" x2="1421.3" y2="1941.3" stroke="#0a0a0a" stroke-width="3.3" stroke-linecap="butt" />
<polygon points="1533.5,1925.8 1527,1934.8 1540,1934.8" fill="#0a0a0a"/>
<line x1="1533.5" y1="1933.8" x2="1533.5" y2="1941.3" stroke="#0a0a0a" stroke-width="3.3" stroke-linecap="butt" />
<polygon points="1645.6,1925.8 1639.1,1934.8 1652.1,1934.8" fill="#0a0a0a"/>
<line x1="1645.6" y1="1933.8" x2="1645.6" y2="1941.3" stroke="#0a0a0a" stroke-width="3.3" stroke-linecap="butt" />
<polygon points="1757.7,1925.8 1751.2,1934.8 1764.2,1934.8" fill="#0a0a0a"/>
<line x1="1757.7" y1="1933.8" x2="1757.7" y2="1941.3" stroke="#0a0a0a" stroke-width="3.3" stroke-linecap="butt" />
<polygon points="1869.8,1925.8 1863.3,1934.8 1876.3,1934.8" fill="#0a0a0a"/>
<line x1="1869.8" y1="1933.8" x2="1869.8" y2="1941.3" stroke="#0a0a0a" stroke-width="3.3" stroke-linecap="butt" />
<polygon points="1982,1925.8 1975.5,1934.8 1988.5,1934.8" fill="#0a0a0a"/>
<line x1="1982" y1="1933.8" x2="1982" y2="1941.3" stroke="#0a0a0a" stroke-width="3.3" stroke-linecap="butt" />
<text x="1203" y="1966" font-size="29" text-anchor="middle">Saline</text>
<text x="1313" y="1966" font-size="29" text-anchor="middle">Drug</text>
<line x1="1084" y1="1681.9" x2="1107" y2="1681.9" stroke="#a7a9ac" stroke-width="7" stroke-linecap="round" />
<text x="1110.5" y="1692.9" font-size="29">CL</text>
<line x1="1084" y1="1710.3" x2="1107" y2="1710.3" stroke="#3a393b" stroke-width="7" stroke-linecap="round" />
<text x="1110.5" y="1721.1" font-size="29">CL+DCZ</text>
<text x="1080.3" y="1644.5" font-size="28.5"><tspan font-style="italic">hM3Dq</tspan><tspan font-size="17.7" dy="-11.4">AdipoqCre</tspan><tspan dy="11.4">:</tspan><tspan font-style="italic">Ckb</tspan><tspan font-size="17.7" dy="-11.4">fl/fl</tspan></text>
<text x="945.7" y="2155.2" font-size="68.3" font-weight="bold" fill="#231f20">s</text>
<polygon points="1081.4,2350.2 1084.4,2368.3 1087.4,2383.7 1090.4,2369.1 1093.4,2358.4 1096.4,2373.4 1099.4,2379.7 1102.4,2348.6 1105.4,2334.9 1108.4,2359.4 1111.4,2363.5 1114.4,2346.4 1117.4,2336.6 1120.4,2327.7 1123.4,2312.5 1126.4,2272.2 1129.4,2242.5 1132.4,2257.9 1135.4,2258.8 1138.4,2255.1 1141.4,2263.7 1144.4,2261.6 1147.4,2268 1150.4,2267.1 1153.4,2280.9 1156.4,2291.6 1159.4,2290.5 1162.4,2308.3 1165.4,2333.5 1168.4,2365.2 1171.4,2335.1 1174.4,2302.1 1177.4,2287 1180.4,2280.1 1183.4,2307.1 1186.4,2326.4 1189.4,2351.5 1192.4,2360.1 1195.4,2344 1198.4,2330.8 1201.4,2286.3 1204.4,2255.3 1207.4,2261.2 1210.4,2305.4 1213.4,2345.7 1216.4,2375.1 1219.4,2386.1 1222.4,2374.6 1225.4,2364.8 1228.4,2352 1231.4,2339.1 1234.4,2313.9 1237.4,2287.7 1240.4,2268.5 1243.4,2273.6 1246.4,2277 1249.4,2281.6 1252.4,2297.3 1255.4,2295.6 1258.4,2285.7 1261.4,2269.9 1264.4,2271.8 1267.4,2265.9 1270.4,2272.5 1273.4,2287.3 1276.4,2298.6 1279.4,2309 1282.4,2300.9 1285.4,2283.5 1288.4,2277.9 1291.4,2283.7 1294.4,2288.4 1297.4,2310.7 1300.4,2389.5 1303.4,2401.1 1306.4,2409.4 1309.4,2380 1312.4,2304.3 1315.4,2254.3 1318.4,2245.1 1321.4,2248.2 1324.4,2248.3 1327.4,2249.1 1330.4,2237 1333.4,2234.3 1336.4,2240.7 1339.4,2252.5 1342.4,2270.4 1345.4,2286.5 1348.4,2288.4 1351.4,2287.7 1354.4,2298.7 1357.4,2298.7 1360.4,2299.6 1363.4,2299.7 1366.4,2294 1369.4,2297.3 1372.4,2299.3 1375.4,2299.2 1378.4,2289.8 1381.4,2280.6 1384.4,2288.7 1387.4,2289.3 1390.4,2297.6 1393.4,2313.4 1396.4,2313 1399.4,2313.1 1402.4,2307.1 1405.4,2307 1408.4,2321.8 1411.4,2330.9 1414.4,2369 1417.4,2398.6 1420.4,2351.4 1423.4,2290.9 1426.4,2270.9 1429.4,2266.3 1432.4,2282.2 1435.4,2304.7 1438.4,2317.5 1441.4,2332 1444.4,2331.5 1447.4,2344.2 1450.4,2330.8 1453.4,2332.6 1456.4,2324.7 1459.4,2296.9 1462.4,2281.5 1465.4,2272.4 1468.4,2278 1471.4,2282.6 1474.4,2297.7 1477.4,2300.8 1480.4,2309.2 1483.4,2307.6 1486.4,2318.9 1489.4,2313.1 1492.4,2316.9 1495.4,2322.5 1498.4,2310 1501.4,2313.4 1504.4,2318.3 1507.4,2312.5 1510.4,2315.5 1513.4,2311.1 1516.4,2312.1 1519.4,2304.5 1522.4,2331.8 1525.4,2369 1528.4,2380.9 1531.4,2388.5 1534.4,2331.6 1537.4,2273.9 1540.4,2284.8 1543.4,2289.7 1546.4,2310.8 1549.4,2338.3 1552.4,2349.4 1555.4,2354.6 1558.4,2366.5 1561.4,2363.3 1564.4,2365.6 1567.4,2359.2 1570.4,2325 1573.4,2308.9 1576.4,2303.5 1579.4,2308.2 1582.4,2316.3 1585.4,2308.3 1588.4,2308 1591.4,2309.3 1594.4,2307 1597.4,2307.1 1600.4,2306.8 1603.4,2309.7 1606.4,2315.5 1609.4,2311.8 1612.4,2320.3 1615.4,2320.3 1618.4,2335.5 1621.4,2329.3 1624.4,2317.3 1627.4,2315.7 1630.4,2339 1633.4,2351.1 1636.4,2364.9 1639.4,2377.1 1642.4,2383.8 1645.4,2383.1 1648.4,2387.2 1651.4,2308.5 1654.4,2265 1657.4,2317.5 1660.4,2340.4 1663.4,2345 1666.4,2348.7 1669.4,2346.5 1672.4,2345.9 1675.4,2331.8 1678.4,2316.7 1681.4,2312 1684.4,2304.8 1687.4,2301.4 1690.4,2306.2 1693.4,2302.4 1696.4,2307.9 1699.4,2318.2 1702.4,2319.2 1705.4,2316.8 1708.4,2325.8 1711.4,2313.9 1714.4,2316.6 1717.4,2315.6 1720.4,2311.2 1723.4,2309 1726.4,2315.9 1729.4,2315.8 1732.4,2317.8 1735.4,2308.3 1738.4,2309.3 1741.4,2313.3 1744.4,2329.3 1747.4,2366.8 1750.4,2373.9 1753.4,2392.2 1756.4,2339.7 1759.4,2279.1 1762.4,2246.1 1765.4,2237.1 1768.4,2253.8 1771.4,2264.7 1774.4,2280.2 1777.4,2292.4 1780.4,2301.5 1783.4,2318.1 1786.4,2313.6 1789.4,2299.8 1792.4,2302.1 1795.4,2294.8 1798.4,2299.1 1801.4,2294.1 1804.4,2291.2 1807.4,2296.7 1810.4,2304 1813.4,2302.1 1816.4,2306.5 1819.4,2309.4 1822.4,2308.2 1825.4,2315.2 1828.4,2312.1 1831.4,2305.6 1834.4,2313.5 1837.4,2316.2 1840.4,2313.6 1843.4,2306.3 1846.4,2310.7 1849.4,2323.7 1852.4,2321.3 1855.4,2331.1 1858.4,2351.4 1861.4,2364.1 1864.4,2367.4 1867.4,2350.1 1870.4,2338.5 1873.4,2300.4 1876.4,2255.8 1879.4,2237.4 1882.4,2239.9 1885.4,2257.7 1888.4,2281.5 1891.4,2303.6 1894.4,2309.4 1897.4,2331.6 1900.4,2326.5 1903.4,2316.6 1906.4,2314.6 1909.4,2304.8 1912.4,2296.9 1915.4,2306.3 1918.4,2307.5 1921.4,2313.3 1924.4,2322.8 1927.4,2331.6 1930.4,2324.7 1933.4,2338.6 1936.4,2320.9 1939.4,2323.9 1942.4,2327.8 1945.4,2323.7 1948.4,2317.1 1951.4,2320 1954.4,2322.5 1957.4,2326.3 1960.4,2331.9 1963.4,2336.1 1966.4,2340.1 1969.4,2354.1 1972.4,2357.7 1975.4,2359.1 1978.4,2343.7 1981.4,2319.6 1984.4,2299.2 1987.4,2281.1 1990.4,2261.8 1993.4,2247.7 1996.4,2247.3 1999.4,2274.5 2002.4,2291.9 2005.4,2316.8 2008.4,2334.9 2011.4,2348 2014.4,2362.5 2017.4,2339.6 2020.4,2319.2 2023.4,2310.2 2026.4,2300.1 2029.4,2301.2 2032.4,2302.6 2035.4,2309.4 2038.4,2306.2 2041.4,2311.6 2044.4,2313.8 2047.4,2308.2 2050.4,2325.5 2053.4,2324.5 2056.4,2330.7 2059.4,2349.2 2062.4,2360.8 2065.4,2338.9 2068.4,2321.7 2071.4,2316.9 2074.4,2313.9 2077.4,2328.5 2080.4,2344.3 2083.4,2366.8 2086.4,2370.3 2089.4,2375.3 2089.4,2398.5 2086.4,2394.6 2083.4,2389.9 2080.4,2361.6 2077.4,2341.8 2074.4,2332.7 2071.4,2336.8 2068.4,2341.3 2065.4,2359.1 2062.4,2381.4 2059.4,2370.4 2056.4,2347.7 2053.4,2340.2 2050.4,2345.9 2047.4,2332.6 2044.4,2334.4 2041.4,2328.4 2038.4,2322.4 2035.4,2324.1 2032.4,2321.4 2029.4,2320.4 2026.4,2321.4 2023.4,2329.4 2020.4,2334.5 2017.4,2359.6 2014.4,2384 2011.4,2368.6 2008.4,2356.3 2005.4,2339.4 2002.4,2313.2 1999.4,2298.4 1996.4,2267.8 1993.4,2263.4 1990.4,2281.9 1987.4,2302.5 1984.4,2319.4 1981.4,2335.9 1978.4,2358.6 1975.4,2377.6 1972.4,2373.4 1969.4,2372.3 1966.4,2361.8 1963.4,2352.6 1960.4,2347 1957.4,2341.6 1954.4,2338.2 1951.4,2338.4 1948.4,2337.1 1945.4,2341.7 1942.4,2346.2 1939.4,2347.3 1936.4,2344.3 1933.4,2357.1 1930.4,2340.9 1927.4,2349.8 1924.4,2347.1 1921.4,2335.6 1918.4,2328.4 1915.4,2323.6 1912.4,2315 1909.4,2322.9 1906.4,2326.5 1903.4,2332 1900.4,2343.5 1897.4,2346.7 1894.4,2324.5 1891.4,2319.9 1888.4,2299.1 1885.4,2280.9 1882.4,2261.4 1879.4,2255.6 1876.4,2274.3 1873.4,2315.6 1870.4,2356 1867.4,2370.4 1864.4,2384.2 1861.4,2377.7 1858.4,2370.7 1855.4,2357.9 1852.4,2346.3 1849.4,2345.2 1846.4,2330.6 1843.4,2324.5 1840.4,2333.5 1837.4,2338.6 1834.4,2336.1 1831.4,2327.6 1828.4,2327.8 1825.4,2331.2 1822.4,2329.7 1819.4,2329 1816.4,2324.7 1813.4,2321.6 1810.4,2324.6 1807.4,2314.9 1804.4,2305.3 1801.4,2308.5 1798.4,2316.4 1795.4,2315.1 1792.4,2325.7 1789.4,2323.3 1786.4,2332.5 1783.4,2336.2 1780.4,2320.3 1777.4,2312.4 1774.4,2299.5 1771.4,2283 1768.4,2277.1 1765.4,2260.2 1762.4,2263.6 1759.4,2292.9 1756.4,2354 1753.4,2410.7 1750.4,2395.5 1747.4,2389.1 1744.4,2349.6 1741.4,2329 1738.4,2326 1735.4,2330.9 1732.4,2337.4 1729.4,2331.7 1726.4,2333.3 1723.4,2327 1720.4,2330.8 1717.4,2334.9 1714.4,2335.3 1711.4,2333.9 1708.4,2346.2 1705.4,2339.6 1702.4,2337.7 1699.4,2331.4 1696.4,2324.2 1693.4,2317.6 1690.4,2322.6 1687.4,2322.6 1684.4,2327.7 1681.4,2333.3 1678.4,2332.8 1675.4,2348.2 1672.4,2367.5 1669.4,2366.9 1666.4,2368.7 1663.4,2363.1 1660.4,2357.1 1657.4,2335.9 1654.4,2284.8 1651.4,2325.3 1648.4,2404.5 1645.4,2404.2 1642.4,2400.3 1639.4,2394.9 1636.4,2384.5 1633.4,2367.5 1630.4,2352.6 1627.4,2333.4 1624.4,2341.8 1621.4,2349.6 1618.4,2352.7 1615.4,2340.3 1612.4,2341.9 1609.4,2330.6 1606.4,2330.4 1603.4,2331.4 1600.4,2332 1597.4,2325.8 1594.4,2322 1591.4,2326.6 1588.4,2330.3 1585.4,2328.2 1582.4,2334.7 1579.4,2329.4 1576.4,2319.2 1573.4,2326.7 1570.4,2346.6 1567.4,2372.8 1564.4,2381.3 1561.4,2381.6 1558.4,2383.3 1555.4,2377.4 1552.4,2373.8 1549.4,2358.3 1546.4,2326.6 1543.4,2300.9 1540.4,2299.9 1537.4,2294.3 1534.4,2354 1531.4,2410.8 1528.4,2396.2 1525.4,2384.7 1522.4,2353.8 1519.4,2325.7 1516.4,2329.7 1513.4,2330.2 1510.4,2333.1 1507.4,2326.7 1504.4,2334 1501.4,2331.9 1498.4,2334 1495.4,2344.6 1492.4,2335.2 1489.4,2331.9 1486.4,2337.9 1483.4,2323.2 1480.4,2327.8 1477.4,2325.3 1474.4,2313.8 1471.4,2294.9 1468.4,2292.7 1465.4,2290.3 1462.4,2306.2 1459.4,2317.8 1456.4,2339.3 1453.4,2349.3 1450.4,2348.4 1447.4,2359.4 1444.4,2348.4 1441.4,2350.3 1438.4,2337.3 1435.4,2329.7 1432.4,2306.1 1429.4,2289.7 1426.4,2289.6 1423.4,2306.3 1420.4,2374.6 1417.4,2421.6 1414.4,2389.3 1411.4,2354 1408.4,2341.6 1405.4,2326 1402.4,2329.7 1399.4,2334.9 1396.4,2332.2 1393.4,2330.6 1390.4,2312.7 1387.4,2303.6 1384.4,2302.2 1381.4,2298.6 1378.4,2311.7 1375.4,2317.6 1372.4,2320.9 1369.4,2321.9 1366.4,2312.5 1363.4,2317.8 1360.4,2325.1 1357.4,2327 1354.4,2322.9 1351.4,2310.3 1348.4,2308.4 1345.4,2304.9 1342.4,2287 1339.4,2267.3 1336.4,2257.5 1333.4,2248.4 1330.4,2256.6 1327.4,2272.5 1324.4,2269.7 1321.4,2266.7 1318.4,2265.1 1315.4,2275.8 1312.4,2323.4 1309.4,2399.8 1306.4,2426.8 1303.4,2419.4 1300.4,2410.2 1297.4,2328.5 1294.4,2303.5 1291.4,2301.7 1288.4,2298.5 1285.4,2305.2 1282.4,2319.8 1279.4,2326.7 1276.4,2320.5 1273.4,2305.8 1270.4,2292.7 1267.4,2285.6 1264.4,2283.8 1261.4,2284.9 1258.4,2305.7 1255.4,2318.4 1252.4,2321.6 1249.4,2303.3 1246.4,2295.4 1243.4,2291.3 1240.4,2288.1 1237.4,2309.7 1234.4,2336.4 1231.4,2361.1 1228.4,2370.4 1225.4,2378.9 1222.4,2391.1 1219.4,2402.7 1216.4,2390.2 1213.4,2364.5 1210.4,2327.2 1207.4,2280.4 1204.4,2273.8 1201.4,2305.9 1198.4,2348.5 1195.4,2363.5 1192.4,2379.1 1189.4,2373.1 1186.4,2351.9 1183.4,2328.5 1180.4,2296 1177.4,2301.8 1174.4,2313.9 1171.4,2345.1 1168.4,2377.8 1165.4,2353.8 1162.4,2329.4 1159.4,2310.3 1156.4,2310.3 1153.4,2301.7 1150.4,2289.6 1147.4,2287.5 1144.4,2283 1141.4,2283.2 1138.4,2272.2 1135.4,2273.4 1132.4,2274.8 1129.4,2262.5 1126.4,2292.4 1123.4,2329.8 1120.4,2341.4 1117.4,2355.3 1114.4,2365 1111.4,2379.6 1108.4,2373.3 1105.4,2351 1102.4,2369.3 1099.4,2397.6 1096.4,2389.1 1093.4,2373.8 1090.4,2385.1 1087.4,2399.3 1084.4,2385.2 1081.4,2359" fill="#a3d9c1" fill-opacity="0.8"/>
<polyline points="1081.4,2356.4 1084.4,2377.3 1087.4,2391.3 1090.4,2379.1 1093.4,2366.7 1096.4,2378.7 1099.4,2385.4 1102.4,2358.8 1105.4,2343.9 1108.4,2365.2 1111.4,2369.6 1114.4,2354.5 1117.4,2345.6 1120.4,2335.7 1123.4,2320.8 1126.4,2282.5 1129.4,2255.1 1132.4,2266.9 1135.4,2267.2 1138.4,2263.2 1141.4,2270 1144.4,2269.2 1147.4,2276.1 1150.4,2278.4 1153.4,2290.2 1156.4,2300.3 1159.4,2302.2 1162.4,2320.1 1165.4,2343.3 1168.4,2370.7 1171.4,2339.6 1174.4,2307 1177.4,2292.3 1180.4,2286 1183.4,2315.8 1186.4,2337.7 1189.4,2359.3 1192.4,2367.3 1195.4,2356.1 1198.4,2343 1201.4,2295.7 1204.4,2262.4 1207.4,2269.5 1210.4,2314.9 1213.4,2353.4 1216.4,2381.4 1219.4,2392.3 1222.4,2381.2 1225.4,2371.6 1228.4,2358.9 1231.4,2347.7 1234.4,2326 1237.4,2300.3 1240.4,2278.9 1243.4,2281.2 1246.4,2285.4 1249.4,2293.5 1252.4,2310.2 1255.4,2307.3 1258.4,2295.5 1261.4,2276.9 1264.4,2277.7 1267.4,2276.2 1270.4,2282.8 1273.4,2296.7 1276.4,2311.4 1279.4,2320.3 1282.4,2312.9 1285.4,2297.3 1288.4,2291.5 1291.4,2293.2 1294.4,2295 1297.4,2319.1 1300.4,2398.2 1303.4,2407.8 1306.4,2418.5 1309.4,2390.2 1312.4,2311.6 1315.4,2264.2 1318.4,2255.2 1321.4,2258.4 1324.4,2257.3 1327.4,2257.9 1330.4,2247.1 1333.4,2241.7 1336.4,2249.3 1339.4,2261.4 1342.4,2279.6 1345.4,2297.8 1348.4,2301.1 1351.4,2298.3 1354.4,2309.4 1357.4,2313.1 1360.4,2312 1363.4,2308.8 1366.4,2305.2 1369.4,2310.8 1372.4,2310.7 1375.4,2309.9 1378.4,2302 1381.4,2290.7 1384.4,2295 1387.4,2296.7 1390.4,2306.8 1393.4,2320.8 1396.4,2320.3 1399.4,2322 1402.4,2316.4 1405.4,2316.7 1408.4,2331.6 1411.4,2342.2 1414.4,2377.8 1417.4,2408.1 1420.4,2361.2 1423.4,2295.7 1426.4,2280.2 1429.4,2280.1 1432.4,2296 1435.4,2319.3 1438.4,2330 1441.4,2342.2 1444.4,2339.9 1447.4,2350.3 1450.4,2339.8 1453.4,2344.7 1456.4,2333.5 1459.4,2306.8 1462.4,2293.1 1465.4,2280.3 1468.4,2285.8 1471.4,2289.9 1474.4,2305.6 1477.4,2312.5 1480.4,2318.9 1483.4,2315.9 1486.4,2326.8 1489.4,2322.4 1492.4,2326.8 1495.4,2333.4 1498.4,2322.3 1501.4,2322.6 1504.4,2327.5 1507.4,2319.7 1510.4,2323.9 1513.4,2322.7 1516.4,2324.3 1519.4,2318.5 1522.4,2345.3 1525.4,2377.8 1528.4,2390.6 1531.4,2401.7 1534.4,2343.6 1537.4,2283.9 1540.4,2291.3 1543.4,2296.7 1546.4,2317.6 1549.4,2345.7 1552.4,2360.8 1555.4,2365.4 1558.4,2375.8 1561.4,2371.6 1564.4,2371.3 1567.4,2365.9 1570.4,2335.5 1573.4,2317.2 1576.4,2312.3 1579.4,2318.2 1582.4,2324.2 1585.4,2317.3 1588.4,2315.7 1591.4,2314.6 1594.4,2313.6 1597.4,2314.8 1600.4,2317.4 1603.4,2319.6 1606.4,2323.7 1609.4,2324 1612.4,2331.6 1615.4,2329.1 1618.4,2341.7 1621.4,2336.7 1624.4,2329 1627.4,2325.3 1630.4,2344.9 1633.4,2359.1 1636.4,2375 1639.4,2384.8 1642.4,2391.7 1645.4,2393.7 1648.4,2395.7 1651.4,2317.2 1654.4,2276.6 1657.4,2326.6 1660.4,2346.8 1663.4,2354.4 1666.4,2357.3 1669.4,2353.2 1672.4,2356.5 1675.4,2341.9 1678.4,2323.1 1681.4,2318.8 1684.4,2313.4 1687.4,2309.1 1690.4,2311.4 1693.4,2308.4 1696.4,2314.6 1699.4,2323.8 1702.4,2328.3 1705.4,2327.4 1708.4,2333.6 1711.4,2320.8 1714.4,2325.6 1717.4,2328 1720.4,2325.6 1723.4,2321 1726.4,2325.6 1729.4,2323.1 1732.4,2327.3 1735.4,2322.9 1738.4,2319.9 1741.4,2322.3 1744.4,2340.9 1747.4,2378.5 1750.4,2384.7 1753.4,2401.8 1756.4,2348.7 1759.4,2288.6 1762.4,2256.9 1765.4,2249 1768.4,2265.5 1771.4,2273.2 1774.4,2289.8 1777.4,2302.7 1780.4,2308.7 1783.4,2325.2 1786.4,2321.8 1789.4,2310.3 1792.4,2314 1795.4,2306.8 1798.4,2307.1 1801.4,2300.3 1804.4,2301 1807.4,2307.5 1810.4,2316.1 1813.4,2314.8 1816.4,2319.1 1819.4,2319.9 1822.4,2317.8 1825.4,2324.1 1828.4,2320.5 1831.4,2316.7 1834.4,2324.5 1837.4,2328.3 1840.4,2324.8 1843.4,2316.7 1846.4,2320 1849.4,2331.8 1852.4,2332.7 1855.4,2343.6 1858.4,2359.6 1861.4,2369.2 1864.4,2374.5 1867.4,2361.3 1870.4,2350.1 1873.4,2310.5 1876.4,2266.5 1879.4,2245.7 1882.4,2249.2 1885.4,2268.8 1888.4,2288.7 1891.4,2310.8 1894.4,2316.9 1897.4,2340.2 1900.4,2336.7 1903.4,2324.5 1906.4,2321.1 1909.4,2314.3 1912.4,2305.9 1915.4,2314.1 1918.4,2318.6 1921.4,2326.2 1924.4,2333.9 1927.4,2341 1930.4,2333.5 1933.4,2345.4 1936.4,2330.9 1939.4,2335.1 1942.4,2334.8 1945.4,2330.8 1948.4,2327.2 1951.4,2330 1954.4,2330.6 1957.4,2331.8 1960.4,2337.9 1963.4,2344.7 1966.4,2350.3 1969.4,2362.6 1972.4,2366.7 1975.4,2367.2 1978.4,2349.8 1981.4,2328.3 1984.4,2310.6 1987.4,2293.7 1990.4,2273.3 1993.4,2257.2 1996.4,2258.5 1999.4,2284.2 2002.4,2301.6 2005.4,2329.3 2008.4,2346.2 2011.4,2358.2 2014.4,2371.6 2017.4,2349.7 2020.4,2328.6 2023.4,2319.8 2026.4,2308.2 2029.4,2308.6 2032.4,2310 2035.4,2316.2 2038.4,2317.8 2041.4,2321.5 2044.4,2323.4 2047.4,2318.9 2050.4,2333.5 2053.4,2332.6 2056.4,2341.3 2059.4,2359.4 2062.4,2368.8 2065.4,2349.2 2068.4,2329.7 2071.4,2323.5 2074.4,2323.7 2077.4,2336.1 2080.4,2353.2 2083.4,2377 2086.4,2380.9 2089.4,2386.3" fill="none" stroke="#7ccaa6" stroke-width="3.6" stroke-linejoin="round" />
<polygon points="1081.4,2340.7 1084.4,2346.6 1087.4,2353.7 1090.4,2353.8 1093.4,2361.2 1096.4,2361.5 1099.4,2366.2 1102.4,2363.3 1105.4,2353.1 1108.4,2360.6 1111.4,2370.5 1114.4,2365.5 1117.4,2358.3 1120.4,2343.5 1123.4,2316 1126.4,2283.2 1129.4,2251 1132.4,2265.6 1135.4,2275.3 1138.4,2278.2 1141.4,2270.2 1144.4,2270.4 1147.4,2274.5 1150.4,2274.8 1153.4,2283 1156.4,2274.4 1159.4,2289.6 1162.4,2297 1165.4,2327.3 1168.4,2343.3 1171.4,2331.4 1174.4,2298.4 1177.4,2284.9 1180.4,2286.2 1183.4,2309.3 1186.4,2325.5 1189.4,2333.2 1192.4,2334.4 1195.4,2332.4 1198.4,2320.4 1201.4,2279.1 1204.4,2252.3 1207.4,2264.1 1210.4,2312.8 1213.4,2353.1 1216.4,2357.6 1219.4,2364.6 1222.4,2355.5 1225.4,2354 1228.4,2361.4 1231.4,2351.7 1234.4,2329.9 1237.4,2318.6 1240.4,2299.2 1243.4,2285.9 1246.4,2287.1 1249.4,2283.9 1252.4,2282.3 1255.4,2282.8 1258.4,2289.1 1261.4,2288.6 1264.4,2282.2 1267.4,2300.2 1270.4,2291.2 1273.4,2296.1 1276.4,2294.4 1279.4,2296.6 1282.4,2288.9 1285.4,2296.1 1288.4,2297.7 1291.4,2296.5 1294.4,2305.6 1297.4,2323.5 1300.4,2345 1303.4,2352.7 1306.4,2339.9 1309.4,2313.4 1312.4,2281.1 1315.4,2280 1318.4,2274.9 1321.4,2270.5 1324.4,2271.7 1327.4,2272.7 1330.4,2275.1 1333.4,2279.6 1336.4,2299.8 1339.4,2305 1342.4,2315.9 1345.4,2321.9 1348.4,2306.3 1351.4,2280 1354.4,2273 1357.4,2265.1 1360.4,2274.5 1363.4,2274.2 1366.4,2279.3 1369.4,2275.1 1372.4,2274.7 1375.4,2283.5 1378.4,2283.9 1381.4,2276.1 1384.4,2284.5 1387.4,2282.8 1390.4,2290.5 1393.4,2293.8 1396.4,2292.7 1399.4,2289.2 1402.4,2289.9 1405.4,2299.7 1408.4,2320.8 1411.4,2333 1414.4,2351.1 1417.4,2381.1 1420.4,2352.7 1423.4,2329.1 1426.4,2307.7 1429.4,2283.5 1432.4,2289.8 1435.4,2295.5 1438.4,2301.1 1441.4,2314.5 1444.4,2316.6 1447.4,2301.7 1450.4,2310.4 1453.4,2314.2 1456.4,2303.5 1459.4,2292.6 1462.4,2278.5 1465.4,2274.7 1468.4,2270.8 1471.4,2278 1474.4,2285.6 1477.4,2286.8 1480.4,2285.6 1483.4,2287.8 1486.4,2287 1489.4,2282.7 1492.4,2283.2 1495.4,2288.2 1498.4,2288.6 1501.4,2296.3 1504.4,2282.9 1507.4,2288.6 1510.4,2288.6 1513.4,2293.3 1516.4,2304.7 1519.4,2318 1522.4,2342.8 1525.4,2364 1528.4,2371.4 1531.4,2389.9 1534.4,2343.3 1537.4,2297.4 1540.4,2294.4 1543.4,2301.4 1546.4,2316.6 1549.4,2335.5 1552.4,2342.3 1555.4,2348.1 1558.4,2353.2 1561.4,2342.2 1564.4,2337.4 1567.4,2321.2 1570.4,2294.5 1573.4,2273.6 1576.4,2270.9 1579.4,2269.6 1582.4,2266.9 1585.4,2275.2 1588.4,2290.4 1591.4,2296.9 1594.4,2290.3 1597.4,2291.4 1600.4,2300.5 1603.4,2297.5 1606.4,2303 1609.4,2307.8 1612.4,2308.1 1615.4,2313.3 1618.4,2307.6 1621.4,2296.3 1624.4,2310.9 1627.4,2313.6 1630.4,2331.2 1633.4,2341.8 1636.4,2343.4 1639.4,2359.3 1642.4,2366.2 1645.4,2365.2 1648.4,2331.5 1651.4,2263.6 1654.4,2278.6 1657.4,2308.6 1660.4,2319.7 1663.4,2349.7 1666.4,2349.5 1669.4,2355.2 1672.4,2342.1 1675.4,2332.3 1678.4,2320.3 1681.4,2300.6 1684.4,2296.1 1687.4,2287 1690.4,2281.9 1693.4,2273 1696.4,2274.6 1699.4,2283.5 1702.4,2288.6 1705.4,2290.2 1708.4,2286.5 1711.4,2288.3 1714.4,2286.5 1717.4,2288.2 1720.4,2285.2 1723.4,2287.5 1726.4,2286.5 1729.4,2285.2 1732.4,2291.6 1735.4,2286.8 1738.4,2300.5 1741.4,2312.5 1744.4,2320.5 1747.4,2342.2 1750.4,2357.3 1753.4,2369 1756.4,2328.4 1759.4,2279.9 1762.4,2296.5 1765.4,2297.3 1768.4,2301.7 1771.4,2301.5 1774.4,2306.4 1777.4,2316.8 1780.4,2310.2 1783.4,2306.9 1786.4,2310.7 1789.4,2304.2 1792.4,2290.8 1795.4,2281.4 1798.4,2279.8 1801.4,2279.4 1804.4,2282.9 1807.4,2282.6 1810.4,2298.5 1813.4,2297.1 1816.4,2302.5 1819.4,2306.4 1822.4,2306 1825.4,2301 1828.4,2311.1 1831.4,2307.9 1834.4,2317.8 1837.4,2309.4 1840.4,2315.4 1843.4,2306.8 1846.4,2313.1 1849.4,2313.2 1852.4,2316.4 1855.4,2333.9 1858.4,2348.8 1861.4,2362.7 1864.4,2361.7 1867.4,2354.6 1870.4,2310.9 1873.4,2279.1 1876.4,2250.8 1879.4,2250.6 1882.4,2261.7 1885.4,2278.3 1888.4,2297.1 1891.4,2315.7 1894.4,2334.1 1897.4,2337.1 1900.4,2330.5 1903.4,2318.5 1906.4,2307.5 1909.4,2290.4 1912.4,2293.4 1915.4,2289 1918.4,2282.6 1921.4,2281.5 1924.4,2281.8 1927.4,2281.6 1930.4,2275.4 1933.4,2283.9 1936.4,2282.1 1939.4,2295.7 1942.4,2295.2 1945.4,2303 1948.4,2298.8 1951.4,2297.7 1954.4,2292.9 1957.4,2303.9 1960.4,2312.6 1963.4,2322.6 1966.4,2338.4 1969.4,2346.4 1972.4,2351.4 1975.4,2342.6 1978.4,2331.7 1981.4,2305.8 1984.4,2290.7 1987.4,2278.3 1990.4,2272.4 1993.4,2267.1 1996.4,2269.4 1999.4,2282.1 2002.4,2288 2005.4,2305.7 2008.4,2312.7 2011.4,2335.4 2014.4,2341.9 2017.4,2314.7 2020.4,2292.3 2023.4,2285.3 2026.4,2284.1 2029.4,2288.3 2032.4,2289.2 2035.4,2287.2 2038.4,2302.9 2041.4,2302.2 2044.4,2302.1 2047.4,2312.3 2050.4,2308.8 2053.4,2318.4 2056.4,2322.1 2059.4,2320.8 2062.4,2329.9 2065.4,2312.6 2068.4,2303.9 2071.4,2302.1 2074.4,2311 2077.4,2323 2080.4,2341.9 2083.4,2362.5 2086.4,2368.3 2089.4,2376.1 2089.4,2399.7 2086.4,2392.3 2083.4,2385.6 2080.4,2362.1 2077.4,2341.8 2074.4,2330.4 2071.4,2319.8 2068.4,2322.1 2065.4,2336.3 2062.4,2353.2 2059.4,2341.1 2056.4,2340 2053.4,2337.6 2050.4,2335.6 2047.4,2338.1 2044.4,2326.5 2041.4,2320.8 2038.4,2322.5 2035.4,2312.1 2032.4,2310 2029.4,2304.1 2026.4,2301 2023.4,2305.5 2020.4,2315.2 2017.4,2336.6 2014.4,2362.3 2011.4,2354 2008.4,2331.3 2005.4,2327.3 2002.4,2310.6 1999.4,2304.1 1996.4,2292.6 1993.4,2291 1990.4,2293.8 1987.4,2303.3 1984.4,2317.7 1981.4,2327.1 1978.4,2348.1 1975.4,2363.8 1972.4,2374 1969.4,2365.9 1966.4,2362.4 1963.4,2346.3 1960.4,2335.6 1957.4,2328.3 1954.4,2313.1 1951.4,2318.8 1948.4,2323.1 1945.4,2322.8 1942.4,2315.8 1939.4,2320.4 1936.4,2308.9 1933.4,2307.2 1930.4,2294.2 1927.4,2304.2 1924.4,2302.9 1921.4,2303 1918.4,2304.7 1915.4,2308.9 1912.4,2312.2 1909.4,2311.9 1906.4,2336.2 1903.4,2347.3 1900.4,2356.4 1897.4,2360.1 1894.4,2354.3 1891.4,2337.7 1888.4,2317.8 1885.4,2297.2 1882.4,2278.6 1879.4,2270.3 1876.4,2275.8 1873.4,2306.2 1870.4,2340.3 1867.4,2379.2 1864.4,2378 1861.4,2379.1 1858.4,2373.7 1855.4,2358.7 1852.4,2341.4 1849.4,2338.1 1846.4,2329.4 1843.4,2323.2 1840.4,2336.5 1837.4,2331.2 1834.4,2342.5 1831.4,2332.3 1828.4,2337.3 1825.4,2325.2 1822.4,2330.2 1819.4,2327.5 1816.4,2319.7 1813.4,2313.7 1810.4,2314.6 1807.4,2305.1 1804.4,2304.5 1801.4,2298.4 1798.4,2300.5 1795.4,2307.4 1792.4,2317.5 1789.4,2327.3 1786.4,2334.1 1783.4,2333.7 1780.4,2335.8 1777.4,2340.8 1774.4,2331.5 1771.4,2323.8 1768.4,2320.2 1765.4,2316.3 1762.4,2315.2 1759.4,2296.1 1756.4,2345.3 1753.4,2387.7 1750.4,2381.1 1747.4,2368.7 1744.4,2348.9 1741.4,2341.8 1738.4,2327 1735.4,2311 1732.4,2314.1 1729.4,2310.7 1726.4,2313.9 1723.4,2311.2 1720.4,2307.1 1717.4,2310.1 1714.4,2307.1 1711.4,2305.1 1708.4,2301.9 1705.4,2306.6 1702.4,2305.2 1699.4,2306.9 1696.4,2299.5 1693.4,2296.5 1690.4,2300.5 1687.4,2299.4 1684.4,2310.8 1681.4,2317.3 1678.4,2335.8 1675.4,2350.2 1672.4,2364.6 1669.4,2375.1 1666.4,2371.6 1663.4,2371 1660.4,2343.1 1657.4,2333.4 1654.4,2299.4 1651.4,2285.8 1648.4,2351.2 1645.4,2382.9 1642.4,2387.7 1639.4,2385.3 1636.4,2367.1 1633.4,2357.6 1630.4,2345.6 1627.4,2330.8 1624.4,2333.6 1621.4,2323.8 1618.4,2326.4 1615.4,2331.3 1612.4,2335.7 1609.4,2333.5 1606.4,2325.2 1603.4,2322 1600.4,2323.5 1597.4,2315 1594.4,2316.5 1591.4,2318.6 1588.4,2308.2 1585.4,2300.1 1582.4,2295.2 1579.4,2291.8 1576.4,2292.7 1573.4,2296.8 1570.4,2315.6 1567.4,2343.5 1564.4,2360.4 1561.4,2364.2 1558.4,2373.1 1555.4,2371.8 1552.4,2367 1549.4,2352.9 1546.4,2333.6 1543.4,2321.4 1540.4,2316 1537.4,2318.2 1534.4,2358.8 1531.4,2407.9 1528.4,2390.7 1525.4,2379.5 1522.4,2364.6 1519.4,2341.1 1516.4,2326 1513.4,2315.7 1510.4,2310.7 1507.4,2314.2 1504.4,2307.4 1501.4,2318.2 1498.4,2311.6 1495.4,2310.4 1492.4,2305.3 1489.4,2304.3 1486.4,2305 1483.4,2309.3 1480.4,2310.8 1477.4,2306.8 1474.4,2307.8 1471.4,2302.1 1468.4,2294.7 1465.4,2297.3 1462.4,2299.8 1459.4,2310.2 1456.4,2319.8 1453.4,2333.3 1450.4,2334.4 1447.4,2328.8 1444.4,2339.3 1441.4,2334 1438.4,2322.3 1435.4,2320.5 1432.4,2309.5 1429.4,2301.3 1426.4,2328.3 1423.4,2352.3 1420.4,2373.4 1417.4,2401.5 1414.4,2372.2 1411.4,2347.8 1408.4,2335.8 1405.4,2321 1402.4,2316.6 1399.4,2309.7 1396.4,2309.4 1393.4,2312 1390.4,2313.2 1387.4,2309.5 1384.4,2307 1381.4,2299.4 1378.4,2310.4 1375.4,2310 1372.4,2297.4 1369.4,2296.6 1366.4,2300.9 1363.4,2298.2 1360.4,2299.9 1357.4,2289.6 1354.4,2297.1 1351.4,2304.4 1348.4,2328.7 1345.4,2346 1342.4,2339.8 1339.4,2321.2 1336.4,2316.2 1333.4,2302.8 1330.4,2299.6 1327.4,2288.5 1324.4,2292 1321.4,2296.3 1318.4,2298 1315.4,2301.3 1312.4,2303.4 1309.4,2336.7 1306.4,2361.7 1303.4,2376.6 1300.4,2362 1297.4,2337.1 1294.4,2327.1 1291.4,2314.7 1288.4,2317.9 1285.4,2324.7 1282.4,2310.6 1279.4,2314 1276.4,2312.8 1273.4,2314.3 1270.4,2312.2 1267.4,2319.5 1264.4,2301.3 1261.4,2306.6 1258.4,2305 1255.4,2303.1 1252.4,2303.6 1249.4,2301.6 1246.4,2309.4 1243.4,2312.3 1240.4,2317.8 1237.4,2334.8 1234.4,2349.3 1231.4,2369.3 1228.4,2382.4 1225.4,2381.4 1222.4,2381.9 1219.4,2391 1216.4,2385.1 1213.4,2380.5 1210.4,2338.6 1207.4,2286.9 1204.4,2273.6 1201.4,2299.1 1198.4,2337.4 1195.4,2351.8 1192.4,2358.6 1189.4,2359.8 1186.4,2348.8 1183.4,2328.5 1180.4,2303.4 1177.4,2303.1 1174.4,2315.1 1171.4,2346.5 1168.4,2361.9 1165.4,2348.2 1162.4,2323.4 1159.4,2315.6 1156.4,2296.2 1153.4,2305.1 1150.4,2299.1 1147.4,2298.2 1144.4,2294.7 1141.4,2292 1138.4,2296.7 1135.4,2299.6 1132.4,2293.1 1129.4,2276.4 1126.4,2303.6 1123.4,2335.1 1120.4,2363.7 1117.4,2378.4 1114.4,2389.8 1111.4,2398.7 1108.4,2388.4 1105.4,2373.7 1102.4,2379.8 1099.4,2384 1096.4,2380.7 1093.4,2381.4 1090.4,2374.9 1087.4,2372.6 1084.4,2365.2 1081.4,2352.3" fill="#d6d7d9" fill-opacity="0.8"/>
<polyline points="1081.4,2344.9 1084.4,2355 1087.4,2362.9 1090.4,2363.7 1093.4,2372.5 1096.4,2370.4 1099.4,2373.4 1102.4,2370.4 1105.4,2363.6 1108.4,2376.5 1111.4,2384 1114.4,2376.7 1117.4,2368.5 1120.4,2355.9 1123.4,2328.5 1126.4,2292 1129.4,2260.4 1132.4,2277.5 1135.4,2285.9 1138.4,2286.9 1141.4,2282.3 1144.4,2285.5 1147.4,2290 1150.4,2286.5 1153.4,2293.7 1156.4,2286.1 1159.4,2301.8 1162.4,2312.8 1165.4,2339.4 1168.4,2353 1171.4,2340 1174.4,2308.9 1177.4,2296.7 1180.4,2294.9 1183.4,2316.4 1186.4,2333.4 1189.4,2344.4 1192.4,2347 1195.4,2341.9 1198.4,2329.4 1201.4,2289.9 1204.4,2264.4 1207.4,2276.6 1210.4,2324.3 1213.4,2366.5 1216.4,2371.2 1219.4,2378 1222.4,2367.6 1225.4,2365.9 1228.4,2371.9 1231.4,2361.4 1234.4,2339 1237.4,2326.6 1240.4,2311.8 1243.4,2300.9 1246.4,2297.2 1249.4,2290 1252.4,2292.6 1255.4,2296.8 1258.4,2297.8 1261.4,2298.3 1264.4,2292.3 1267.4,2310.5 1270.4,2302.3 1273.4,2305.8 1276.4,2302.8 1279.4,2303 1282.4,2298.9 1285.4,2309.2 1288.4,2307.8 1291.4,2304.9 1294.4,2313.3 1297.4,2328.3 1300.4,2355.4 1303.4,2366.8 1306.4,2350.2 1309.4,2324.4 1312.4,2290.9 1315.4,2287.2 1318.4,2283.3 1321.4,2282.8 1324.4,2282.3 1327.4,2280.3 1330.4,2286.9 1333.4,2293 1336.4,2310.5 1339.4,2314.9 1342.4,2329.4 1345.4,2336 1348.4,2320.9 1351.4,2293.8 1354.4,2284.9 1357.4,2278.3 1360.4,2287.6 1363.4,2286.2 1366.4,2291.2 1369.4,2288.4 1372.4,2289 1375.4,2298 1378.4,2297.5 1381.4,2289.8 1384.4,2299.8 1387.4,2298.7 1390.4,2303.4 1393.4,2306.4 1396.4,2303.3 1399.4,2299.4 1402.4,2305.3 1405.4,2312.1 1408.4,2328 1411.4,2340.1 1414.4,2363.6 1417.4,2394 1420.4,2364 1423.4,2340.6 1426.4,2315.5 1429.4,2291.5 1432.4,2300.3 1435.4,2306.4 1438.4,2312.6 1441.4,2326.5 1444.4,2330.1 1447.4,2317.1 1450.4,2321.8 1453.4,2324.3 1456.4,2313 1459.4,2301.2 1462.4,2289.4 1465.4,2287.5 1468.4,2284.9 1471.4,2289.4 1474.4,2294.9 1477.4,2295 1480.4,2297.3 1483.4,2299 1486.4,2295.8 1489.4,2294.3 1492.4,2293.9 1495.4,2299.3 1498.4,2299.6 1501.4,2305.6 1504.4,2294.4 1507.4,2298.8 1510.4,2299.1 1513.4,2306.3 1516.4,2316.1 1519.4,2328.2 1522.4,2351.2 1525.4,2370.1 1528.4,2381.4 1531.4,2399.6 1534.4,2349.8 1537.4,2305.9 1540.4,2301.7 1543.4,2306.7 1546.4,2321.4 1549.4,2343.6 1552.4,2356.4 1555.4,2359.5 1558.4,2362.7 1561.4,2354.5 1564.4,2349.3 1567.4,2334.5 1570.4,2306.8 1573.4,2285.3 1576.4,2281.9 1579.4,2281 1582.4,2281.4 1585.4,2288.6 1588.4,2299.5 1591.4,2306.6 1594.4,2304.5 1597.4,2304.8 1600.4,2311.9 1603.4,2308.6 1606.4,2315.1 1609.4,2321.8 1612.4,2320.5 1615.4,2322 1618.4,2318.5 1621.4,2311.3 1624.4,2323 1627.4,2320.3 1630.4,2336.4 1633.4,2352.4 1636.4,2357.5 1639.4,2370.1 1642.4,2374.1 1645.4,2373.5 1648.4,2343.1 1651.4,2278.2 1654.4,2293.3 1657.4,2322.7 1660.4,2332.3 1663.4,2362.9 1666.4,2361.5 1669.4,2364.6 1672.4,2352.7 1675.4,2341 1678.4,2327.5 1681.4,2309.1 1684.4,2303.8 1687.4,2292.1 1690.4,2289.7 1693.4,2285.9 1696.4,2289.1 1699.4,2293.7 1702.4,2294.5 1705.4,2295.5 1708.4,2293.2 1711.4,2298.3 1714.4,2298.3 1717.4,2301.9 1720.4,2299.9 1723.4,2301.4 1726.4,2299.9 1729.4,2296 1732.4,2303.6 1735.4,2302.3 1738.4,2315.4 1741.4,2327.8 1744.4,2335 1747.4,2354.7 1750.4,2369.9 1753.4,2378.9 1756.4,2334.5 1759.4,2286.1 1762.4,2303.7 1765.4,2305.2 1768.4,2310.3 1771.4,2312.9 1774.4,2317.9 1777.4,2329.5 1780.4,2326.2 1783.4,2323 1786.4,2323.3 1789.4,2316 1792.4,2305.6 1795.4,2295.2 1798.4,2291.4 1801.4,2289.5 1804.4,2293.9 1807.4,2293.4 1810.4,2305.5 1813.4,2306.2 1816.4,2312.1 1819.4,2317.5 1822.4,2320 1825.4,2314.4 1828.4,2325.1 1831.4,2321.6 1834.4,2332 1837.4,2320.8 1840.4,2322.8 1843.4,2312.3 1846.4,2319.4 1849.4,2324.8 1852.4,2330.4 1855.4,2345.8 1858.4,2358.5 1861.4,2368.8 1864.4,2369.8 1867.4,2367.6 1870.4,2325.9 1873.4,2290.9 1876.4,2260.4 1879.4,2258.3 1882.4,2267.2 1885.4,2285.9 1888.4,2309.8 1891.4,2327.2 1894.4,2344.4 1897.4,2351.9 1900.4,2343.5 1903.4,2331.6 1906.4,2322.3 1909.4,2302.3 1912.4,2302 1915.4,2296.7 1918.4,2293.4 1921.4,2291.2 1924.4,2292.9 1927.4,2296.4 1930.4,2287.7 1933.4,2296.6 1936.4,2297.7 1939.4,2312.3 1942.4,2307.8 1945.4,2312.1 1948.4,2310.6 1951.4,2309.5 1954.4,2305.8 1957.4,2318.7 1960.4,2322.4 1963.4,2331.9 1966.4,2347.4 1969.4,2355.5 1972.4,2365.4 1975.4,2354.9 1978.4,2342.6 1981.4,2319.5 1984.4,2304.9 1987.4,2288.5 1990.4,2278.4 1993.4,2274.8 1996.4,2276.7 1999.4,2288.7 2002.4,2295.7 2005.4,2316.9 2008.4,2325.2 2011.4,2343 2014.4,2348.9 2017.4,2326.5 2020.4,2305.5 2023.4,2295.6 2026.4,2293.9 2029.4,2299.1 2032.4,2301.7 2035.4,2300.6 2038.4,2313 2041.4,2313.1 2044.4,2316.6 2047.4,2324.7 2050.4,2319.6 2053.4,2326.4 2056.4,2332.7 2059.4,2333.8 2062.4,2343.2 2065.4,2323.3 2068.4,2311.8 2071.4,2313 2074.4,2324 2077.4,2335.7 2080.4,2352.2 2083.4,2374.6 2086.4,2381.9 2089.4,2388.4" fill="none" stroke="#cfd0d2" stroke-width="4" stroke-linejoin="round" />
<line x1="1079.5" y1="2193.1" x2="1079.5" y2="2523" stroke="#0a0a0a" stroke-width="4.2" stroke-linecap="butt" />
<line x1="1071.5" y1="2507" x2="1079.5" y2="2507" stroke="#0a0a0a" stroke-width="3" stroke-linecap="butt" />
<text x="1061.5" y="2517.3" font-size="29.3" text-anchor="end">0.000</text>
<line x1="1071.5" y1="2444.5" x2="1079.5" y2="2444.5" stroke="#0a0a0a" stroke-width="3" stroke-linecap="butt" />
<text x="1061.5" y="2454.8" font-size="29.3" text-anchor="end">0.005</text>
<line x1="1071.5" y1="2382" x2="1079.5" y2="2382" stroke="#0a0a0a" stroke-width="3" stroke-linecap="butt" />
<text x="1061.5" y="2392.3" font-size="29.3" text-anchor="end">0.010</text>
<line x1="1071.5" y1="2319.6" x2="1079.5" y2="2319.6" stroke="#0a0a0a" stroke-width="3" stroke-linecap="butt" />
<text x="1061.5" y="2329.9" font-size="29.3" text-anchor="end">0.015</text>
<line x1="1071.5" y1="2257.1" x2="1079.5" y2="2257.1" stroke="#0a0a0a" stroke-width="3" stroke-linecap="butt" />
<text x="1061.5" y="2267.4" font-size="29.3" text-anchor="end">0.020</text>
<line x1="1071.5" y1="2194.6" x2="1079.5" y2="2194.6" stroke="#0a0a0a" stroke-width="3" stroke-linecap="butt" />
<text x="1061.5" y="2204.9" font-size="29.3" text-anchor="end">0.025</text>
<rect x="1077.5" y="2505.5" width="1019" height="18.5" fill="#0a0a0a" />
<rect x="1082" y="2512.5" width="42.8" height="8" fill="#ffffff" />
<rect x="1127.9" y="2512.5" width="52.7" height="8" fill="#2c2b2d" />
<rect x="1184.9" y="2512.5" width="51" height="8" fill="#ffffff" />
<rect x="1240.1" y="2512.5" width="52.7" height="8" fill="#2c2b2d" />
<rect x="1297.1" y="2512.5" width="51" height="8" fill="#ffffff" />
<rect x="1352.2" y="2512.5" width="52.7" height="8" fill="#2c2b2d" />
<rect x="1409.2" y="2512.5" width="51" height="8" fill="#ffffff" />
<rect x="1464.4" y="2512.5" width="52.7" height="8" fill="#2c2b2d" />
<rect x="1521.4" y="2512.5" width="51" height="8" fill="#ffffff" />
<rect x="1576.5" y="2512.5" width="52.7" height="8" fill="#2c2b2d" />
<rect x="1633.5" y="2512.5" width="51" height="8" fill="#ffffff" />
<rect x="1688.7" y="2512.5" width="52.7" height="8" fill="#2c2b2d" />
<rect x="1745.7" y="2512.5" width="51" height="8" fill="#ffffff" />
<rect x="1800.8" y="2512.5" width="52.7" height="8" fill="#2c2b2d" />
<rect x="1857.8" y="2512.5" width="51" height="8" fill="#ffffff" />
<rect x="1913" y="2512.5" width="52.7" height="8" fill="#2c2b2d" />
<rect x="1970" y="2512.5" width="51" height="8" fill="#ffffff" />
<rect x="2025.1" y="2512.5" width="52.7" height="8" fill="#2c2b2d" />
<rect x="2082.1" y="2512.5" width="10.9" height="8" fill="#ffffff" />
<line x1="1123" y1="2532.7" x2="1234" y2="2532.7" stroke="#0a0a0a" stroke-width="3.3" stroke-linecap="round" />
<text x="1178.5" y="2560.2" font-size="28" text-anchor="middle" letter-spacing="-0.8">24 hours</text>
<text x="1608" y="2580" font-size="29" text-anchor="middle">Time (days)</text>
<text x="1608" y="2149" font-size="36" text-anchor="middle">Movement</text>
<line x1="1311" y1="2208.7" x2="2096" y2="2208.7" stroke="#0a0a0a" stroke-width="3.3" stroke-linecap="round" />
<text x="1724.5" y="2200.3" font-size="29" text-anchor="middle"><tspan font-style="italic">P</tspan> = 0.58</text>
<text x="972" y="2349" font-size="29" text-anchor="middle" transform="rotate(-90 972 2349)">Movement (m/s)</text>
<polygon points="1195.6,2455.9 1189.1,2464.9 1202.1,2464.9" fill="#0a0a0a"/>
<line x1="1195.6" y1="2463.9" x2="1195.6" y2="2471.4" stroke="#0a0a0a" stroke-width="3.3" stroke-linecap="butt" />
<polygon points="1309.2,2455.9 1302.7,2464.9 1315.7,2464.9" fill="#0a0a0a"/>
<line x1="1309.2" y1="2463.9" x2="1309.2" y2="2471.4" stroke="#0a0a0a" stroke-width="3.3" stroke-linecap="butt" />
<polygon points="1421.3,2455.9 1414.8,2464.9 1427.8,2464.9" fill="#0a0a0a"/>
<line x1="1421.3" y1="2463.9" x2="1421.3" y2="2471.4" stroke="#0a0a0a" stroke-width="3.3" stroke-linecap="butt" />
<polygon points="1533.5,2455.9 1527,2464.9 1540,2464.9" fill="#0a0a0a"/>
<line x1="1533.5" y1="2463.9" x2="1533.5" y2="2471.4" stroke="#0a0a0a" stroke-width="3.3" stroke-linecap="butt" />
<polygon points="1645.6,2455.9 1639.1,2464.9 1652.1,2464.9" fill="#0a0a0a"/>
<line x1="1645.6" y1="2463.9" x2="1645.6" y2="2471.4" stroke="#0a0a0a" stroke-width="3.3" stroke-linecap="butt" />
<polygon points="1757.7,2455.9 1751.2,2464.9 1764.2,2464.9" fill="#0a0a0a"/>
<line x1="1757.7" y1="2463.9" x2="1757.7" y2="2471.4" stroke="#0a0a0a" stroke-width="3.3" stroke-linecap="butt" />
<polygon points="1869.8,2455.9 1863.3,2464.9 1876.3,2464.9" fill="#0a0a0a"/>
<line x1="1869.8" y1="2463.9" x2="1869.8" y2="2471.4" stroke="#0a0a0a" stroke-width="3.3" stroke-linecap="butt" />
<polygon points="1982,2455.9 1975.5,2464.9 1988.5,2464.9" fill="#0a0a0a"/>
<line x1="1982" y1="2463.9" x2="1982" y2="2471.4" stroke="#0a0a0a" stroke-width="3.3" stroke-linecap="butt" />
<text x="1198" y="2496" font-size="29" text-anchor="middle">Saline</text>
<text x="1313" y="2496" font-size="29" text-anchor="middle">Drug</text>
<line x1="1084" y1="2196.3" x2="1107" y2="2196.3" stroke="#d1d3d4" stroke-width="7" stroke-linecap="round" />
<text x="1110.5" y="2207.3" font-size="29">CL</text>
<line x1="1084" y1="2224.3" x2="1107" y2="2224.3" stroke="#7ccaa6" stroke-width="7" stroke-linecap="round" />
<text x="1110.5" y="2235.1" font-size="29">CL+DCZ</text>
<text x="1079.7" y="2140.5" font-size="29" font-style="italic">hM3Dq:Ckb<tspan font-size="18" dy="-11" font-style="normal">fl/+</tspan></text>
<text x="1080.5" y="2171.5" font-size="29" font-style="italic">AdipoqCre:Ckb<tspan font-size="18" dy="-11" font-style="normal">fl/+</tspan></text></svg>
</body></html>
